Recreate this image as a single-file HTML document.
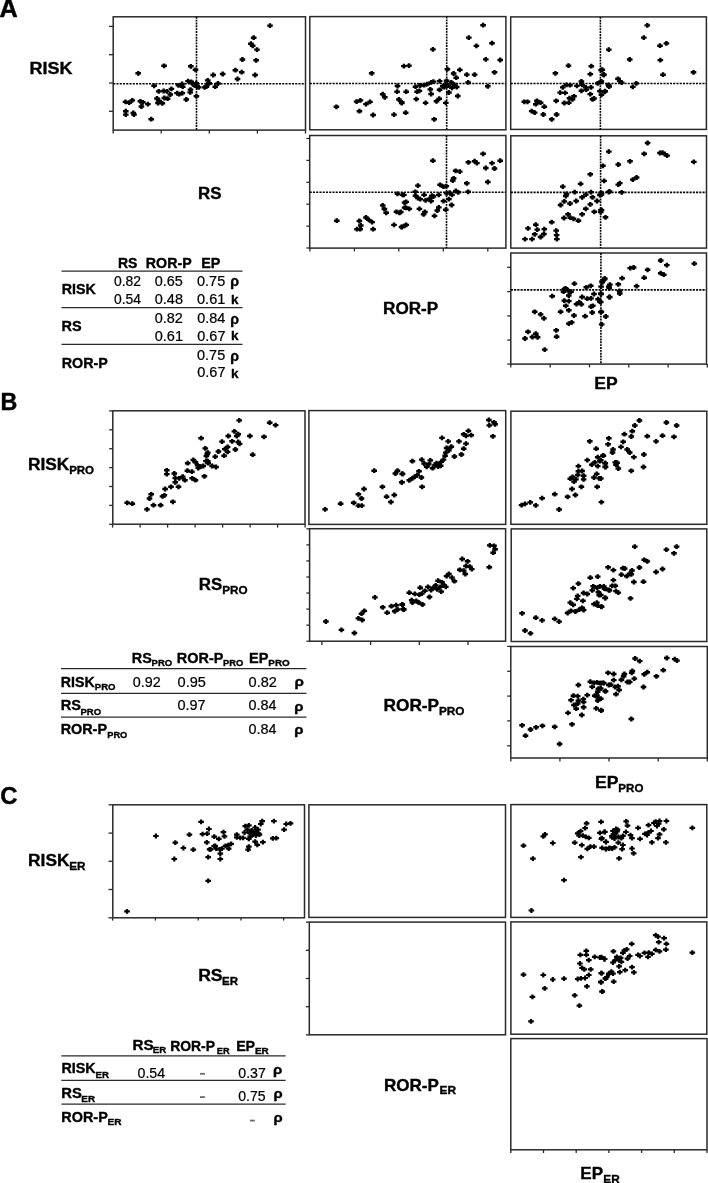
<!DOCTYPE html>
<html><head><meta charset="utf-8"><title>Figure</title>
<style>
html,body{margin:0;padding:0;background:#fff;}
body{width:708px;height:1183px;overflow:hidden;}
svg{display:block;will-change:transform;}
svg text{font-family:"Liberation Sans",sans-serif;fill:#000;}
</style></head>
<body>
<svg width="708" height="1183" viewBox="0 0 708 1183">
<rect width="708" height="1183" fill="#fff"/>
<rect x="113.20" y="16.80" width="192.30" height="113.30" fill="none" stroke="#2a2a2a" stroke-width="1.5"/>
<rect x="309.80" y="16.60" width="196.10" height="113.20" fill="none" stroke="#2a2a2a" stroke-width="1.5"/>
<rect x="510.70" y="16.90" width="195.70" height="112.50" fill="none" stroke="#2a2a2a" stroke-width="1.5"/>
<rect x="309.70" y="135.50" width="196.20" height="112.60" fill="none" stroke="#2a2a2a" stroke-width="1.5"/>
<rect x="510.80" y="135.80" width="195.70" height="112.30" fill="none" stroke="#2a2a2a" stroke-width="1.5"/>
<rect x="510.80" y="253.00" width="195.70" height="111.10" fill="none" stroke="#2a2a2a" stroke-width="1.5"/>
<line x1="109.00" y1="26.40" x2="113.20" y2="26.40" stroke="#2a2a2a" stroke-width="1.3"/>
<line x1="109.00" y1="54.70" x2="113.20" y2="54.70" stroke="#2a2a2a" stroke-width="1.3"/>
<line x1="109.00" y1="83.00" x2="113.20" y2="83.00" stroke="#2a2a2a" stroke-width="1.3"/>
<line x1="109.00" y1="111.30" x2="113.20" y2="111.30" stroke="#2a2a2a" stroke-width="1.3"/>
<line x1="113.20" y1="130.10" x2="113.20" y2="133.60" stroke="#2a2a2a" stroke-width="1.3"/>
<line x1="161.20" y1="130.10" x2="161.20" y2="133.60" stroke="#2a2a2a" stroke-width="1.3"/>
<line x1="209.30" y1="130.10" x2="209.30" y2="133.60" stroke="#2a2a2a" stroke-width="1.3"/>
<line x1="257.40" y1="130.10" x2="257.40" y2="133.60" stroke="#2a2a2a" stroke-width="1.3"/>
<line x1="305.50" y1="130.10" x2="305.50" y2="133.60" stroke="#2a2a2a" stroke-width="1.3"/>
<line x1="306.40" y1="138.50" x2="309.70" y2="138.50" stroke="#2a2a2a" stroke-width="1.3"/>
<line x1="306.40" y1="160.40" x2="309.70" y2="160.40" stroke="#2a2a2a" stroke-width="1.3"/>
<line x1="306.40" y1="182.30" x2="309.70" y2="182.30" stroke="#2a2a2a" stroke-width="1.3"/>
<line x1="306.40" y1="204.20" x2="309.70" y2="204.20" stroke="#2a2a2a" stroke-width="1.3"/>
<line x1="306.40" y1="226.10" x2="309.70" y2="226.10" stroke="#2a2a2a" stroke-width="1.3"/>
<line x1="306.40" y1="248.00" x2="309.70" y2="248.00" stroke="#2a2a2a" stroke-width="1.3"/>
<line x1="309.90" y1="248.10" x2="309.90" y2="251.50" stroke="#2a2a2a" stroke-width="1.3"/>
<line x1="354.40" y1="248.10" x2="354.40" y2="251.50" stroke="#2a2a2a" stroke-width="1.3"/>
<line x1="398.80" y1="248.10" x2="398.80" y2="251.50" stroke="#2a2a2a" stroke-width="1.3"/>
<line x1="443.30" y1="248.10" x2="443.30" y2="251.50" stroke="#2a2a2a" stroke-width="1.3"/>
<line x1="487.80" y1="248.10" x2="487.80" y2="251.50" stroke="#2a2a2a" stroke-width="1.3"/>
<line x1="507.20" y1="267.30" x2="510.80" y2="267.30" stroke="#2a2a2a" stroke-width="1.3"/>
<line x1="507.20" y1="291.60" x2="510.80" y2="291.60" stroke="#2a2a2a" stroke-width="1.3"/>
<line x1="507.20" y1="315.90" x2="510.80" y2="315.90" stroke="#2a2a2a" stroke-width="1.3"/>
<line x1="507.20" y1="340.10" x2="510.80" y2="340.10" stroke="#2a2a2a" stroke-width="1.3"/>
<line x1="507.20" y1="364.10" x2="510.80" y2="364.10" stroke="#2a2a2a" stroke-width="1.3"/>
<line x1="510.80" y1="364.10" x2="510.80" y2="367.40" stroke="#2a2a2a" stroke-width="1.3"/>
<line x1="550.20" y1="364.10" x2="550.20" y2="367.40" stroke="#2a2a2a" stroke-width="1.3"/>
<line x1="589.50" y1="364.10" x2="589.50" y2="367.40" stroke="#2a2a2a" stroke-width="1.3"/>
<line x1="628.80" y1="364.10" x2="628.80" y2="367.40" stroke="#2a2a2a" stroke-width="1.3"/>
<line x1="668.10" y1="364.10" x2="668.10" y2="367.40" stroke="#2a2a2a" stroke-width="1.3"/>
<line x1="707.30" y1="364.10" x2="707.30" y2="367.40" stroke="#2a2a2a" stroke-width="1.3"/>
<line x1="196.50" y1="16.80" x2="196.50" y2="130.10" stroke="#000" stroke-width="1.6" stroke-dasharray="1.9 0.95"/>
<line x1="113.20" y1="83.70" x2="305.50" y2="83.70" stroke="#000" stroke-width="1.6" stroke-dasharray="2.1 1.15"/>
<line x1="446.70" y1="16.60" x2="446.70" y2="129.80" stroke="#000" stroke-width="1.6" stroke-dasharray="1.9 0.95"/>
<line x1="309.80" y1="83.50" x2="505.90" y2="83.50" stroke="#000" stroke-width="1.6" stroke-dasharray="2.1 1.15"/>
<line x1="600.40" y1="16.90" x2="600.40" y2="129.40" stroke="#000" stroke-width="1.6" stroke-dasharray="1.9 0.95"/>
<line x1="510.70" y1="83.50" x2="706.40" y2="83.50" stroke="#000" stroke-width="1.6" stroke-dasharray="2.1 1.15"/>
<line x1="446.50" y1="135.50" x2="446.50" y2="248.10" stroke="#000" stroke-width="1.6" stroke-dasharray="1.9 0.95"/>
<line x1="309.70" y1="192.20" x2="505.90" y2="192.20" stroke="#000" stroke-width="1.6" stroke-dasharray="2.1 1.15"/>
<line x1="600.60" y1="135.80" x2="600.60" y2="248.10" stroke="#000" stroke-width="1.6" stroke-dasharray="1.9 0.95"/>
<line x1="510.80" y1="192.40" x2="706.50" y2="192.40" stroke="#000" stroke-width="1.6" stroke-dasharray="2.1 1.15"/>
<line x1="600.90" y1="253.00" x2="600.90" y2="364.10" stroke="#000" stroke-width="1.6" stroke-dasharray="1.9 0.95"/>
<line x1="510.80" y1="289.90" x2="706.50" y2="289.90" stroke="#000" stroke-width="1.6" stroke-dasharray="2.1 1.15"/>
<g fill="#000">
<path transform="translate(138.2,73.3)" d="M-2.8,-1.2h1.6v-1.2h2.4v1.2h1.6v2.4h-1.6v1.2h-2.4v-1.2h-1.6z"/>
<path transform="translate(164.1,65.8)" d="M-2.8,-1.2h1.6v-1.2h2.4v1.2h1.6v2.4h-1.6v1.2h-2.4v-1.2h-1.6z"/>
<path transform="translate(190.8,66.3)" d="M-2.8,-1.2h1.6v-1.2h2.4v1.2h1.6v2.4h-1.6v1.2h-2.4v-1.2h-1.6z"/>
<path transform="translate(195.5,69.8)" d="M-2.8,-1.2h1.6v-1.2h2.4v1.2h1.6v2.4h-1.6v1.2h-2.4v-1.2h-1.6z"/>
<path transform="translate(154.1,85.8)" d="M-2.8,-1.2h1.6v-1.2h2.4v1.2h1.6v2.4h-1.6v1.2h-2.4v-1.2h-1.6z"/>
<path transform="translate(158.7,91.4)" d="M-2.8,-1.2h1.6v-1.2h2.4v1.2h1.6v2.4h-1.6v1.2h-2.4v-1.2h-1.6z"/>
<path transform="translate(163.7,91.0)" d="M-2.8,-1.2h1.6v-1.2h2.4v1.2h1.6v2.4h-1.6v1.2h-2.4v-1.2h-1.6z"/>
<path transform="translate(166.9,91.4)" d="M-2.8,-1.2h1.6v-1.2h2.4v1.2h1.6v2.4h-1.6v1.2h-2.4v-1.2h-1.6z"/>
<path transform="translate(171.4,88.9)" d="M-2.8,-1.2h1.6v-1.2h2.4v1.2h1.6v2.4h-1.6v1.2h-2.4v-1.2h-1.6z"/>
<path transform="translate(170.3,94.5)" d="M-2.8,-1.2h1.6v-1.2h2.4v1.2h1.6v2.4h-1.6v1.2h-2.4v-1.2h-1.6z"/>
<path transform="translate(164.4,98.0)" d="M-2.8,-1.2h1.6v-1.2h2.4v1.2h1.6v2.4h-1.6v1.2h-2.4v-1.2h-1.6z"/>
<path transform="translate(167.6,98.7)" d="M-2.8,-1.2h1.6v-1.2h2.4v1.2h1.6v2.4h-1.6v1.2h-2.4v-1.2h-1.6z"/>
<path transform="translate(157.0,98.5)" d="M-2.8,-1.2h1.6v-1.2h2.4v1.2h1.6v2.4h-1.6v1.2h-2.4v-1.2h-1.6z"/>
<path transform="translate(158.0,103.0)" d="M-2.8,-1.2h1.6v-1.2h2.4v1.2h1.6v2.4h-1.6v1.2h-2.4v-1.2h-1.6z"/>
<path transform="translate(162.3,103.3)" d="M-2.8,-1.2h1.6v-1.2h2.4v1.2h1.6v2.4h-1.6v1.2h-2.4v-1.2h-1.6z"/>
<path transform="translate(159.2,100.9)" d="M-2.8,-1.2h1.6v-1.2h2.4v1.2h1.6v2.4h-1.6v1.2h-2.4v-1.2h-1.6z"/>
<path transform="translate(125.5,101.9)" d="M-2.8,-1.2h1.6v-1.2h2.4v1.2h1.6v2.4h-1.6v1.2h-2.4v-1.2h-1.6z"/>
<path transform="translate(129.1,102.7)" d="M-2.8,-1.2h1.6v-1.2h2.4v1.2h1.6v2.4h-1.6v1.2h-2.4v-1.2h-1.6z"/>
<path transform="translate(132.3,100.4)" d="M-2.8,-1.2h1.6v-1.2h2.4v1.2h1.6v2.4h-1.6v1.2h-2.4v-1.2h-1.6z"/>
<path transform="translate(140.4,101.3)" d="M-2.8,-1.2h1.6v-1.2h2.4v1.2h1.6v2.4h-1.6v1.2h-2.4v-1.2h-1.6z"/>
<path transform="translate(142.8,102.3)" d="M-2.8,-1.2h1.6v-1.2h2.4v1.2h1.6v2.4h-1.6v1.2h-2.4v-1.2h-1.6z"/>
<path transform="translate(141.4,106.5)" d="M-2.8,-1.2h1.6v-1.2h2.4v1.2h1.6v2.4h-1.6v1.2h-2.4v-1.2h-1.6z"/>
<path transform="translate(147.9,104.1)" d="M-2.8,-1.2h1.6v-1.2h2.4v1.2h1.6v2.4h-1.6v1.2h-2.4v-1.2h-1.6z"/>
<path transform="translate(125.8,111.2)" d="M-2.8,-1.2h1.6v-1.2h2.4v1.2h1.6v2.4h-1.6v1.2h-2.4v-1.2h-1.6z"/>
<path transform="translate(125.8,114.6)" d="M-2.8,-1.2h1.6v-1.2h2.4v1.2h1.6v2.4h-1.6v1.2h-2.4v-1.2h-1.6z"/>
<path transform="translate(133.3,112.9)" d="M-2.8,-1.2h1.6v-1.2h2.4v1.2h1.6v2.4h-1.6v1.2h-2.4v-1.2h-1.6z"/>
<path transform="translate(134.0,114.6)" d="M-2.8,-1.2h1.6v-1.2h2.4v1.2h1.6v2.4h-1.6v1.2h-2.4v-1.2h-1.6z"/>
<path transform="translate(151.2,119.2)" d="M-2.8,-1.2h1.6v-1.2h2.4v1.2h1.6v2.4h-1.6v1.2h-2.4v-1.2h-1.6z"/>
<path transform="translate(177.1,93.1)" d="M-2.8,-1.2h1.6v-1.2h2.4v1.2h1.6v2.4h-1.6v1.2h-2.4v-1.2h-1.6z"/>
<path transform="translate(179.2,94.2)" d="M-2.8,-1.2h1.6v-1.2h2.4v1.2h1.6v2.4h-1.6v1.2h-2.4v-1.2h-1.6z"/>
<path transform="translate(182.3,93.1)" d="M-2.8,-1.2h1.6v-1.2h2.4v1.2h1.6v2.4h-1.6v1.2h-2.4v-1.2h-1.6z"/>
<path transform="translate(178.5,85.3)" d="M-2.8,-1.2h1.6v-1.2h2.4v1.2h1.6v2.4h-1.6v1.2h-2.4v-1.2h-1.6z"/>
<path transform="translate(182.0,83.9)" d="M-2.8,-1.2h1.6v-1.2h2.4v1.2h1.6v2.4h-1.6v1.2h-2.4v-1.2h-1.6z"/>
<path transform="translate(182.7,86.7)" d="M-2.8,-1.2h1.6v-1.2h2.4v1.2h1.6v2.4h-1.6v1.2h-2.4v-1.2h-1.6z"/>
<path transform="translate(186.3,99.5)" d="M-2.8,-1.2h1.6v-1.2h2.4v1.2h1.6v2.4h-1.6v1.2h-2.4v-1.2h-1.6z"/>
<path transform="translate(188.1,81.1)" d="M-2.8,-1.2h1.6v-1.2h2.4v1.2h1.6v2.4h-1.6v1.2h-2.4v-1.2h-1.6z"/>
<path transform="translate(191.2,81.8)" d="M-2.8,-1.2h1.6v-1.2h2.4v1.2h1.6v2.4h-1.6v1.2h-2.4v-1.2h-1.6z"/>
<path transform="translate(190.5,89.6)" d="M-2.8,-1.2h1.6v-1.2h2.4v1.2h1.6v2.4h-1.6v1.2h-2.4v-1.2h-1.6z"/>
<path transform="translate(190.2,92.4)" d="M-2.8,-1.2h1.6v-1.2h2.4v1.2h1.6v2.4h-1.6v1.2h-2.4v-1.2h-1.6z"/>
<path transform="translate(193.3,84.3)" d="M-2.8,-1.2h1.6v-1.2h2.4v1.2h1.6v2.4h-1.6v1.2h-2.4v-1.2h-1.6z"/>
<path transform="translate(196.2,83.2)" d="M-2.8,-1.2h1.6v-1.2h2.4v1.2h1.6v2.4h-1.6v1.2h-2.4v-1.2h-1.6z"/>
<path transform="translate(197.3,86.7)" d="M-2.8,-1.2h1.6v-1.2h2.4v1.2h1.6v2.4h-1.6v1.2h-2.4v-1.2h-1.6z"/>
<path transform="translate(198.7,87.4)" d="M-2.8,-1.2h1.6v-1.2h2.4v1.2h1.6v2.4h-1.6v1.2h-2.4v-1.2h-1.6z"/>
<path transform="translate(196.4,96.2)" d="M-2.8,-1.2h1.6v-1.2h2.4v1.2h1.6v2.4h-1.6v1.2h-2.4v-1.2h-1.6z"/>
<path transform="translate(194.5,85.3)" d="M-2.8,-1.2h1.6v-1.2h2.4v1.2h1.6v2.4h-1.6v1.2h-2.4v-1.2h-1.6z"/>
<path transform="translate(204.6,87.4)" d="M-2.8,-1.2h1.6v-1.2h2.4v1.2h1.6v2.4h-1.6v1.2h-2.4v-1.2h-1.6z"/>
<path transform="translate(207.7,80.4)" d="M-2.8,-1.2h1.6v-1.2h2.4v1.2h1.6v2.4h-1.6v1.2h-2.4v-1.2h-1.6z"/>
<path transform="translate(208.2,83.9)" d="M-2.8,-1.2h1.6v-1.2h2.4v1.2h1.6v2.4h-1.6v1.2h-2.4v-1.2h-1.6z"/>
<path transform="translate(270.0,25.6)" d="M-2.8,-1.2h1.6v-1.2h2.4v1.2h1.6v2.4h-1.6v1.2h-2.4v-1.2h-1.6z"/>
<path transform="translate(253.7,37.7)" d="M-2.8,-1.2h1.6v-1.2h2.4v1.2h1.6v2.4h-1.6v1.2h-2.4v-1.2h-1.6z"/>
<path transform="translate(250.9,43.7)" d="M-2.8,-1.2h1.6v-1.2h2.4v1.2h1.6v2.4h-1.6v1.2h-2.4v-1.2h-1.6z"/>
<path transform="translate(252.7,45.8)" d="M-2.8,-1.2h1.6v-1.2h2.4v1.2h1.6v2.4h-1.6v1.2h-2.4v-1.2h-1.6z"/>
<path transform="translate(257.0,49.6)" d="M-2.8,-1.2h1.6v-1.2h2.4v1.2h1.6v2.4h-1.6v1.2h-2.4v-1.2h-1.6z"/>
<path transform="translate(242.4,59.5)" d="M-2.8,-1.2h1.6v-1.2h2.4v1.2h1.6v2.4h-1.6v1.2h-2.4v-1.2h-1.6z"/>
<path transform="translate(256.1,60.3)" d="M-2.8,-1.2h1.6v-1.2h2.4v1.2h1.6v2.4h-1.6v1.2h-2.4v-1.2h-1.6z"/>
<path transform="translate(235.4,70.2)" d="M-2.8,-1.2h1.6v-1.2h2.4v1.2h1.6v2.4h-1.6v1.2h-2.4v-1.2h-1.6z"/>
<path transform="translate(241.7,72.2)" d="M-2.8,-1.2h1.6v-1.2h2.4v1.2h1.6v2.4h-1.6v1.2h-2.4v-1.2h-1.6z"/>
<path transform="translate(237.5,79.0)" d="M-2.8,-1.2h1.6v-1.2h2.4v1.2h1.6v2.4h-1.6v1.2h-2.4v-1.2h-1.6z"/>
<path transform="translate(255.1,75.0)" d="M-2.8,-1.2h1.6v-1.2h2.4v1.2h1.6v2.4h-1.6v1.2h-2.4v-1.2h-1.6z"/>
<path transform="translate(213.2,75.0)" d="M-2.8,-1.2h1.6v-1.2h2.4v1.2h1.6v2.4h-1.6v1.2h-2.4v-1.2h-1.6z"/>
<path transform="translate(222.7,74.0)" d="M-2.8,-1.2h1.6v-1.2h2.4v1.2h1.6v2.4h-1.6v1.2h-2.4v-1.2h-1.6z"/>
<path transform="translate(209.2,83.2)" d="M-2.8,-1.2h1.6v-1.2h2.4v1.2h1.6v2.4h-1.6v1.2h-2.4v-1.2h-1.6z"/>
<path transform="translate(206.4,86.7)" d="M-2.8,-1.2h1.6v-1.2h2.4v1.2h1.6v2.4h-1.6v1.2h-2.4v-1.2h-1.6z"/>
<path transform="translate(215.2,86.7)" d="M-2.8,-1.2h1.6v-1.2h2.4v1.2h1.6v2.4h-1.6v1.2h-2.4v-1.2h-1.6z"/>
<path transform="translate(218.0,83.5)" d="M-2.8,-1.2h1.6v-1.2h2.4v1.2h1.6v2.4h-1.6v1.2h-2.4v-1.2h-1.6z"/>
</g>
<g fill="#000">
<path transform="translate(336.4,106.8)" d="M-2.8,-1.2h1.6v-1.2h2.4v1.2h1.6v2.4h-1.6v1.2h-2.4v-1.2h-1.6z"/>
<path transform="translate(356.6,101.6)" d="M-2.8,-1.2h1.6v-1.2h2.4v1.2h1.6v2.4h-1.6v1.2h-2.4v-1.2h-1.6z"/>
<path transform="translate(360.4,100.4)" d="M-2.8,-1.2h1.6v-1.2h2.4v1.2h1.6v2.4h-1.6v1.2h-2.4v-1.2h-1.6z"/>
<path transform="translate(359.4,111.2)" d="M-2.8,-1.2h1.6v-1.2h2.4v1.2h1.6v2.4h-1.6v1.2h-2.4v-1.2h-1.6z"/>
<path transform="translate(366.0,104.1)" d="M-2.8,-1.2h1.6v-1.2h2.4v1.2h1.6v2.4h-1.6v1.2h-2.4v-1.2h-1.6z"/>
<path transform="translate(370.0,101.9)" d="M-2.8,-1.2h1.6v-1.2h2.4v1.2h1.6v2.4h-1.6v1.2h-2.4v-1.2h-1.6z"/>
<path transform="translate(373.1,115.0)" d="M-2.8,-1.2h1.6v-1.2h2.4v1.2h1.6v2.4h-1.6v1.2h-2.4v-1.2h-1.6z"/>
<path transform="translate(371.7,73.3)" d="M-2.8,-1.2h1.6v-1.2h2.4v1.2h1.6v2.4h-1.6v1.2h-2.4v-1.2h-1.6z"/>
<path transform="translate(382.7,94.2)" d="M-2.8,-1.2h1.6v-1.2h2.4v1.2h1.6v2.4h-1.6v1.2h-2.4v-1.2h-1.6z"/>
<path transform="translate(384.8,97.3)" d="M-2.8,-1.2h1.6v-1.2h2.4v1.2h1.6v2.4h-1.6v1.2h-2.4v-1.2h-1.6z"/>
<path transform="translate(394.0,114.6)" d="M-2.8,-1.2h1.6v-1.2h2.4v1.2h1.6v2.4h-1.6v1.2h-2.4v-1.2h-1.6z"/>
<path transform="translate(397.5,86.0)" d="M-2.8,-1.2h1.6v-1.2h2.4v1.2h1.6v2.4h-1.6v1.2h-2.4v-1.2h-1.6z"/>
<path transform="translate(397.1,91.7)" d="M-2.8,-1.2h1.6v-1.2h2.4v1.2h1.6v2.4h-1.6v1.2h-2.4v-1.2h-1.6z"/>
<path transform="translate(398.9,99.5)" d="M-2.8,-1.2h1.6v-1.2h2.4v1.2h1.6v2.4h-1.6v1.2h-2.4v-1.2h-1.6z"/>
<path transform="translate(401.8,103.0)" d="M-2.8,-1.2h1.6v-1.2h2.4v1.2h1.6v2.4h-1.6v1.2h-2.4v-1.2h-1.6z"/>
<path transform="translate(483.1,25.2)" d="M-2.8,-1.2h1.6v-1.2h2.4v1.2h1.6v2.4h-1.6v1.2h-2.4v-1.2h-1.6z"/>
<path transform="translate(468.8,37.6)" d="M-2.8,-1.2h1.6v-1.2h2.4v1.2h1.6v2.4h-1.6v1.2h-2.4v-1.2h-1.6z"/>
<path transform="translate(476.4,45.9)" d="M-2.8,-1.2h1.6v-1.2h2.4v1.2h1.6v2.4h-1.6v1.2h-2.4v-1.2h-1.6z"/>
<path transform="translate(492.0,43.2)" d="M-2.8,-1.2h1.6v-1.2h2.4v1.2h1.6v2.4h-1.6v1.2h-2.4v-1.2h-1.6z"/>
<path transform="translate(485.8,59.4)" d="M-2.8,-1.2h1.6v-1.2h2.4v1.2h1.6v2.4h-1.6v1.2h-2.4v-1.2h-1.6z"/>
<path transform="translate(500.2,60.0)" d="M-2.8,-1.2h1.6v-1.2h2.4v1.2h1.6v2.4h-1.6v1.2h-2.4v-1.2h-1.6z"/>
<path transform="translate(494.5,72.3)" d="M-2.8,-1.2h1.6v-1.2h2.4v1.2h1.6v2.4h-1.6v1.2h-2.4v-1.2h-1.6z"/>
<path transform="translate(487.8,86.3)" d="M-2.8,-1.2h1.6v-1.2h2.4v1.2h1.6v2.4h-1.6v1.2h-2.4v-1.2h-1.6z"/>
<path transform="translate(474.6,74.6)" d="M-2.8,-1.2h1.6v-1.2h2.4v1.2h1.6v2.4h-1.6v1.2h-2.4v-1.2h-1.6z"/>
<path transform="translate(466.8,74.6)" d="M-2.8,-1.2h1.6v-1.2h2.4v1.2h1.6v2.4h-1.6v1.2h-2.4v-1.2h-1.6z"/>
<path transform="translate(468.1,82.4)" d="M-2.8,-1.2h1.6v-1.2h2.4v1.2h1.6v2.4h-1.6v1.2h-2.4v-1.2h-1.6z"/>
<path transform="translate(459.8,69.9)" d="M-2.8,-1.2h1.6v-1.2h2.4v1.2h1.6v2.4h-1.6v1.2h-2.4v-1.2h-1.6z"/>
<path transform="translate(453.6,73.5)" d="M-2.8,-1.2h1.6v-1.2h2.4v1.2h1.6v2.4h-1.6v1.2h-2.4v-1.2h-1.6z"/>
<path transform="translate(456.2,77.7)" d="M-2.8,-1.2h1.6v-1.2h2.4v1.2h1.6v2.4h-1.6v1.2h-2.4v-1.2h-1.6z"/>
<path transform="translate(447.4,69.2)" d="M-2.8,-1.2h1.6v-1.2h2.4v1.2h1.6v2.4h-1.6v1.2h-2.4v-1.2h-1.6z"/>
<path transform="translate(432.9,49.4)" d="M-2.8,-1.2h1.6v-1.2h2.4v1.2h1.6v2.4h-1.6v1.2h-2.4v-1.2h-1.6z"/>
<path transform="translate(403.9,66.1)" d="M-2.8,-1.2h1.6v-1.2h2.4v1.2h1.6v2.4h-1.6v1.2h-2.4v-1.2h-1.6z"/>
<path transform="translate(409.0,65.6)" d="M-2.8,-1.2h1.6v-1.2h2.4v1.2h1.6v2.4h-1.6v1.2h-2.4v-1.2h-1.6z"/>
<path transform="translate(457.8,96.0)" d="M-2.8,-1.2h1.6v-1.2h2.4v1.2h1.6v2.4h-1.6v1.2h-2.4v-1.2h-1.6z"/>
<path transform="translate(448.9,92.5)" d="M-2.8,-1.2h1.6v-1.2h2.4v1.2h1.6v2.4h-1.6v1.2h-2.4v-1.2h-1.6z"/>
<path transform="translate(445.8,102.9)" d="M-2.8,-1.2h1.6v-1.2h2.4v1.2h1.6v2.4h-1.6v1.2h-2.4v-1.2h-1.6z"/>
<path transform="translate(434.2,119.3)" d="M-2.8,-1.2h1.6v-1.2h2.4v1.2h1.6v2.4h-1.6v1.2h-2.4v-1.2h-1.6z"/>
<path transform="translate(405.7,112.7)" d="M-2.8,-1.2h1.6v-1.2h2.4v1.2h1.6v2.4h-1.6v1.2h-2.4v-1.2h-1.6z"/>
<path transform="translate(401.6,102.3)" d="M-2.8,-1.2h1.6v-1.2h2.4v1.2h1.6v2.4h-1.6v1.2h-2.4v-1.2h-1.6z"/>
<path transform="translate(406.2,91.7)" d="M-2.8,-1.2h1.6v-1.2h2.4v1.2h1.6v2.4h-1.6v1.2h-2.4v-1.2h-1.6z"/>
<path transform="translate(416.3,99.1)" d="M-2.8,-1.2h1.6v-1.2h2.4v1.2h1.6v2.4h-1.6v1.2h-2.4v-1.2h-1.6z"/>
<path transform="translate(425.6,102.9)" d="M-2.8,-1.2h1.6v-1.2h2.4v1.2h1.6v2.4h-1.6v1.2h-2.4v-1.2h-1.6z"/>
<path transform="translate(436.5,101.3)" d="M-2.8,-1.2h1.6v-1.2h2.4v1.2h1.6v2.4h-1.6v1.2h-2.4v-1.2h-1.6z"/>
<path transform="translate(439.2,98.7)" d="M-2.8,-1.2h1.6v-1.2h2.4v1.2h1.6v2.4h-1.6v1.2h-2.4v-1.2h-1.6z"/>
<path transform="translate(431.1,94.0)" d="M-2.8,-1.2h1.6v-1.2h2.4v1.2h1.6v2.4h-1.6v1.2h-2.4v-1.2h-1.6z"/>
<path transform="translate(430.3,89.4)" d="M-2.8,-1.2h1.6v-1.2h2.4v1.2h1.6v2.4h-1.6v1.2h-2.4v-1.2h-1.6z"/>
<path transform="translate(417.1,91.7)" d="M-2.8,-1.2h1.6v-1.2h2.4v1.2h1.6v2.4h-1.6v1.2h-2.4v-1.2h-1.6z"/>
<path transform="translate(419.4,90.9)" d="M-2.8,-1.2h1.6v-1.2h2.4v1.2h1.6v2.4h-1.6v1.2h-2.4v-1.2h-1.6z"/>
<path transform="translate(415.5,86.7)" d="M-2.8,-1.2h1.6v-1.2h2.4v1.2h1.6v2.4h-1.6v1.2h-2.4v-1.2h-1.6z"/>
<path transform="translate(420.2,85.5)" d="M-2.8,-1.2h1.6v-1.2h2.4v1.2h1.6v2.4h-1.6v1.2h-2.4v-1.2h-1.6z"/>
<path transform="translate(424.1,85.2)" d="M-2.8,-1.2h1.6v-1.2h2.4v1.2h1.6v2.4h-1.6v1.2h-2.4v-1.2h-1.6z"/>
<path transform="translate(427.2,84.2)" d="M-2.8,-1.2h1.6v-1.2h2.4v1.2h1.6v2.4h-1.6v1.2h-2.4v-1.2h-1.6z"/>
<path transform="translate(431.1,82.4)" d="M-2.8,-1.2h1.6v-1.2h2.4v1.2h1.6v2.4h-1.6v1.2h-2.4v-1.2h-1.6z"/>
<path transform="translate(433.4,81.6)" d="M-2.8,-1.2h1.6v-1.2h2.4v1.2h1.6v2.4h-1.6v1.2h-2.4v-1.2h-1.6z"/>
<path transform="translate(439.6,81.1)" d="M-2.8,-1.2h1.6v-1.2h2.4v1.2h1.6v2.4h-1.6v1.2h-2.4v-1.2h-1.6z"/>
<path transform="translate(439.6,89.8)" d="M-2.8,-1.2h1.6v-1.2h2.4v1.2h1.6v2.4h-1.6v1.2h-2.4v-1.2h-1.6z"/>
<path transform="translate(442.7,86.3)" d="M-2.8,-1.2h1.6v-1.2h2.4v1.2h1.6v2.4h-1.6v1.2h-2.4v-1.2h-1.6z"/>
<path transform="translate(445.1,84.7)" d="M-2.8,-1.2h1.6v-1.2h2.4v1.2h1.6v2.4h-1.6v1.2h-2.4v-1.2h-1.6z"/>
<path transform="translate(446.6,80.8)" d="M-2.8,-1.2h1.6v-1.2h2.4v1.2h1.6v2.4h-1.6v1.2h-2.4v-1.2h-1.6z"/>
<path transform="translate(448.2,85.5)" d="M-2.8,-1.2h1.6v-1.2h2.4v1.2h1.6v2.4h-1.6v1.2h-2.4v-1.2h-1.6z"/>
<path transform="translate(451.3,82.4)" d="M-2.8,-1.2h1.6v-1.2h2.4v1.2h1.6v2.4h-1.6v1.2h-2.4v-1.2h-1.6z"/>
<path transform="translate(452.0,87.8)" d="M-2.8,-1.2h1.6v-1.2h2.4v1.2h1.6v2.4h-1.6v1.2h-2.4v-1.2h-1.6z"/>
<path transform="translate(454.4,84.7)" d="M-2.8,-1.2h1.6v-1.2h2.4v1.2h1.6v2.4h-1.6v1.2h-2.4v-1.2h-1.6z"/>
<path transform="translate(456.7,87.0)" d="M-2.8,-1.2h1.6v-1.2h2.4v1.2h1.6v2.4h-1.6v1.2h-2.4v-1.2h-1.6z"/>
<path transform="translate(444.3,87.0)" d="M-2.8,-1.2h1.6v-1.2h2.4v1.2h1.6v2.4h-1.6v1.2h-2.4v-1.2h-1.6z"/>
</g>
<g fill="#000">
<path transform="translate(524.3,101.8)" d="M-2.8,-1.2h1.6v-1.2h2.4v1.2h1.6v2.4h-1.6v1.2h-2.4v-1.2h-1.6z"/>
<path transform="translate(527.5,101.8)" d="M-2.8,-1.2h1.6v-1.2h2.4v1.2h1.6v2.4h-1.6v1.2h-2.4v-1.2h-1.6z"/>
<path transform="translate(536.9,100.8)" d="M-2.8,-1.2h1.6v-1.2h2.4v1.2h1.6v2.4h-1.6v1.2h-2.4v-1.2h-1.6z"/>
<path transform="translate(540.6,102.7)" d="M-2.8,-1.2h1.6v-1.2h2.4v1.2h1.6v2.4h-1.6v1.2h-2.4v-1.2h-1.6z"/>
<path transform="translate(535.8,104.2)" d="M-2.8,-1.2h1.6v-1.2h2.4v1.2h1.6v2.4h-1.6v1.2h-2.4v-1.2h-1.6z"/>
<path transform="translate(544.3,106.7)" d="M-2.8,-1.2h1.6v-1.2h2.4v1.2h1.6v2.4h-1.6v1.2h-2.4v-1.2h-1.6z"/>
<path transform="translate(531.7,111.1)" d="M-2.8,-1.2h1.6v-1.2h2.4v1.2h1.6v2.4h-1.6v1.2h-2.4v-1.2h-1.6z"/>
<path transform="translate(534.7,112.6)" d="M-2.8,-1.2h1.6v-1.2h2.4v1.2h1.6v2.4h-1.6v1.2h-2.4v-1.2h-1.6z"/>
<path transform="translate(543.3,114.5)" d="M-2.8,-1.2h1.6v-1.2h2.4v1.2h1.6v2.4h-1.6v1.2h-2.4v-1.2h-1.6z"/>
<path transform="translate(551.7,119.3)" d="M-2.8,-1.2h1.6v-1.2h2.4v1.2h1.6v2.4h-1.6v1.2h-2.4v-1.2h-1.6z"/>
<path transform="translate(556.6,114.5)" d="M-2.8,-1.2h1.6v-1.2h2.4v1.2h1.6v2.4h-1.6v1.2h-2.4v-1.2h-1.6z"/>
<path transform="translate(556.2,100.8)" d="M-2.8,-1.2h1.6v-1.2h2.4v1.2h1.6v2.4h-1.6v1.2h-2.4v-1.2h-1.6z"/>
<path transform="translate(555.4,73.3)" d="M-2.8,-1.2h1.6v-1.2h2.4v1.2h1.6v2.4h-1.6v1.2h-2.4v-1.2h-1.6z"/>
<path transform="translate(568.5,65.6)" d="M-2.8,-1.2h1.6v-1.2h2.4v1.2h1.6v2.4h-1.6v1.2h-2.4v-1.2h-1.6z"/>
<path transform="translate(560.2,92.6)" d="M-2.8,-1.2h1.6v-1.2h2.4v1.2h1.6v2.4h-1.6v1.2h-2.4v-1.2h-1.6z"/>
<path transform="translate(565.1,92.9)" d="M-2.8,-1.2h1.6v-1.2h2.4v1.2h1.6v2.4h-1.6v1.2h-2.4v-1.2h-1.6z"/>
<path transform="translate(562.8,87.4)" d="M-2.8,-1.2h1.6v-1.2h2.4v1.2h1.6v2.4h-1.6v1.2h-2.4v-1.2h-1.6z"/>
<path transform="translate(566.5,84.9)" d="M-2.8,-1.2h1.6v-1.2h2.4v1.2h1.6v2.4h-1.6v1.2h-2.4v-1.2h-1.6z"/>
<path transform="translate(570.0,85.2)" d="M-2.8,-1.2h1.6v-1.2h2.4v1.2h1.6v2.4h-1.6v1.2h-2.4v-1.2h-1.6z"/>
<path transform="translate(564.3,103.0)" d="M-2.8,-1.2h1.6v-1.2h2.4v1.2h1.6v2.4h-1.6v1.2h-2.4v-1.2h-1.6z"/>
<path transform="translate(568.8,102.7)" d="M-2.8,-1.2h1.6v-1.2h2.4v1.2h1.6v2.4h-1.6v1.2h-2.4v-1.2h-1.6z"/>
<path transform="translate(569.5,98.2)" d="M-2.8,-1.2h1.6v-1.2h2.4v1.2h1.6v2.4h-1.6v1.2h-2.4v-1.2h-1.6z"/>
<path transform="translate(572.5,99.3)" d="M-2.8,-1.2h1.6v-1.2h2.4v1.2h1.6v2.4h-1.6v1.2h-2.4v-1.2h-1.6z"/>
<path transform="translate(574.0,96.3)" d="M-2.8,-1.2h1.6v-1.2h2.4v1.2h1.6v2.4h-1.6v1.2h-2.4v-1.2h-1.6z"/>
<path transform="translate(576.9,85.9)" d="M-2.8,-1.2h1.6v-1.2h2.4v1.2h1.6v2.4h-1.6v1.2h-2.4v-1.2h-1.6z"/>
<path transform="translate(581.4,81.5)" d="M-2.8,-1.2h1.6v-1.2h2.4v1.2h1.6v2.4h-1.6v1.2h-2.4v-1.2h-1.6z"/>
<path transform="translate(582.1,84.9)" d="M-2.8,-1.2h1.6v-1.2h2.4v1.2h1.6v2.4h-1.6v1.2h-2.4v-1.2h-1.6z"/>
<path transform="translate(581.4,90.8)" d="M-2.8,-1.2h1.6v-1.2h2.4v1.2h1.6v2.4h-1.6v1.2h-2.4v-1.2h-1.6z"/>
<path transform="translate(585.8,87.4)" d="M-2.8,-1.2h1.6v-1.2h2.4v1.2h1.6v2.4h-1.6v1.2h-2.4v-1.2h-1.6z"/>
<path transform="translate(586.3,89.6)" d="M-2.8,-1.2h1.6v-1.2h2.4v1.2h1.6v2.4h-1.6v1.2h-2.4v-1.2h-1.6z"/>
<path transform="translate(591.0,87.4)" d="M-2.8,-1.2h1.6v-1.2h2.4v1.2h1.6v2.4h-1.6v1.2h-2.4v-1.2h-1.6z"/>
<path transform="translate(590.3,94.1)" d="M-2.8,-1.2h1.6v-1.2h2.4v1.2h1.6v2.4h-1.6v1.2h-2.4v-1.2h-1.6z"/>
<path transform="translate(592.5,99.3)" d="M-2.8,-1.2h1.6v-1.2h2.4v1.2h1.6v2.4h-1.6v1.2h-2.4v-1.2h-1.6z"/>
<path transform="translate(594.0,98.5)" d="M-2.8,-1.2h1.6v-1.2h2.4v1.2h1.6v2.4h-1.6v1.2h-2.4v-1.2h-1.6z"/>
<path transform="translate(590.3,74.1)" d="M-2.8,-1.2h1.6v-1.2h2.4v1.2h1.6v2.4h-1.6v1.2h-2.4v-1.2h-1.6z"/>
<path transform="translate(591.3,66.2)" d="M-2.8,-1.2h1.6v-1.2h2.4v1.2h1.6v2.4h-1.6v1.2h-2.4v-1.2h-1.6z"/>
<path transform="translate(601.1,70.1)" d="M-2.8,-1.2h1.6v-1.2h2.4v1.2h1.6v2.4h-1.6v1.2h-2.4v-1.2h-1.6z"/>
<path transform="translate(603.6,74.5)" d="M-2.8,-1.2h1.6v-1.2h2.4v1.2h1.6v2.4h-1.6v1.2h-2.4v-1.2h-1.6z"/>
<path transform="translate(597.7,83.4)" d="M-2.8,-1.2h1.6v-1.2h2.4v1.2h1.6v2.4h-1.6v1.2h-2.4v-1.2h-1.6z"/>
<path transform="translate(601.4,81.5)" d="M-2.8,-1.2h1.6v-1.2h2.4v1.2h1.6v2.4h-1.6v1.2h-2.4v-1.2h-1.6z"/>
<path transform="translate(599.9,91.1)" d="M-2.8,-1.2h1.6v-1.2h2.4v1.2h1.6v2.4h-1.6v1.2h-2.4v-1.2h-1.6z"/>
<path transform="translate(601.4,94.8)" d="M-2.8,-1.2h1.6v-1.2h2.4v1.2h1.6v2.4h-1.6v1.2h-2.4v-1.2h-1.6z"/>
<path transform="translate(605.1,91.1)" d="M-2.8,-1.2h1.6v-1.2h2.4v1.2h1.6v2.4h-1.6v1.2h-2.4v-1.2h-1.6z"/>
<path transform="translate(608.8,49.6)" d="M-2.8,-1.2h1.6v-1.2h2.4v1.2h1.6v2.4h-1.6v1.2h-2.4v-1.2h-1.6z"/>
<path transform="translate(608.8,85.9)" d="M-2.8,-1.2h1.6v-1.2h2.4v1.2h1.6v2.4h-1.6v1.2h-2.4v-1.2h-1.6z"/>
<path transform="translate(647.3,25.4)" d="M-2.8,-1.2h1.6v-1.2h2.4v1.2h1.6v2.4h-1.6v1.2h-2.4v-1.2h-1.6z"/>
<path transform="translate(643.8,37.6)" d="M-2.8,-1.2h1.6v-1.2h2.4v1.2h1.6v2.4h-1.6v1.2h-2.4v-1.2h-1.6z"/>
<path transform="translate(660.0,45.7)" d="M-2.8,-1.2h1.6v-1.2h2.4v1.2h1.6v2.4h-1.6v1.2h-2.4v-1.2h-1.6z"/>
<path transform="translate(666.4,43.4)" d="M-2.8,-1.2h1.6v-1.2h2.4v1.2h1.6v2.4h-1.6v1.2h-2.4v-1.2h-1.6z"/>
<path transform="translate(629.7,59.5)" d="M-2.8,-1.2h1.6v-1.2h2.4v1.2h1.6v2.4h-1.6v1.2h-2.4v-1.2h-1.6z"/>
<path transform="translate(660.3,60.1)" d="M-2.8,-1.2h1.6v-1.2h2.4v1.2h1.6v2.4h-1.6v1.2h-2.4v-1.2h-1.6z"/>
<path transform="translate(693.5,72.3)" d="M-2.8,-1.2h1.6v-1.2h2.4v1.2h1.6v2.4h-1.6v1.2h-2.4v-1.2h-1.6z"/>
<path transform="translate(663.0,74.7)" d="M-2.8,-1.2h1.6v-1.2h2.4v1.2h1.6v2.4h-1.6v1.2h-2.4v-1.2h-1.6z"/>
<path transform="translate(618.0,78.8)" d="M-2.8,-1.2h1.6v-1.2h2.4v1.2h1.6v2.4h-1.6v1.2h-2.4v-1.2h-1.6z"/>
<path transform="translate(619.8,81.1)" d="M-2.8,-1.2h1.6v-1.2h2.4v1.2h1.6v2.4h-1.6v1.2h-2.4v-1.2h-1.6z"/>
<path transform="translate(621.7,82.6)" d="M-2.8,-1.2h1.6v-1.2h2.4v1.2h1.6v2.4h-1.6v1.2h-2.4v-1.2h-1.6z"/>
<path transform="translate(636.3,83.4)" d="M-2.8,-1.2h1.6v-1.2h2.4v1.2h1.6v2.4h-1.6v1.2h-2.4v-1.2h-1.6z"/>
<path transform="translate(632.8,86.9)" d="M-2.8,-1.2h1.6v-1.2h2.4v1.2h1.6v2.4h-1.6v1.2h-2.4v-1.2h-1.6z"/>
<path transform="translate(609.2,86.5)" d="M-2.8,-1.2h1.6v-1.2h2.4v1.2h1.6v2.4h-1.6v1.2h-2.4v-1.2h-1.6z"/>
<path transform="translate(608.4,84.9)" d="M-2.8,-1.2h1.6v-1.2h2.4v1.2h1.6v2.4h-1.6v1.2h-2.4v-1.2h-1.6z"/>
<path transform="translate(604.6,91.8)" d="M-2.8,-1.2h1.6v-1.2h2.4v1.2h1.6v2.4h-1.6v1.2h-2.4v-1.2h-1.6z"/>
<path transform="translate(603.8,75.0)" d="M-2.8,-1.2h1.6v-1.2h2.4v1.2h1.6v2.4h-1.6v1.2h-2.4v-1.2h-1.6z"/>
<path transform="translate(602.3,69.7)" d="M-2.8,-1.2h1.6v-1.2h2.4v1.2h1.6v2.4h-1.6v1.2h-2.4v-1.2h-1.6z"/>
<path transform="translate(600.8,81.9)" d="M-2.8,-1.2h1.6v-1.2h2.4v1.2h1.6v2.4h-1.6v1.2h-2.4v-1.2h-1.6z"/>
</g>
<g fill="#000">
<path transform="translate(336.8,220.7)" d="M-2.8,-1.2h1.6v-1.2h2.4v1.2h1.6v2.4h-1.6v1.2h-2.4v-1.2h-1.6z"/>
<path transform="translate(359.4,221.0)" d="M-2.8,-1.2h1.6v-1.2h2.4v1.2h1.6v2.4h-1.6v1.2h-2.4v-1.2h-1.6z"/>
<path transform="translate(360.8,225.5)" d="M-2.8,-1.2h1.6v-1.2h2.4v1.2h1.6v2.4h-1.6v1.2h-2.4v-1.2h-1.6z"/>
<path transform="translate(357.0,229.2)" d="M-2.8,-1.2h1.6v-1.2h2.4v1.2h1.6v2.4h-1.6v1.2h-2.4v-1.2h-1.6z"/>
<path transform="translate(360.1,229.2)" d="M-2.8,-1.2h1.6v-1.2h2.4v1.2h1.6v2.4h-1.6v1.2h-2.4v-1.2h-1.6z"/>
<path transform="translate(366.0,217.5)" d="M-2.8,-1.2h1.6v-1.2h2.4v1.2h1.6v2.4h-1.6v1.2h-2.4v-1.2h-1.6z"/>
<path transform="translate(368.8,219.9)" d="M-2.8,-1.2h1.6v-1.2h2.4v1.2h1.6v2.4h-1.6v1.2h-2.4v-1.2h-1.6z"/>
<path transform="translate(372.1,222.1)" d="M-2.8,-1.2h1.6v-1.2h2.4v1.2h1.6v2.4h-1.6v1.2h-2.4v-1.2h-1.6z"/>
<path transform="translate(373.1,229.2)" d="M-2.8,-1.2h1.6v-1.2h2.4v1.2h1.6v2.4h-1.6v1.2h-2.4v-1.2h-1.6z"/>
<path transform="translate(382.7,205.4)" d="M-2.8,-1.2h1.6v-1.2h2.4v1.2h1.6v2.4h-1.6v1.2h-2.4v-1.2h-1.6z"/>
<path transform="translate(384.4,209.0)" d="M-2.8,-1.2h1.6v-1.2h2.4v1.2h1.6v2.4h-1.6v1.2h-2.4v-1.2h-1.6z"/>
<path transform="translate(386.2,212.8)" d="M-2.8,-1.2h1.6v-1.2h2.4v1.2h1.6v2.4h-1.6v1.2h-2.4v-1.2h-1.6z"/>
<path transform="translate(394.0,224.9)" d="M-2.8,-1.2h1.6v-1.2h2.4v1.2h1.6v2.4h-1.6v1.2h-2.4v-1.2h-1.6z"/>
<path transform="translate(396.5,211.8)" d="M-2.8,-1.2h1.6v-1.2h2.4v1.2h1.6v2.4h-1.6v1.2h-2.4v-1.2h-1.6z"/>
<path transform="translate(399.4,212.8)" d="M-2.8,-1.2h1.6v-1.2h2.4v1.2h1.6v2.4h-1.6v1.2h-2.4v-1.2h-1.6z"/>
<path transform="translate(397.5,193.9)" d="M-2.8,-1.2h1.6v-1.2h2.4v1.2h1.6v2.4h-1.6v1.2h-2.4v-1.2h-1.6z"/>
<path transform="translate(402.5,194.9)" d="M-2.8,-1.2h1.6v-1.2h2.4v1.2h1.6v2.4h-1.6v1.2h-2.4v-1.2h-1.6z"/>
<path transform="translate(404.6,202.6)" d="M-2.8,-1.2h1.6v-1.2h2.4v1.2h1.6v2.4h-1.6v1.2h-2.4v-1.2h-1.6z"/>
<path transform="translate(404.6,207.6)" d="M-2.8,-1.2h1.6v-1.2h2.4v1.2h1.6v2.4h-1.6v1.2h-2.4v-1.2h-1.6z"/>
<path transform="translate(401.8,226.9)" d="M-2.8,-1.2h1.6v-1.2h2.4v1.2h1.6v2.4h-1.6v1.2h-2.4v-1.2h-1.6z"/>
<path transform="translate(404.6,225.9)" d="M-2.8,-1.2h1.6v-1.2h2.4v1.2h1.6v2.4h-1.6v1.2h-2.4v-1.2h-1.6z"/>
<path transform="translate(483.1,153.8)" d="M-2.8,-1.2h1.6v-1.2h2.4v1.2h1.6v2.4h-1.6v1.2h-2.4v-1.2h-1.6z"/>
<path transform="translate(468.4,162.3)" d="M-2.8,-1.2h1.6v-1.2h2.4v1.2h1.6v2.4h-1.6v1.2h-2.4v-1.2h-1.6z"/>
<path transform="translate(474.6,161.2)" d="M-2.8,-1.2h1.6v-1.2h2.4v1.2h1.6v2.4h-1.6v1.2h-2.4v-1.2h-1.6z"/>
<path transform="translate(476.9,163.1)" d="M-2.8,-1.2h1.6v-1.2h2.4v1.2h1.6v2.4h-1.6v1.2h-2.4v-1.2h-1.6z"/>
<path transform="translate(492.0,163.1)" d="M-2.8,-1.2h1.6v-1.2h2.4v1.2h1.6v2.4h-1.6v1.2h-2.4v-1.2h-1.6z"/>
<path transform="translate(500.2,160.7)" d="M-2.8,-1.2h1.6v-1.2h2.4v1.2h1.6v2.4h-1.6v1.2h-2.4v-1.2h-1.6z"/>
<path transform="translate(485.8,168.0)" d="M-2.8,-1.2h1.6v-1.2h2.4v1.2h1.6v2.4h-1.6v1.2h-2.4v-1.2h-1.6z"/>
<path transform="translate(494.5,168.5)" d="M-2.8,-1.2h1.6v-1.2h2.4v1.2h1.6v2.4h-1.6v1.2h-2.4v-1.2h-1.6z"/>
<path transform="translate(487.8,182.0)" d="M-2.8,-1.2h1.6v-1.2h2.4v1.2h1.6v2.4h-1.6v1.2h-2.4v-1.2h-1.6z"/>
<path transform="translate(466.8,183.3)" d="M-2.8,-1.2h1.6v-1.2h2.4v1.2h1.6v2.4h-1.6v1.2h-2.4v-1.2h-1.6z"/>
<path transform="translate(468.1,191.8)" d="M-2.8,-1.2h1.6v-1.2h2.4v1.2h1.6v2.4h-1.6v1.2h-2.4v-1.2h-1.6z"/>
<path transform="translate(432.9,160.7)" d="M-2.8,-1.2h1.6v-1.2h2.4v1.2h1.6v2.4h-1.6v1.2h-2.4v-1.2h-1.6z"/>
<path transform="translate(455.6,170.8)" d="M-2.8,-1.2h1.6v-1.2h2.4v1.2h1.6v2.4h-1.6v1.2h-2.4v-1.2h-1.6z"/>
<path transform="translate(459.8,171.6)" d="M-2.8,-1.2h1.6v-1.2h2.4v1.2h1.6v2.4h-1.6v1.2h-2.4v-1.2h-1.6z"/>
<path transform="translate(453.6,178.3)" d="M-2.8,-1.2h1.6v-1.2h2.4v1.2h1.6v2.4h-1.6v1.2h-2.4v-1.2h-1.6z"/>
<path transform="translate(452.8,180.5)" d="M-2.8,-1.2h1.6v-1.2h2.4v1.2h1.6v2.4h-1.6v1.2h-2.4v-1.2h-1.6z"/>
<path transform="translate(440.1,184.8)" d="M-2.8,-1.2h1.6v-1.2h2.4v1.2h1.6v2.4h-1.6v1.2h-2.4v-1.2h-1.6z"/>
<path transform="translate(443.5,186.7)" d="M-2.8,-1.2h1.6v-1.2h2.4v1.2h1.6v2.4h-1.6v1.2h-2.4v-1.2h-1.6z"/>
<path transform="translate(446.3,186.1)" d="M-2.8,-1.2h1.6v-1.2h2.4v1.2h1.6v2.4h-1.6v1.2h-2.4v-1.2h-1.6z"/>
<path transform="translate(417.9,185.6)" d="M-2.8,-1.2h1.6v-1.2h2.4v1.2h1.6v2.4h-1.6v1.2h-2.4v-1.2h-1.6z"/>
<path transform="translate(415.2,191.8)" d="M-2.8,-1.2h1.6v-1.2h2.4v1.2h1.6v2.4h-1.6v1.2h-2.4v-1.2h-1.6z"/>
<path transform="translate(415.5,195.7)" d="M-2.8,-1.2h1.6v-1.2h2.4v1.2h1.6v2.4h-1.6v1.2h-2.4v-1.2h-1.6z"/>
<path transform="translate(417.9,198.0)" d="M-2.8,-1.2h1.6v-1.2h2.4v1.2h1.6v2.4h-1.6v1.2h-2.4v-1.2h-1.6z"/>
<path transform="translate(420.2,199.1)" d="M-2.8,-1.2h1.6v-1.2h2.4v1.2h1.6v2.4h-1.6v1.2h-2.4v-1.2h-1.6z"/>
<path transform="translate(424.1,194.9)" d="M-2.8,-1.2h1.6v-1.2h2.4v1.2h1.6v2.4h-1.6v1.2h-2.4v-1.2h-1.6z"/>
<path transform="translate(425.6,200.4)" d="M-2.8,-1.2h1.6v-1.2h2.4v1.2h1.6v2.4h-1.6v1.2h-2.4v-1.2h-1.6z"/>
<path transform="translate(429.5,198.8)" d="M-2.8,-1.2h1.6v-1.2h2.4v1.2h1.6v2.4h-1.6v1.2h-2.4v-1.2h-1.6z"/>
<path transform="translate(431.1,201.1)" d="M-2.8,-1.2h1.6v-1.2h2.4v1.2h1.6v2.4h-1.6v1.2h-2.4v-1.2h-1.6z"/>
<path transform="translate(431.9,195.7)" d="M-2.8,-1.2h1.6v-1.2h2.4v1.2h1.6v2.4h-1.6v1.2h-2.4v-1.2h-1.6z"/>
<path transform="translate(433.4,196.5)" d="M-2.8,-1.2h1.6v-1.2h2.4v1.2h1.6v2.4h-1.6v1.2h-2.4v-1.2h-1.6z"/>
<path transform="translate(438.8,194.9)" d="M-2.8,-1.2h1.6v-1.2h2.4v1.2h1.6v2.4h-1.6v1.2h-2.4v-1.2h-1.6z"/>
<path transform="translate(446.6,193.4)" d="M-2.8,-1.2h1.6v-1.2h2.4v1.2h1.6v2.4h-1.6v1.2h-2.4v-1.2h-1.6z"/>
<path transform="translate(449.7,192.6)" d="M-2.8,-1.2h1.6v-1.2h2.4v1.2h1.6v2.4h-1.6v1.2h-2.4v-1.2h-1.6z"/>
<path transform="translate(452.0,194.9)" d="M-2.8,-1.2h1.6v-1.2h2.4v1.2h1.6v2.4h-1.6v1.2h-2.4v-1.2h-1.6z"/>
<path transform="translate(455.9,191.0)" d="M-2.8,-1.2h1.6v-1.2h2.4v1.2h1.6v2.4h-1.6v1.2h-2.4v-1.2h-1.6z"/>
<path transform="translate(458.3,192.3)" d="M-2.8,-1.2h1.6v-1.2h2.4v1.2h1.6v2.4h-1.6v1.2h-2.4v-1.2h-1.6z"/>
<path transform="translate(448.9,199.1)" d="M-2.8,-1.2h1.6v-1.2h2.4v1.2h1.6v2.4h-1.6v1.2h-2.4v-1.2h-1.6z"/>
<path transform="translate(443.5,201.1)" d="M-2.8,-1.2h1.6v-1.2h2.4v1.2h1.6v2.4h-1.6v1.2h-2.4v-1.2h-1.6z"/>
<path transform="translate(451.6,205.0)" d="M-2.8,-1.2h1.6v-1.2h2.4v1.2h1.6v2.4h-1.6v1.2h-2.4v-1.2h-1.6z"/>
<path transform="translate(445.8,209.7)" d="M-2.8,-1.2h1.6v-1.2h2.4v1.2h1.6v2.4h-1.6v1.2h-2.4v-1.2h-1.6z"/>
<path transform="translate(438.8,207.4)" d="M-2.8,-1.2h1.6v-1.2h2.4v1.2h1.6v2.4h-1.6v1.2h-2.4v-1.2h-1.6z"/>
<path transform="translate(437.3,210.5)" d="M-2.8,-1.2h1.6v-1.2h2.4v1.2h1.6v2.4h-1.6v1.2h-2.4v-1.2h-1.6z"/>
<path transform="translate(434.5,215.9)" d="M-2.8,-1.2h1.6v-1.2h2.4v1.2h1.6v2.4h-1.6v1.2h-2.4v-1.2h-1.6z"/>
<path transform="translate(424.9,212.0)" d="M-2.8,-1.2h1.6v-1.2h2.4v1.2h1.6v2.4h-1.6v1.2h-2.4v-1.2h-1.6z"/>
<path transform="translate(423.6,214.3)" d="M-2.8,-1.2h1.6v-1.2h2.4v1.2h1.6v2.4h-1.6v1.2h-2.4v-1.2h-1.6z"/>
<path transform="translate(419.4,208.9)" d="M-2.8,-1.2h1.6v-1.2h2.4v1.2h1.6v2.4h-1.6v1.2h-2.4v-1.2h-1.6z"/>
<path transform="translate(406.2,201.9)" d="M-2.8,-1.2h1.6v-1.2h2.4v1.2h1.6v2.4h-1.6v1.2h-2.4v-1.2h-1.6z"/>
<path transform="translate(406.2,207.8)" d="M-2.8,-1.2h1.6v-1.2h2.4v1.2h1.6v2.4h-1.6v1.2h-2.4v-1.2h-1.6z"/>
<path transform="translate(409.3,208.9)" d="M-2.8,-1.2h1.6v-1.2h2.4v1.2h1.6v2.4h-1.6v1.2h-2.4v-1.2h-1.6z"/>
<path transform="translate(403.9,194.9)" d="M-2.8,-1.2h1.6v-1.2h2.4v1.2h1.6v2.4h-1.6v1.2h-2.4v-1.2h-1.6z"/>
<path transform="translate(400.8,212.0)" d="M-2.8,-1.2h1.6v-1.2h2.4v1.2h1.6v2.4h-1.6v1.2h-2.4v-1.2h-1.6z"/>
<path transform="translate(406.2,224.9)" d="M-2.8,-1.2h1.6v-1.2h2.4v1.2h1.6v2.4h-1.6v1.2h-2.4v-1.2h-1.6z"/>
<path transform="translate(401.6,227.1)" d="M-2.8,-1.2h1.6v-1.2h2.4v1.2h1.6v2.4h-1.6v1.2h-2.4v-1.2h-1.6z"/>
</g>
<g fill="#000">
<path transform="translate(525.0,239.1)" d="M-2.8,-1.2h1.6v-1.2h2.4v1.2h1.6v2.4h-1.6v1.2h-2.4v-1.2h-1.6z"/>
<path transform="translate(532.0,239.1)" d="M-2.8,-1.2h1.6v-1.2h2.4v1.2h1.6v2.4h-1.6v1.2h-2.4v-1.2h-1.6z"/>
<path transform="translate(528.0,228.4)" d="M-2.8,-1.2h1.6v-1.2h2.4v1.2h1.6v2.4h-1.6v1.2h-2.4v-1.2h-1.6z"/>
<path transform="translate(535.8,224.7)" d="M-2.8,-1.2h1.6v-1.2h2.4v1.2h1.6v2.4h-1.6v1.2h-2.4v-1.2h-1.6z"/>
<path transform="translate(537.3,229.6)" d="M-2.8,-1.2h1.6v-1.2h2.4v1.2h1.6v2.4h-1.6v1.2h-2.4v-1.2h-1.6z"/>
<path transform="translate(534.7,234.3)" d="M-2.8,-1.2h1.6v-1.2h2.4v1.2h1.6v2.4h-1.6v1.2h-2.4v-1.2h-1.6z"/>
<path transform="translate(540.6,237.0)" d="M-2.8,-1.2h1.6v-1.2h2.4v1.2h1.6v2.4h-1.6v1.2h-2.4v-1.2h-1.6z"/>
<path transform="translate(543.9,234.0)" d="M-2.8,-1.2h1.6v-1.2h2.4v1.2h1.6v2.4h-1.6v1.2h-2.4v-1.2h-1.6z"/>
<path transform="translate(544.3,229.1)" d="M-2.8,-1.2h1.6v-1.2h2.4v1.2h1.6v2.4h-1.6v1.2h-2.4v-1.2h-1.6z"/>
<path transform="translate(551.7,222.2)" d="M-2.8,-1.2h1.6v-1.2h2.4v1.2h1.6v2.4h-1.6v1.2h-2.4v-1.2h-1.6z"/>
<path transform="translate(556.2,230.6)" d="M-2.8,-1.2h1.6v-1.2h2.4v1.2h1.6v2.4h-1.6v1.2h-2.4v-1.2h-1.6z"/>
<path transform="translate(556.6,235.1)" d="M-2.8,-1.2h1.6v-1.2h2.4v1.2h1.6v2.4h-1.6v1.2h-2.4v-1.2h-1.6z"/>
<path transform="translate(556.9,239.1)" d="M-2.8,-1.2h1.6v-1.2h2.4v1.2h1.6v2.4h-1.6v1.2h-2.4v-1.2h-1.6z"/>
<path transform="translate(564.0,218.0)" d="M-2.8,-1.2h1.6v-1.2h2.4v1.2h1.6v2.4h-1.6v1.2h-2.4v-1.2h-1.6z"/>
<path transform="translate(568.0,214.3)" d="M-2.8,-1.2h1.6v-1.2h2.4v1.2h1.6v2.4h-1.6v1.2h-2.4v-1.2h-1.6z"/>
<path transform="translate(570.3,217.7)" d="M-2.8,-1.2h1.6v-1.2h2.4v1.2h1.6v2.4h-1.6v1.2h-2.4v-1.2h-1.6z"/>
<path transform="translate(573.5,218.8)" d="M-2.8,-1.2h1.6v-1.2h2.4v1.2h1.6v2.4h-1.6v1.2h-2.4v-1.2h-1.6z"/>
<path transform="translate(578.4,220.7)" d="M-2.8,-1.2h1.6v-1.2h2.4v1.2h1.6v2.4h-1.6v1.2h-2.4v-1.2h-1.6z"/>
<path transform="translate(582.1,214.3)" d="M-2.8,-1.2h1.6v-1.2h2.4v1.2h1.6v2.4h-1.6v1.2h-2.4v-1.2h-1.6z"/>
<path transform="translate(585.8,208.8)" d="M-2.8,-1.2h1.6v-1.2h2.4v1.2h1.6v2.4h-1.6v1.2h-2.4v-1.2h-1.6z"/>
<path transform="translate(590.3,204.4)" d="M-2.8,-1.2h1.6v-1.2h2.4v1.2h1.6v2.4h-1.6v1.2h-2.4v-1.2h-1.6z"/>
<path transform="translate(594.3,211.8)" d="M-2.8,-1.2h1.6v-1.2h2.4v1.2h1.6v2.4h-1.6v1.2h-2.4v-1.2h-1.6z"/>
<path transform="translate(560.6,205.0)" d="M-2.8,-1.2h1.6v-1.2h2.4v1.2h1.6v2.4h-1.6v1.2h-2.4v-1.2h-1.6z"/>
<path transform="translate(564.3,201.4)" d="M-2.8,-1.2h1.6v-1.2h2.4v1.2h1.6v2.4h-1.6v1.2h-2.4v-1.2h-1.6z"/>
<path transform="translate(570.0,203.5)" d="M-2.8,-1.2h1.6v-1.2h2.4v1.2h1.6v2.4h-1.6v1.2h-2.4v-1.2h-1.6z"/>
<path transform="translate(576.2,201.0)" d="M-2.8,-1.2h1.6v-1.2h2.4v1.2h1.6v2.4h-1.6v1.2h-2.4v-1.2h-1.6z"/>
<path transform="translate(565.8,196.1)" d="M-2.8,-1.2h1.6v-1.2h2.4v1.2h1.6v2.4h-1.6v1.2h-2.4v-1.2h-1.6z"/>
<path transform="translate(566.5,194.0)" d="M-2.8,-1.2h1.6v-1.2h2.4v1.2h1.6v2.4h-1.6v1.2h-2.4v-1.2h-1.6z"/>
<path transform="translate(574.7,192.1)" d="M-2.8,-1.2h1.6v-1.2h2.4v1.2h1.6v2.4h-1.6v1.2h-2.4v-1.2h-1.6z"/>
<path transform="translate(582.1,197.3)" d="M-2.8,-1.2h1.6v-1.2h2.4v1.2h1.6v2.4h-1.6v1.2h-2.4v-1.2h-1.6z"/>
<path transform="translate(585.8,194.6)" d="M-2.8,-1.2h1.6v-1.2h2.4v1.2h1.6v2.4h-1.6v1.2h-2.4v-1.2h-1.6z"/>
<path transform="translate(591.0,192.1)" d="M-2.8,-1.2h1.6v-1.2h2.4v1.2h1.6v2.4h-1.6v1.2h-2.4v-1.2h-1.6z"/>
<path transform="translate(592.5,197.3)" d="M-2.8,-1.2h1.6v-1.2h2.4v1.2h1.6v2.4h-1.6v1.2h-2.4v-1.2h-1.6z"/>
<path transform="translate(597.0,201.0)" d="M-2.8,-1.2h1.6v-1.2h2.4v1.2h1.6v2.4h-1.6v1.2h-2.4v-1.2h-1.6z"/>
<path transform="translate(562.8,186.6)" d="M-2.8,-1.2h1.6v-1.2h2.4v1.2h1.6v2.4h-1.6v1.2h-2.4v-1.2h-1.6z"/>
<path transform="translate(580.6,183.9)" d="M-2.8,-1.2h1.6v-1.2h2.4v1.2h1.6v2.4h-1.6v1.2h-2.4v-1.2h-1.6z"/>
<path transform="translate(590.3,174.3)" d="M-2.8,-1.2h1.6v-1.2h2.4v1.2h1.6v2.4h-1.6v1.2h-2.4v-1.2h-1.6z"/>
<path transform="translate(599.9,195.0)" d="M-2.8,-1.2h1.6v-1.2h2.4v1.2h1.6v2.4h-1.6v1.2h-2.4v-1.2h-1.6z"/>
<path transform="translate(601.4,192.8)" d="M-2.8,-1.2h1.6v-1.2h2.4v1.2h1.6v2.4h-1.6v1.2h-2.4v-1.2h-1.6z"/>
<path transform="translate(601.1,209.9)" d="M-2.8,-1.2h1.6v-1.2h2.4v1.2h1.6v2.4h-1.6v1.2h-2.4v-1.2h-1.6z"/>
<path transform="translate(600.7,212.1)" d="M-2.8,-1.2h1.6v-1.2h2.4v1.2h1.6v2.4h-1.6v1.2h-2.4v-1.2h-1.6z"/>
<path transform="translate(605.5,217.3)" d="M-2.8,-1.2h1.6v-1.2h2.4v1.2h1.6v2.4h-1.6v1.2h-2.4v-1.2h-1.6z"/>
<path transform="translate(602.9,165.8)" d="M-2.8,-1.2h1.6v-1.2h2.4v1.2h1.6v2.4h-1.6v1.2h-2.4v-1.2h-1.6z"/>
<path transform="translate(604.1,180.9)" d="M-2.8,-1.2h1.6v-1.2h2.4v1.2h1.6v2.4h-1.6v1.2h-2.4v-1.2h-1.6z"/>
<path transform="translate(608.8,151.6)" d="M-2.8,-1.2h1.6v-1.2h2.4v1.2h1.6v2.4h-1.6v1.2h-2.4v-1.2h-1.6z"/>
<path transform="translate(608.8,192.1)" d="M-2.8,-1.2h1.6v-1.2h2.4v1.2h1.6v2.4h-1.6v1.2h-2.4v-1.2h-1.6z"/>
<path transform="translate(647.6,143.0)" d="M-2.8,-1.2h1.6v-1.2h2.4v1.2h1.6v2.4h-1.6v1.2h-2.4v-1.2h-1.6z"/>
<path transform="translate(644.2,153.8)" d="M-2.8,-1.2h1.6v-1.2h2.4v1.2h1.6v2.4h-1.6v1.2h-2.4v-1.2h-1.6z"/>
<path transform="translate(660.0,153.0)" d="M-2.8,-1.2h1.6v-1.2h2.4v1.2h1.6v2.4h-1.6v1.2h-2.4v-1.2h-1.6z"/>
<path transform="translate(662.5,152.6)" d="M-2.8,-1.2h1.6v-1.2h2.4v1.2h1.6v2.4h-1.6v1.2h-2.4v-1.2h-1.6z"/>
<path transform="translate(664.8,154.1)" d="M-2.8,-1.2h1.6v-1.2h2.4v1.2h1.6v2.4h-1.6v1.2h-2.4v-1.2h-1.6z"/>
<path transform="translate(667.1,155.6)" d="M-2.8,-1.2h1.6v-1.2h2.4v1.2h1.6v2.4h-1.6v1.2h-2.4v-1.2h-1.6z"/>
<path transform="translate(693.8,161.9)" d="M-2.8,-1.2h1.6v-1.2h2.4v1.2h1.6v2.4h-1.6v1.2h-2.4v-1.2h-1.6z"/>
<path transform="translate(630.0,161.3)" d="M-2.8,-1.2h1.6v-1.2h2.4v1.2h1.6v2.4h-1.6v1.2h-2.4v-1.2h-1.6z"/>
<path transform="translate(618.3,164.5)" d="M-2.8,-1.2h1.6v-1.2h2.4v1.2h1.6v2.4h-1.6v1.2h-2.4v-1.2h-1.6z"/>
<path transform="translate(618.3,184.6)" d="M-2.8,-1.2h1.6v-1.2h2.4v1.2h1.6v2.4h-1.6v1.2h-2.4v-1.2h-1.6z"/>
<path transform="translate(619.8,183.1)" d="M-2.8,-1.2h1.6v-1.2h2.4v1.2h1.6v2.4h-1.6v1.2h-2.4v-1.2h-1.6z"/>
<path transform="translate(632.8,179.6)" d="M-2.8,-1.2h1.6v-1.2h2.4v1.2h1.6v2.4h-1.6v1.2h-2.4v-1.2h-1.6z"/>
<path transform="translate(636.6,177.5)" d="M-2.8,-1.2h1.6v-1.2h2.4v1.2h1.6v2.4h-1.6v1.2h-2.4v-1.2h-1.6z"/>
<path transform="translate(609.5,191.5)" d="M-2.8,-1.2h1.6v-1.2h2.4v1.2h1.6v2.4h-1.6v1.2h-2.4v-1.2h-1.6z"/>
<path transform="translate(621.7,192.3)" d="M-2.8,-1.2h1.6v-1.2h2.4v1.2h1.6v2.4h-1.6v1.2h-2.4v-1.2h-1.6z"/>
<path transform="translate(601.5,194.5)" d="M-2.8,-1.2h1.6v-1.2h2.4v1.2h1.6v2.4h-1.6v1.2h-2.4v-1.2h-1.6z"/>
<path transform="translate(601.5,210.1)" d="M-2.8,-1.2h1.6v-1.2h2.4v1.2h1.6v2.4h-1.6v1.2h-2.4v-1.2h-1.6z"/>
</g>
<g fill="#000">
<path transform="translate(525.0,338.5)" d="M-2.8,-1.2h1.6v-1.2h2.4v1.2h1.6v2.4h-1.6v1.2h-2.4v-1.2h-1.6z"/>
<path transform="translate(528.0,331.8)" d="M-2.8,-1.2h1.6v-1.2h2.4v1.2h1.6v2.4h-1.6v1.2h-2.4v-1.2h-1.6z"/>
<path transform="translate(532.4,337.0)" d="M-2.8,-1.2h1.6v-1.2h2.4v1.2h1.6v2.4h-1.6v1.2h-2.4v-1.2h-1.6z"/>
<path transform="translate(535.8,333.7)" d="M-2.8,-1.2h1.6v-1.2h2.4v1.2h1.6v2.4h-1.6v1.2h-2.4v-1.2h-1.6z"/>
<path transform="translate(537.6,337.3)" d="M-2.8,-1.2h1.6v-1.2h2.4v1.2h1.6v2.4h-1.6v1.2h-2.4v-1.2h-1.6z"/>
<path transform="translate(534.7,311.8)" d="M-2.8,-1.2h1.6v-1.2h2.4v1.2h1.6v2.4h-1.6v1.2h-2.4v-1.2h-1.6z"/>
<path transform="translate(540.6,314.4)" d="M-2.8,-1.2h1.6v-1.2h2.4v1.2h1.6v2.4h-1.6v1.2h-2.4v-1.2h-1.6z"/>
<path transform="translate(543.9,318.4)" d="M-2.8,-1.2h1.6v-1.2h2.4v1.2h1.6v2.4h-1.6v1.2h-2.4v-1.2h-1.6z"/>
<path transform="translate(544.7,349.6)" d="M-2.8,-1.2h1.6v-1.2h2.4v1.2h1.6v2.4h-1.6v1.2h-2.4v-1.2h-1.6z"/>
<path transform="translate(552.2,296.2)" d="M-2.8,-1.2h1.6v-1.2h2.4v1.2h1.6v2.4h-1.6v1.2h-2.4v-1.2h-1.6z"/>
<path transform="translate(556.2,330.3)" d="M-2.8,-1.2h1.6v-1.2h2.4v1.2h1.6v2.4h-1.6v1.2h-2.4v-1.2h-1.6z"/>
<path transform="translate(556.6,336.7)" d="M-2.8,-1.2h1.6v-1.2h2.4v1.2h1.6v2.4h-1.6v1.2h-2.4v-1.2h-1.6z"/>
<path transform="translate(560.6,311.8)" d="M-2.8,-1.2h1.6v-1.2h2.4v1.2h1.6v2.4h-1.6v1.2h-2.4v-1.2h-1.6z"/>
<path transform="translate(564.3,289.2)" d="M-2.8,-1.2h1.6v-1.2h2.4v1.2h1.6v2.4h-1.6v1.2h-2.4v-1.2h-1.6z"/>
<path transform="translate(565.5,288.3)" d="M-2.8,-1.2h1.6v-1.2h2.4v1.2h1.6v2.4h-1.6v1.2h-2.4v-1.2h-1.6z"/>
<path transform="translate(563.6,291.7)" d="M-2.8,-1.2h1.6v-1.2h2.4v1.2h1.6v2.4h-1.6v1.2h-2.4v-1.2h-1.6z"/>
<path transform="translate(568.0,290.3)" d="M-2.8,-1.2h1.6v-1.2h2.4v1.2h1.6v2.4h-1.6v1.2h-2.4v-1.2h-1.6z"/>
<path transform="translate(571.0,291.7)" d="M-2.8,-1.2h1.6v-1.2h2.4v1.2h1.6v2.4h-1.6v1.2h-2.4v-1.2h-1.6z"/>
<path transform="translate(568.8,295.5)" d="M-2.8,-1.2h1.6v-1.2h2.4v1.2h1.6v2.4h-1.6v1.2h-2.4v-1.2h-1.6z"/>
<path transform="translate(564.3,300.6)" d="M-2.8,-1.2h1.6v-1.2h2.4v1.2h1.6v2.4h-1.6v1.2h-2.4v-1.2h-1.6z"/>
<path transform="translate(568.8,301.1)" d="M-2.8,-1.2h1.6v-1.2h2.4v1.2h1.6v2.4h-1.6v1.2h-2.4v-1.2h-1.6z"/>
<path transform="translate(565.8,305.8)" d="M-2.8,-1.2h1.6v-1.2h2.4v1.2h1.6v2.4h-1.6v1.2h-2.4v-1.2h-1.6z"/>
<path transform="translate(568.8,310.3)" d="M-2.8,-1.2h1.6v-1.2h2.4v1.2h1.6v2.4h-1.6v1.2h-2.4v-1.2h-1.6z"/>
<path transform="translate(574.0,315.5)" d="M-2.8,-1.2h1.6v-1.2h2.4v1.2h1.6v2.4h-1.6v1.2h-2.4v-1.2h-1.6z"/>
<path transform="translate(568.8,323.6)" d="M-2.8,-1.2h1.6v-1.2h2.4v1.2h1.6v2.4h-1.6v1.2h-2.4v-1.2h-1.6z"/>
<path transform="translate(571.7,322.4)" d="M-2.8,-1.2h1.6v-1.2h2.4v1.2h1.6v2.4h-1.6v1.2h-2.4v-1.2h-1.6z"/>
<path transform="translate(574.4,283.6)" d="M-2.8,-1.2h1.6v-1.2h2.4v1.2h1.6v2.4h-1.6v1.2h-2.4v-1.2h-1.6z"/>
<path transform="translate(576.5,304.1)" d="M-2.8,-1.2h1.6v-1.2h2.4v1.2h1.6v2.4h-1.6v1.2h-2.4v-1.2h-1.6z"/>
<path transform="translate(579.2,302.1)" d="M-2.8,-1.2h1.6v-1.2h2.4v1.2h1.6v2.4h-1.6v1.2h-2.4v-1.2h-1.6z"/>
<path transform="translate(581.4,304.4)" d="M-2.8,-1.2h1.6v-1.2h2.4v1.2h1.6v2.4h-1.6v1.2h-2.4v-1.2h-1.6z"/>
<path transform="translate(582.1,297.0)" d="M-2.8,-1.2h1.6v-1.2h2.4v1.2h1.6v2.4h-1.6v1.2h-2.4v-1.2h-1.6z"/>
<path transform="translate(585.1,316.2)" d="M-2.8,-1.2h1.6v-1.2h2.4v1.2h1.6v2.4h-1.6v1.2h-2.4v-1.2h-1.6z"/>
<path transform="translate(586.3,287.3)" d="M-2.8,-1.2h1.6v-1.2h2.4v1.2h1.6v2.4h-1.6v1.2h-2.4v-1.2h-1.6z"/>
<path transform="translate(590.7,285.8)" d="M-2.8,-1.2h1.6v-1.2h2.4v1.2h1.6v2.4h-1.6v1.2h-2.4v-1.2h-1.6z"/>
<path transform="translate(587.3,298.7)" d="M-2.8,-1.2h1.6v-1.2h2.4v1.2h1.6v2.4h-1.6v1.2h-2.4v-1.2h-1.6z"/>
<path transform="translate(591.0,298.4)" d="M-2.8,-1.2h1.6v-1.2h2.4v1.2h1.6v2.4h-1.6v1.2h-2.4v-1.2h-1.6z"/>
<path transform="translate(594.0,294.0)" d="M-2.8,-1.2h1.6v-1.2h2.4v1.2h1.6v2.4h-1.6v1.2h-2.4v-1.2h-1.6z"/>
<path transform="translate(591.0,306.6)" d="M-2.8,-1.2h1.6v-1.2h2.4v1.2h1.6v2.4h-1.6v1.2h-2.4v-1.2h-1.6z"/>
<path transform="translate(592.8,305.8)" d="M-2.8,-1.2h1.6v-1.2h2.4v1.2h1.6v2.4h-1.6v1.2h-2.4v-1.2h-1.6z"/>
<path transform="translate(592.2,312.5)" d="M-2.8,-1.2h1.6v-1.2h2.4v1.2h1.6v2.4h-1.6v1.2h-2.4v-1.2h-1.6z"/>
<path transform="translate(598.1,299.2)" d="M-2.8,-1.2h1.6v-1.2h2.4v1.2h1.6v2.4h-1.6v1.2h-2.4v-1.2h-1.6z"/>
<path transform="translate(599.9,301.7)" d="M-2.8,-1.2h1.6v-1.2h2.4v1.2h1.6v2.4h-1.6v1.2h-2.4v-1.2h-1.6z"/>
<path transform="translate(601.1,294.0)" d="M-2.8,-1.2h1.6v-1.2h2.4v1.2h1.6v2.4h-1.6v1.2h-2.4v-1.2h-1.6z"/>
<path transform="translate(601.1,286.6)" d="M-2.8,-1.2h1.6v-1.2h2.4v1.2h1.6v2.4h-1.6v1.2h-2.4v-1.2h-1.6z"/>
<path transform="translate(602.1,281.4)" d="M-2.8,-1.2h1.6v-1.2h2.4v1.2h1.6v2.4h-1.6v1.2h-2.4v-1.2h-1.6z"/>
<path transform="translate(604.7,278.4)" d="M-2.8,-1.2h1.6v-1.2h2.4v1.2h1.6v2.4h-1.6v1.2h-2.4v-1.2h-1.6z"/>
<path transform="translate(601.4,311.8)" d="M-2.8,-1.2h1.6v-1.2h2.4v1.2h1.6v2.4h-1.6v1.2h-2.4v-1.2h-1.6z"/>
<path transform="translate(601.7,324.4)" d="M-2.8,-1.2h1.6v-1.2h2.4v1.2h1.6v2.4h-1.6v1.2h-2.4v-1.2h-1.6z"/>
<path transform="translate(605.8,316.5)" d="M-2.8,-1.2h1.6v-1.2h2.4v1.2h1.6v2.4h-1.6v1.2h-2.4v-1.2h-1.6z"/>
<path transform="translate(609.6,297.0)" d="M-2.8,-1.2h1.6v-1.2h2.4v1.2h1.6v2.4h-1.6v1.2h-2.4v-1.2h-1.6z"/>
<path transform="translate(608.8,286.6)" d="M-2.8,-1.2h1.6v-1.2h2.4v1.2h1.6v2.4h-1.6v1.2h-2.4v-1.2h-1.6z"/>
<path transform="translate(660.7,260.5)" d="M-2.8,-1.2h1.6v-1.2h2.4v1.2h1.6v2.4h-1.6v1.2h-2.4v-1.2h-1.6z"/>
<path transform="translate(666.8,265.1)" d="M-2.8,-1.2h1.6v-1.2h2.4v1.2h1.6v2.4h-1.6v1.2h-2.4v-1.2h-1.6z"/>
<path transform="translate(694.3,263.6)" d="M-2.8,-1.2h1.6v-1.2h2.4v1.2h1.6v2.4h-1.6v1.2h-2.4v-1.2h-1.6z"/>
<path transform="translate(630.2,268.1)" d="M-2.8,-1.2h1.6v-1.2h2.4v1.2h1.6v2.4h-1.6v1.2h-2.4v-1.2h-1.6z"/>
<path transform="translate(633.6,267.5)" d="M-2.8,-1.2h1.6v-1.2h2.4v1.2h1.6v2.4h-1.6v1.2h-2.4v-1.2h-1.6z"/>
<path transform="translate(647.6,269.8)" d="M-2.8,-1.2h1.6v-1.2h2.4v1.2h1.6v2.4h-1.6v1.2h-2.4v-1.2h-1.6z"/>
<path transform="translate(660.7,273.2)" d="M-2.8,-1.2h1.6v-1.2h2.4v1.2h1.6v2.4h-1.6v1.2h-2.4v-1.2h-1.6z"/>
<path transform="translate(663.8,274.7)" d="M-2.8,-1.2h1.6v-1.2h2.4v1.2h1.6v2.4h-1.6v1.2h-2.4v-1.2h-1.6z"/>
<path transform="translate(644.2,277.7)" d="M-2.8,-1.2h1.6v-1.2h2.4v1.2h1.6v2.4h-1.6v1.2h-2.4v-1.2h-1.6z"/>
<path transform="translate(622.1,278.2)" d="M-2.8,-1.2h1.6v-1.2h2.4v1.2h1.6v2.4h-1.6v1.2h-2.4v-1.2h-1.6z"/>
<path transform="translate(636.6,286.1)" d="M-2.8,-1.2h1.6v-1.2h2.4v1.2h1.6v2.4h-1.6v1.2h-2.4v-1.2h-1.6z"/>
<path transform="translate(618.3,284.3)" d="M-2.8,-1.2h1.6v-1.2h2.4v1.2h1.6v2.4h-1.6v1.2h-2.4v-1.2h-1.6z"/>
<path transform="translate(619.5,291.0)" d="M-2.8,-1.2h1.6v-1.2h2.4v1.2h1.6v2.4h-1.6v1.2h-2.4v-1.2h-1.6z"/>
<path transform="translate(619.8,293.5)" d="M-2.8,-1.2h1.6v-1.2h2.4v1.2h1.6v2.4h-1.6v1.2h-2.4v-1.2h-1.6z"/>
<path transform="translate(609.9,284.6)" d="M-2.8,-1.2h1.6v-1.2h2.4v1.2h1.6v2.4h-1.6v1.2h-2.4v-1.2h-1.6z"/>
<path transform="translate(609.2,288.0)" d="M-2.8,-1.2h1.6v-1.2h2.4v1.2h1.6v2.4h-1.6v1.2h-2.4v-1.2h-1.6z"/>
<path transform="translate(609.5,297.1)" d="M-2.8,-1.2h1.6v-1.2h2.4v1.2h1.6v2.4h-1.6v1.2h-2.4v-1.2h-1.6z"/>
<path transform="translate(604.6,279.3)" d="M-2.8,-1.2h1.6v-1.2h2.4v1.2h1.6v2.4h-1.6v1.2h-2.4v-1.2h-1.6z"/>
<path transform="translate(602.3,282.3)" d="M-2.8,-1.2h1.6v-1.2h2.4v1.2h1.6v2.4h-1.6v1.2h-2.4v-1.2h-1.6z"/>
<path transform="translate(600.8,293.8)" d="M-2.8,-1.2h1.6v-1.2h2.4v1.2h1.6v2.4h-1.6v1.2h-2.4v-1.2h-1.6z"/>
<path transform="translate(600.8,302.1)" d="M-2.8,-1.2h1.6v-1.2h2.4v1.2h1.6v2.4h-1.6v1.2h-2.4v-1.2h-1.6z"/>
<path transform="translate(600.8,312.1)" d="M-2.8,-1.2h1.6v-1.2h2.4v1.2h1.6v2.4h-1.6v1.2h-2.4v-1.2h-1.6z"/>
</g>
<line x1="61.50" y1="271.10" x2="242.50" y2="271.10" stroke="#2a2a2a" stroke-width="1.2"/>
<line x1="61.50" y1="307.60" x2="242.50" y2="307.60" stroke="#2a2a2a" stroke-width="1.2"/>
<line x1="61.50" y1="344.40" x2="242.50" y2="344.40" stroke="#2a2a2a" stroke-width="1.2"/>
<rect x="112.80" y="410.80" width="192.20" height="113.40" fill="none" stroke="#2a2a2a" stroke-width="1.5"/>
<rect x="308.90" y="410.60" width="196.80" height="113.80" fill="none" stroke="#2a2a2a" stroke-width="1.5"/>
<rect x="510.90" y="411.20" width="195.90" height="113.10" fill="none" stroke="#2a2a2a" stroke-width="1.5"/>
<rect x="309.60" y="528.70" width="196.00" height="112.50" fill="none" stroke="#2a2a2a" stroke-width="1.5"/>
<rect x="511.20" y="528.90" width="195.60" height="112.60" fill="none" stroke="#2a2a2a" stroke-width="1.5"/>
<rect x="510.80" y="646.50" width="196.50" height="111.50" fill="none" stroke="#2a2a2a" stroke-width="1.5"/>
<line x1="109.20" y1="410.90" x2="112.80" y2="410.90" stroke="#2a2a2a" stroke-width="1.3"/>
<line x1="109.20" y1="429.80" x2="112.80" y2="429.80" stroke="#2a2a2a" stroke-width="1.3"/>
<line x1="109.20" y1="448.70" x2="112.80" y2="448.70" stroke="#2a2a2a" stroke-width="1.3"/>
<line x1="109.20" y1="467.60" x2="112.80" y2="467.60" stroke="#2a2a2a" stroke-width="1.3"/>
<line x1="109.20" y1="486.50" x2="112.80" y2="486.50" stroke="#2a2a2a" stroke-width="1.3"/>
<line x1="109.20" y1="505.40" x2="112.80" y2="505.40" stroke="#2a2a2a" stroke-width="1.3"/>
<line x1="109.20" y1="524.30" x2="112.80" y2="524.30" stroke="#2a2a2a" stroke-width="1.3"/>
<line x1="112.60" y1="524.20" x2="112.60" y2="527.60" stroke="#2a2a2a" stroke-width="1.3"/>
<line x1="140.10" y1="524.20" x2="140.10" y2="527.60" stroke="#2a2a2a" stroke-width="1.3"/>
<line x1="167.60" y1="524.20" x2="167.60" y2="527.60" stroke="#2a2a2a" stroke-width="1.3"/>
<line x1="195.10" y1="524.20" x2="195.10" y2="527.60" stroke="#2a2a2a" stroke-width="1.3"/>
<line x1="222.60" y1="524.20" x2="222.60" y2="527.60" stroke="#2a2a2a" stroke-width="1.3"/>
<line x1="250.10" y1="524.20" x2="250.10" y2="527.60" stroke="#2a2a2a" stroke-width="1.3"/>
<line x1="277.60" y1="524.20" x2="277.60" y2="527.60" stroke="#2a2a2a" stroke-width="1.3"/>
<line x1="305.10" y1="524.20" x2="305.10" y2="527.60" stroke="#2a2a2a" stroke-width="1.3"/>
<line x1="306.40" y1="528.80" x2="309.60" y2="528.80" stroke="#2a2a2a" stroke-width="1.3"/>
<line x1="306.40" y1="544.86" x2="309.60" y2="544.86" stroke="#2a2a2a" stroke-width="1.3"/>
<line x1="306.40" y1="560.92" x2="309.60" y2="560.92" stroke="#2a2a2a" stroke-width="1.3"/>
<line x1="306.40" y1="576.98" x2="309.60" y2="576.98" stroke="#2a2a2a" stroke-width="1.3"/>
<line x1="306.40" y1="593.04" x2="309.60" y2="593.04" stroke="#2a2a2a" stroke-width="1.3"/>
<line x1="306.40" y1="609.10" x2="309.60" y2="609.10" stroke="#2a2a2a" stroke-width="1.3"/>
<line x1="306.40" y1="625.16" x2="309.60" y2="625.16" stroke="#2a2a2a" stroke-width="1.3"/>
<line x1="306.40" y1="641.22" x2="309.60" y2="641.22" stroke="#2a2a2a" stroke-width="1.3"/>
<line x1="321.90" y1="641.20" x2="321.90" y2="645.00" stroke="#2a2a2a" stroke-width="1.3"/>
<line x1="370.60" y1="641.20" x2="370.60" y2="645.00" stroke="#2a2a2a" stroke-width="1.3"/>
<line x1="419.30" y1="641.20" x2="419.30" y2="645.00" stroke="#2a2a2a" stroke-width="1.3"/>
<line x1="468.00" y1="641.20" x2="468.00" y2="645.00" stroke="#2a2a2a" stroke-width="1.3"/>
<line x1="507.20" y1="646.40" x2="510.80" y2="646.40" stroke="#2a2a2a" stroke-width="1.3"/>
<line x1="507.20" y1="671.30" x2="510.80" y2="671.30" stroke="#2a2a2a" stroke-width="1.3"/>
<line x1="507.20" y1="696.10" x2="510.80" y2="696.10" stroke="#2a2a2a" stroke-width="1.3"/>
<line x1="507.20" y1="720.90" x2="510.80" y2="720.90" stroke="#2a2a2a" stroke-width="1.3"/>
<line x1="507.20" y1="745.80" x2="510.80" y2="745.80" stroke="#2a2a2a" stroke-width="1.3"/>
<line x1="510.80" y1="758.00" x2="510.80" y2="761.40" stroke="#2a2a2a" stroke-width="1.3"/>
<line x1="559.90" y1="758.00" x2="559.90" y2="761.40" stroke="#2a2a2a" stroke-width="1.3"/>
<line x1="609.00" y1="758.00" x2="609.00" y2="761.40" stroke="#2a2a2a" stroke-width="1.3"/>
<line x1="658.20" y1="758.00" x2="658.20" y2="761.40" stroke="#2a2a2a" stroke-width="1.3"/>
<line x1="707.30" y1="758.00" x2="707.30" y2="761.40" stroke="#2a2a2a" stroke-width="1.3"/>
<g fill="#000">
<path transform="translate(127.2,502.8)" d="M-2.8,-1.2h1.6v-1.2h2.4v1.2h1.6v2.4h-1.6v1.2h-2.4v-1.2h-1.6z"/>
<path transform="translate(132.3,503.7)" d="M-2.8,-1.2h1.6v-1.2h2.4v1.2h1.6v2.4h-1.6v1.2h-2.4v-1.2h-1.6z"/>
<path transform="translate(147.0,509.4)" d="M-2.8,-1.2h1.6v-1.2h2.4v1.2h1.6v2.4h-1.6v1.2h-2.4v-1.2h-1.6z"/>
<path transform="translate(153.5,505.2)" d="M-2.8,-1.2h1.6v-1.2h2.4v1.2h1.6v2.4h-1.6v1.2h-2.4v-1.2h-1.6z"/>
<path transform="translate(149.5,498.5)" d="M-2.8,-1.2h1.6v-1.2h2.4v1.2h1.6v2.4h-1.6v1.2h-2.4v-1.2h-1.6z"/>
<path transform="translate(151.2,494.3)" d="M-2.8,-1.2h1.6v-1.2h2.4v1.2h1.6v2.4h-1.6v1.2h-2.4v-1.2h-1.6z"/>
<path transform="translate(160.6,505.2)" d="M-2.8,-1.2h1.6v-1.2h2.4v1.2h1.6v2.4h-1.6v1.2h-2.4v-1.2h-1.6z"/>
<path transform="translate(162.5,496.4)" d="M-2.8,-1.2h1.6v-1.2h2.4v1.2h1.6v2.4h-1.6v1.2h-2.4v-1.2h-1.6z"/>
<path transform="translate(164.4,495.3)" d="M-2.8,-1.2h1.6v-1.2h2.4v1.2h1.6v2.4h-1.6v1.2h-2.4v-1.2h-1.6z"/>
<path transform="translate(165.1,489.0)" d="M-2.8,-1.2h1.6v-1.2h2.4v1.2h1.6v2.4h-1.6v1.2h-2.4v-1.2h-1.6z"/>
<path transform="translate(171.0,486.8)" d="M-2.8,-1.2h1.6v-1.2h2.4v1.2h1.6v2.4h-1.6v1.2h-2.4v-1.2h-1.6z"/>
<path transform="translate(172.9,501.8)" d="M-2.8,-1.2h1.6v-1.2h2.4v1.2h1.6v2.4h-1.6v1.2h-2.4v-1.2h-1.6z"/>
<path transform="translate(166.8,470.3)" d="M-2.8,-1.2h1.6v-1.2h2.4v1.2h1.6v2.4h-1.6v1.2h-2.4v-1.2h-1.6z"/>
<path transform="translate(166.8,474.1)" d="M-2.8,-1.2h1.6v-1.2h2.4v1.2h1.6v2.4h-1.6v1.2h-2.4v-1.2h-1.6z"/>
<path transform="translate(174.3,473.5)" d="M-2.8,-1.2h1.6v-1.2h2.4v1.2h1.6v2.4h-1.6v1.2h-2.4v-1.2h-1.6z"/>
<path transform="translate(175.3,478.0)" d="M-2.8,-1.2h1.6v-1.2h2.4v1.2h1.6v2.4h-1.6v1.2h-2.4v-1.2h-1.6z"/>
<path transform="translate(175.3,482.3)" d="M-2.8,-1.2h1.6v-1.2h2.4v1.2h1.6v2.4h-1.6v1.2h-2.4v-1.2h-1.6z"/>
<path transform="translate(178.5,486.8)" d="M-2.8,-1.2h1.6v-1.2h2.4v1.2h1.6v2.4h-1.6v1.2h-2.4v-1.2h-1.6z"/>
<path transform="translate(179.2,478.3)" d="M-2.8,-1.2h1.6v-1.2h2.4v1.2h1.6v2.4h-1.6v1.2h-2.4v-1.2h-1.6z"/>
<path transform="translate(182.7,476.6)" d="M-2.8,-1.2h1.6v-1.2h2.4v1.2h1.6v2.4h-1.6v1.2h-2.4v-1.2h-1.6z"/>
<path transform="translate(184.9,480.2)" d="M-2.8,-1.2h1.6v-1.2h2.4v1.2h1.6v2.4h-1.6v1.2h-2.4v-1.2h-1.6z"/>
<path transform="translate(187.4,470.7)" d="M-2.8,-1.2h1.6v-1.2h2.4v1.2h1.6v2.4h-1.6v1.2h-2.4v-1.2h-1.6z"/>
<path transform="translate(187.7,463.2)" d="M-2.8,-1.2h1.6v-1.2h2.4v1.2h1.6v2.4h-1.6v1.2h-2.4v-1.2h-1.6z"/>
<path transform="translate(191.9,471.7)" d="M-2.8,-1.2h1.6v-1.2h2.4v1.2h1.6v2.4h-1.6v1.2h-2.4v-1.2h-1.6z"/>
<path transform="translate(192.2,478.3)" d="M-2.8,-1.2h1.6v-1.2h2.4v1.2h1.6v2.4h-1.6v1.2h-2.4v-1.2h-1.6z"/>
<path transform="translate(195.5,480.2)" d="M-2.8,-1.2h1.6v-1.2h2.4v1.2h1.6v2.4h-1.6v1.2h-2.4v-1.2h-1.6z"/>
<path transform="translate(193.3,460.0)" d="M-2.8,-1.2h1.6v-1.2h2.4v1.2h1.6v2.4h-1.6v1.2h-2.4v-1.2h-1.6z"/>
<path transform="translate(195.5,462.2)" d="M-2.8,-1.2h1.6v-1.2h2.4v1.2h1.6v2.4h-1.6v1.2h-2.4v-1.2h-1.6z"/>
<path transform="translate(197.6,465.3)" d="M-2.8,-1.2h1.6v-1.2h2.4v1.2h1.6v2.4h-1.6v1.2h-2.4v-1.2h-1.6z"/>
<path transform="translate(198.3,468.1)" d="M-2.8,-1.2h1.6v-1.2h2.4v1.2h1.6v2.4h-1.6v1.2h-2.4v-1.2h-1.6z"/>
<path transform="translate(200.7,466.7)" d="M-2.8,-1.2h1.6v-1.2h2.4v1.2h1.6v2.4h-1.6v1.2h-2.4v-1.2h-1.6z"/>
<path transform="translate(203.2,466.0)" d="M-2.8,-1.2h1.6v-1.2h2.4v1.2h1.6v2.4h-1.6v1.2h-2.4v-1.2h-1.6z"/>
<path transform="translate(201.1,438.2)" d="M-2.8,-1.2h1.6v-1.2h2.4v1.2h1.6v2.4h-1.6v1.2h-2.4v-1.2h-1.6z"/>
<path transform="translate(205.3,448.4)" d="M-2.8,-1.2h1.6v-1.2h2.4v1.2h1.6v2.4h-1.6v1.2h-2.4v-1.2h-1.6z"/>
<path transform="translate(207.2,454.0)" d="M-2.8,-1.2h1.6v-1.2h2.4v1.2h1.6v2.4h-1.6v1.2h-2.4v-1.2h-1.6z"/>
<path transform="translate(206.0,461.1)" d="M-2.8,-1.2h1.6v-1.2h2.4v1.2h1.6v2.4h-1.6v1.2h-2.4v-1.2h-1.6z"/>
<path transform="translate(208.2,463.2)" d="M-2.8,-1.2h1.6v-1.2h2.4v1.2h1.6v2.4h-1.6v1.2h-2.4v-1.2h-1.6z"/>
<path transform="translate(204.4,476.3)" d="M-2.8,-1.2h1.6v-1.2h2.4v1.2h1.6v2.4h-1.6v1.2h-2.4v-1.2h-1.6z"/>
<path transform="translate(239.2,420.4)" d="M-2.8,-1.2h1.6v-1.2h2.4v1.2h1.6v2.4h-1.6v1.2h-2.4v-1.2h-1.6z"/>
<path transform="translate(269.7,422.7)" d="M-2.8,-1.2h1.6v-1.2h2.4v1.2h1.6v2.4h-1.6v1.2h-2.4v-1.2h-1.6z"/>
<path transform="translate(275.6,425.1)" d="M-2.8,-1.2h1.6v-1.2h2.4v1.2h1.6v2.4h-1.6v1.2h-2.4v-1.2h-1.6z"/>
<path transform="translate(249.9,436.0)" d="M-2.8,-1.2h1.6v-1.2h2.4v1.2h1.6v2.4h-1.6v1.2h-2.4v-1.2h-1.6z"/>
<path transform="translate(264.0,436.8)" d="M-2.8,-1.2h1.6v-1.2h2.4v1.2h1.6v2.4h-1.6v1.2h-2.4v-1.2h-1.6z"/>
<path transform="translate(234.4,431.4)" d="M-2.8,-1.2h1.6v-1.2h2.4v1.2h1.6v2.4h-1.6v1.2h-2.4v-1.2h-1.6z"/>
<path transform="translate(238.2,434.2)" d="M-2.8,-1.2h1.6v-1.2h2.4v1.2h1.6v2.4h-1.6v1.2h-2.4v-1.2h-1.6z"/>
<path transform="translate(236.8,436.0)" d="M-2.8,-1.2h1.6v-1.2h2.4v1.2h1.6v2.4h-1.6v1.2h-2.4v-1.2h-1.6z"/>
<path transform="translate(228.3,436.0)" d="M-2.8,-1.2h1.6v-1.2h2.4v1.2h1.6v2.4h-1.6v1.2h-2.4v-1.2h-1.6z"/>
<path transform="translate(222.0,441.6)" d="M-2.8,-1.2h1.6v-1.2h2.4v1.2h1.6v2.4h-1.6v1.2h-2.4v-1.2h-1.6z"/>
<path transform="translate(232.1,441.3)" d="M-2.8,-1.2h1.6v-1.2h2.4v1.2h1.6v2.4h-1.6v1.2h-2.4v-1.2h-1.6z"/>
<path transform="translate(238.2,442.0)" d="M-2.8,-1.2h1.6v-1.2h2.4v1.2h1.6v2.4h-1.6v1.2h-2.4v-1.2h-1.6z"/>
<path transform="translate(239.6,443.9)" d="M-2.8,-1.2h1.6v-1.2h2.4v1.2h1.6v2.4h-1.6v1.2h-2.4v-1.2h-1.6z"/>
<path transform="translate(227.6,447.0)" d="M-2.8,-1.2h1.6v-1.2h2.4v1.2h1.6v2.4h-1.6v1.2h-2.4v-1.2h-1.6z"/>
<path transform="translate(224.8,449.1)" d="M-2.8,-1.2h1.6v-1.2h2.4v1.2h1.6v2.4h-1.6v1.2h-2.4v-1.2h-1.6z"/>
<path transform="translate(227.6,451.9)" d="M-2.8,-1.2h1.6v-1.2h2.4v1.2h1.6v2.4h-1.6v1.2h-2.4v-1.2h-1.6z"/>
<path transform="translate(235.4,449.5)" d="M-2.8,-1.2h1.6v-1.2h2.4v1.2h1.6v2.4h-1.6v1.2h-2.4v-1.2h-1.6z"/>
<path transform="translate(218.4,451.5)" d="M-2.8,-1.2h1.6v-1.2h2.4v1.2h1.6v2.4h-1.6v1.2h-2.4v-1.2h-1.6z"/>
<path transform="translate(215.2,456.6)" d="M-2.8,-1.2h1.6v-1.2h2.4v1.2h1.6v2.4h-1.6v1.2h-2.4v-1.2h-1.6z"/>
<path transform="translate(224.1,455.7)" d="M-2.8,-1.2h1.6v-1.2h2.4v1.2h1.6v2.4h-1.6v1.2h-2.4v-1.2h-1.6z"/>
<path transform="translate(252.7,454.7)" d="M-2.8,-1.2h1.6v-1.2h2.4v1.2h1.6v2.4h-1.6v1.2h-2.4v-1.2h-1.6z"/>
<path transform="translate(207.8,452.6)" d="M-2.8,-1.2h1.6v-1.2h2.4v1.2h1.6v2.4h-1.6v1.2h-2.4v-1.2h-1.6z"/>
<path transform="translate(206.4,456.1)" d="M-2.8,-1.2h1.6v-1.2h2.4v1.2h1.6v2.4h-1.6v1.2h-2.4v-1.2h-1.6z"/>
<path transform="translate(207.8,461.1)" d="M-2.8,-1.2h1.6v-1.2h2.4v1.2h1.6v2.4h-1.6v1.2h-2.4v-1.2h-1.6z"/>
<path transform="translate(212.1,466.0)" d="M-2.8,-1.2h1.6v-1.2h2.4v1.2h1.6v2.4h-1.6v1.2h-2.4v-1.2h-1.6z"/>
<path transform="translate(216.0,467.0)" d="M-2.8,-1.2h1.6v-1.2h2.4v1.2h1.6v2.4h-1.6v1.2h-2.4v-1.2h-1.6z"/>
</g>
<g fill="#000">
<path transform="translate(325.1,509.4)" d="M-2.8,-1.2h1.6v-1.2h2.4v1.2h1.6v2.4h-1.6v1.2h-2.4v-1.2h-1.6z"/>
<path transform="translate(340.6,503.7)" d="M-2.8,-1.2h1.6v-1.2h2.4v1.2h1.6v2.4h-1.6v1.2h-2.4v-1.2h-1.6z"/>
<path transform="translate(353.7,502.8)" d="M-2.8,-1.2h1.6v-1.2h2.4v1.2h1.6v2.4h-1.6v1.2h-2.4v-1.2h-1.6z"/>
<path transform="translate(358.4,505.6)" d="M-2.8,-1.2h1.6v-1.2h2.4v1.2h1.6v2.4h-1.6v1.2h-2.4v-1.2h-1.6z"/>
<path transform="translate(361.8,505.6)" d="M-2.8,-1.2h1.6v-1.2h2.4v1.2h1.6v2.4h-1.6v1.2h-2.4v-1.2h-1.6z"/>
<path transform="translate(361.5,498.5)" d="M-2.8,-1.2h1.6v-1.2h2.4v1.2h1.6v2.4h-1.6v1.2h-2.4v-1.2h-1.6z"/>
<path transform="translate(358.4,494.3)" d="M-2.8,-1.2h1.6v-1.2h2.4v1.2h1.6v2.4h-1.6v1.2h-2.4v-1.2h-1.6z"/>
<path transform="translate(364.0,489.0)" d="M-2.8,-1.2h1.6v-1.2h2.4v1.2h1.6v2.4h-1.6v1.2h-2.4v-1.2h-1.6z"/>
<path transform="translate(374.2,470.7)" d="M-2.8,-1.2h1.6v-1.2h2.4v1.2h1.6v2.4h-1.6v1.2h-2.4v-1.2h-1.6z"/>
<path transform="translate(382.4,486.8)" d="M-2.8,-1.2h1.6v-1.2h2.4v1.2h1.6v2.4h-1.6v1.2h-2.4v-1.2h-1.6z"/>
<path transform="translate(386.6,496.7)" d="M-2.8,-1.2h1.6v-1.2h2.4v1.2h1.6v2.4h-1.6v1.2h-2.4v-1.2h-1.6z"/>
<path transform="translate(394.3,495.0)" d="M-2.8,-1.2h1.6v-1.2h2.4v1.2h1.6v2.4h-1.6v1.2h-2.4v-1.2h-1.6z"/>
<path transform="translate(390.9,502.0)" d="M-2.8,-1.2h1.6v-1.2h2.4v1.2h1.6v2.4h-1.6v1.2h-2.4v-1.2h-1.6z"/>
<path transform="translate(397.5,470.7)" d="M-2.8,-1.2h1.6v-1.2h2.4v1.2h1.6v2.4h-1.6v1.2h-2.4v-1.2h-1.6z"/>
<path transform="translate(395.4,473.5)" d="M-2.8,-1.2h1.6v-1.2h2.4v1.2h1.6v2.4h-1.6v1.2h-2.4v-1.2h-1.6z"/>
<path transform="translate(402.5,474.1)" d="M-2.8,-1.2h1.6v-1.2h2.4v1.2h1.6v2.4h-1.6v1.2h-2.4v-1.2h-1.6z"/>
<path transform="translate(401.8,482.3)" d="M-2.8,-1.2h1.6v-1.2h2.4v1.2h1.6v2.4h-1.6v1.2h-2.4v-1.2h-1.6z"/>
<path transform="translate(488.9,420.0)" d="M-2.8,-1.2h1.6v-1.2h2.4v1.2h1.6v2.4h-1.6v1.2h-2.4v-1.2h-1.6z"/>
<path transform="translate(489.3,425.4)" d="M-2.8,-1.2h1.6v-1.2h2.4v1.2h1.6v2.4h-1.6v1.2h-2.4v-1.2h-1.6z"/>
<path transform="translate(494.0,422.3)" d="M-2.8,-1.2h1.6v-1.2h2.4v1.2h1.6v2.4h-1.6v1.2h-2.4v-1.2h-1.6z"/>
<path transform="translate(495.1,424.3)" d="M-2.8,-1.2h1.6v-1.2h2.4v1.2h1.6v2.4h-1.6v1.2h-2.4v-1.2h-1.6z"/>
<path transform="translate(492.9,436.3)" d="M-2.8,-1.2h1.6v-1.2h2.4v1.2h1.6v2.4h-1.6v1.2h-2.4v-1.2h-1.6z"/>
<path transform="translate(468.4,430.9)" d="M-2.8,-1.2h1.6v-1.2h2.4v1.2h1.6v2.4h-1.6v1.2h-2.4v-1.2h-1.6z"/>
<path transform="translate(463.7,434.3)" d="M-2.8,-1.2h1.6v-1.2h2.4v1.2h1.6v2.4h-1.6v1.2h-2.4v-1.2h-1.6z"/>
<path transform="translate(466.0,435.8)" d="M-2.8,-1.2h1.6v-1.2h2.4v1.2h1.6v2.4h-1.6v1.2h-2.4v-1.2h-1.6z"/>
<path transform="translate(471.2,435.2)" d="M-2.8,-1.2h1.6v-1.2h2.4v1.2h1.6v2.4h-1.6v1.2h-2.4v-1.2h-1.6z"/>
<path transform="translate(442.0,437.9)" d="M-2.8,-1.2h1.6v-1.2h2.4v1.2h1.6v2.4h-1.6v1.2h-2.4v-1.2h-1.6z"/>
<path transform="translate(448.2,441.4)" d="M-2.8,-1.2h1.6v-1.2h2.4v1.2h1.6v2.4h-1.6v1.2h-2.4v-1.2h-1.6z"/>
<path transform="translate(459.0,441.4)" d="M-2.8,-1.2h1.6v-1.2h2.4v1.2h1.6v2.4h-1.6v1.2h-2.4v-1.2h-1.6z"/>
<path transform="translate(466.0,443.6)" d="M-2.8,-1.2h1.6v-1.2h2.4v1.2h1.6v2.4h-1.6v1.2h-2.4v-1.2h-1.6z"/>
<path transform="translate(463.7,448.7)" d="M-2.8,-1.2h1.6v-1.2h2.4v1.2h1.6v2.4h-1.6v1.2h-2.4v-1.2h-1.6z"/>
<path transform="translate(461.4,454.5)" d="M-2.8,-1.2h1.6v-1.2h2.4v1.2h1.6v2.4h-1.6v1.2h-2.4v-1.2h-1.6z"/>
<path transform="translate(454.4,456.5)" d="M-2.8,-1.2h1.6v-1.2h2.4v1.2h1.6v2.4h-1.6v1.2h-2.4v-1.2h-1.6z"/>
<path transform="translate(451.3,446.7)" d="M-2.8,-1.2h1.6v-1.2h2.4v1.2h1.6v2.4h-1.6v1.2h-2.4v-1.2h-1.6z"/>
<path transform="translate(446.6,448.0)" d="M-2.8,-1.2h1.6v-1.2h2.4v1.2h1.6v2.4h-1.6v1.2h-2.4v-1.2h-1.6z"/>
<path transform="translate(448.9,450.3)" d="M-2.8,-1.2h1.6v-1.2h2.4v1.2h1.6v2.4h-1.6v1.2h-2.4v-1.2h-1.6z"/>
<path transform="translate(445.8,452.6)" d="M-2.8,-1.2h1.6v-1.2h2.4v1.2h1.6v2.4h-1.6v1.2h-2.4v-1.2h-1.6z"/>
<path transform="translate(445.1,455.7)" d="M-2.8,-1.2h1.6v-1.2h2.4v1.2h1.6v2.4h-1.6v1.2h-2.4v-1.2h-1.6z"/>
<path transform="translate(443.5,459.6)" d="M-2.8,-1.2h1.6v-1.2h2.4v1.2h1.6v2.4h-1.6v1.2h-2.4v-1.2h-1.6z"/>
<path transform="translate(441.2,461.9)" d="M-2.8,-1.2h1.6v-1.2h2.4v1.2h1.6v2.4h-1.6v1.2h-2.4v-1.2h-1.6z"/>
<path transform="translate(438.8,464.3)" d="M-2.8,-1.2h1.6v-1.2h2.4v1.2h1.6v2.4h-1.6v1.2h-2.4v-1.2h-1.6z"/>
<path transform="translate(436.5,463.2)" d="M-2.8,-1.2h1.6v-1.2h2.4v1.2h1.6v2.4h-1.6v1.2h-2.4v-1.2h-1.6z"/>
<path transform="translate(440.7,465.8)" d="M-2.8,-1.2h1.6v-1.2h2.4v1.2h1.6v2.4h-1.6v1.2h-2.4v-1.2h-1.6z"/>
<path transform="translate(438.1,466.6)" d="M-2.8,-1.2h1.6v-1.2h2.4v1.2h1.6v2.4h-1.6v1.2h-2.4v-1.2h-1.6z"/>
<path transform="translate(435.0,465.0)" d="M-2.8,-1.2h1.6v-1.2h2.4v1.2h1.6v2.4h-1.6v1.2h-2.4v-1.2h-1.6z"/>
<path transform="translate(432.6,468.2)" d="M-2.8,-1.2h1.6v-1.2h2.4v1.2h1.6v2.4h-1.6v1.2h-2.4v-1.2h-1.6z"/>
<path transform="translate(430.3,460.4)" d="M-2.8,-1.2h1.6v-1.2h2.4v1.2h1.6v2.4h-1.6v1.2h-2.4v-1.2h-1.6z"/>
<path transform="translate(428.7,464.3)" d="M-2.8,-1.2h1.6v-1.2h2.4v1.2h1.6v2.4h-1.6v1.2h-2.4v-1.2h-1.6z"/>
<path transform="translate(426.7,466.9)" d="M-2.8,-1.2h1.6v-1.2h2.4v1.2h1.6v2.4h-1.6v1.2h-2.4v-1.2h-1.6z"/>
<path transform="translate(421.8,459.6)" d="M-2.8,-1.2h1.6v-1.2h2.4v1.2h1.6v2.4h-1.6v1.2h-2.4v-1.2h-1.6z"/>
<path transform="translate(424.1,463.5)" d="M-2.8,-1.2h1.6v-1.2h2.4v1.2h1.6v2.4h-1.6v1.2h-2.4v-1.2h-1.6z"/>
<path transform="translate(412.4,461.2)" d="M-2.8,-1.2h1.6v-1.2h2.4v1.2h1.6v2.4h-1.6v1.2h-2.4v-1.2h-1.6z"/>
<path transform="translate(419.0,471.3)" d="M-2.8,-1.2h1.6v-1.2h2.4v1.2h1.6v2.4h-1.6v1.2h-2.4v-1.2h-1.6z"/>
<path transform="translate(417.1,475.1)" d="M-2.8,-1.2h1.6v-1.2h2.4v1.2h1.6v2.4h-1.6v1.2h-2.4v-1.2h-1.6z"/>
<path transform="translate(421.4,477.5)" d="M-2.8,-1.2h1.6v-1.2h2.4v1.2h1.6v2.4h-1.6v1.2h-2.4v-1.2h-1.6z"/>
<path transform="translate(414.8,476.7)" d="M-2.8,-1.2h1.6v-1.2h2.4v1.2h1.6v2.4h-1.6v1.2h-2.4v-1.2h-1.6z"/>
<path transform="translate(412.4,478.3)" d="M-2.8,-1.2h1.6v-1.2h2.4v1.2h1.6v2.4h-1.6v1.2h-2.4v-1.2h-1.6z"/>
<path transform="translate(409.3,480.3)" d="M-2.8,-1.2h1.6v-1.2h2.4v1.2h1.6v2.4h-1.6v1.2h-2.4v-1.2h-1.6z"/>
<path transform="translate(402.3,473.6)" d="M-2.8,-1.2h1.6v-1.2h2.4v1.2h1.6v2.4h-1.6v1.2h-2.4v-1.2h-1.6z"/>
<path transform="translate(401.9,482.1)" d="M-2.8,-1.2h1.6v-1.2h2.4v1.2h1.6v2.4h-1.6v1.2h-2.4v-1.2h-1.6z"/>
<path transform="translate(422.1,486.8)" d="M-2.8,-1.2h1.6v-1.2h2.4v1.2h1.6v2.4h-1.6v1.2h-2.4v-1.2h-1.6z"/>
</g>
<g fill="#000">
<path transform="translate(521.6,505.1)" d="M-2.8,-1.2h1.6v-1.2h2.4v1.2h1.6v2.4h-1.6v1.2h-2.4v-1.2h-1.6z"/>
<path transform="translate(525.0,503.9)" d="M-2.8,-1.2h1.6v-1.2h2.4v1.2h1.6v2.4h-1.6v1.2h-2.4v-1.2h-1.6z"/>
<path transform="translate(530.2,502.4)" d="M-2.8,-1.2h1.6v-1.2h2.4v1.2h1.6v2.4h-1.6v1.2h-2.4v-1.2h-1.6z"/>
<path transform="translate(535.8,505.4)" d="M-2.8,-1.2h1.6v-1.2h2.4v1.2h1.6v2.4h-1.6v1.2h-2.4v-1.2h-1.6z"/>
<path transform="translate(542.1,498.2)" d="M-2.8,-1.2h1.6v-1.2h2.4v1.2h1.6v2.4h-1.6v1.2h-2.4v-1.2h-1.6z"/>
<path transform="translate(554.7,494.2)" d="M-2.8,-1.2h1.6v-1.2h2.4v1.2h1.6v2.4h-1.6v1.2h-2.4v-1.2h-1.6z"/>
<path transform="translate(559.1,509.5)" d="M-2.8,-1.2h1.6v-1.2h2.4v1.2h1.6v2.4h-1.6v1.2h-2.4v-1.2h-1.6z"/>
<path transform="translate(567.6,496.8)" d="M-2.8,-1.2h1.6v-1.2h2.4v1.2h1.6v2.4h-1.6v1.2h-2.4v-1.2h-1.6z"/>
<path transform="translate(575.4,495.0)" d="M-2.8,-1.2h1.6v-1.2h2.4v1.2h1.6v2.4h-1.6v1.2h-2.4v-1.2h-1.6z"/>
<path transform="translate(572.0,489.0)" d="M-2.8,-1.2h1.6v-1.2h2.4v1.2h1.6v2.4h-1.6v1.2h-2.4v-1.2h-1.6z"/>
<path transform="translate(581.4,486.8)" d="M-2.8,-1.2h1.6v-1.2h2.4v1.2h1.6v2.4h-1.6v1.2h-2.4v-1.2h-1.6z"/>
<path transform="translate(570.3,478.7)" d="M-2.8,-1.2h1.6v-1.2h2.4v1.2h1.6v2.4h-1.6v1.2h-2.4v-1.2h-1.6z"/>
<path transform="translate(572.5,476.9)" d="M-2.8,-1.2h1.6v-1.2h2.4v1.2h1.6v2.4h-1.6v1.2h-2.4v-1.2h-1.6z"/>
<path transform="translate(574.0,481.6)" d="M-2.8,-1.2h1.6v-1.2h2.4v1.2h1.6v2.4h-1.6v1.2h-2.4v-1.2h-1.6z"/>
<path transform="translate(575.9,479.4)" d="M-2.8,-1.2h1.6v-1.2h2.4v1.2h1.6v2.4h-1.6v1.2h-2.4v-1.2h-1.6z"/>
<path transform="translate(577.7,475.0)" d="M-2.8,-1.2h1.6v-1.2h2.4v1.2h1.6v2.4h-1.6v1.2h-2.4v-1.2h-1.6z"/>
<path transform="translate(578.4,471.3)" d="M-2.8,-1.2h1.6v-1.2h2.4v1.2h1.6v2.4h-1.6v1.2h-2.4v-1.2h-1.6z"/>
<path transform="translate(578.4,466.1)" d="M-2.8,-1.2h1.6v-1.2h2.4v1.2h1.6v2.4h-1.6v1.2h-2.4v-1.2h-1.6z"/>
<path transform="translate(582.1,471.0)" d="M-2.8,-1.2h1.6v-1.2h2.4v1.2h1.6v2.4h-1.6v1.2h-2.4v-1.2h-1.6z"/>
<path transform="translate(583.6,475.7)" d="M-2.8,-1.2h1.6v-1.2h2.4v1.2h1.6v2.4h-1.6v1.2h-2.4v-1.2h-1.6z"/>
<path transform="translate(583.6,479.4)" d="M-2.8,-1.2h1.6v-1.2h2.4v1.2h1.6v2.4h-1.6v1.2h-2.4v-1.2h-1.6z"/>
<path transform="translate(587.3,460.1)" d="M-2.8,-1.2h1.6v-1.2h2.4v1.2h1.6v2.4h-1.6v1.2h-2.4v-1.2h-1.6z"/>
<path transform="translate(589.8,441.3)" d="M-2.8,-1.2h1.6v-1.2h2.4v1.2h1.6v2.4h-1.6v1.2h-2.4v-1.2h-1.6z"/>
<path transform="translate(596.2,448.7)" d="M-2.8,-1.2h1.6v-1.2h2.4v1.2h1.6v2.4h-1.6v1.2h-2.4v-1.2h-1.6z"/>
<path transform="translate(591.8,464.6)" d="M-2.8,-1.2h1.6v-1.2h2.4v1.2h1.6v2.4h-1.6v1.2h-2.4v-1.2h-1.6z"/>
<path transform="translate(594.7,462.4)" d="M-2.8,-1.2h1.6v-1.2h2.4v1.2h1.6v2.4h-1.6v1.2h-2.4v-1.2h-1.6z"/>
<path transform="translate(597.7,457.2)" d="M-2.8,-1.2h1.6v-1.2h2.4v1.2h1.6v2.4h-1.6v1.2h-2.4v-1.2h-1.6z"/>
<path transform="translate(599.9,461.2)" d="M-2.8,-1.2h1.6v-1.2h2.4v1.2h1.6v2.4h-1.6v1.2h-2.4v-1.2h-1.6z"/>
<path transform="translate(597.7,466.1)" d="M-2.8,-1.2h1.6v-1.2h2.4v1.2h1.6v2.4h-1.6v1.2h-2.4v-1.2h-1.6z"/>
<path transform="translate(602.9,455.7)" d="M-2.8,-1.2h1.6v-1.2h2.4v1.2h1.6v2.4h-1.6v1.2h-2.4v-1.2h-1.6z"/>
<path transform="translate(605.1,463.1)" d="M-2.8,-1.2h1.6v-1.2h2.4v1.2h1.6v2.4h-1.6v1.2h-2.4v-1.2h-1.6z"/>
<path transform="translate(605.5,466.8)" d="M-2.8,-1.2h1.6v-1.2h2.4v1.2h1.6v2.4h-1.6v1.2h-2.4v-1.2h-1.6z"/>
<path transform="translate(596.7,473.9)" d="M-2.8,-1.2h1.6v-1.2h2.4v1.2h1.6v2.4h-1.6v1.2h-2.4v-1.2h-1.6z"/>
<path transform="translate(594.0,477.5)" d="M-2.8,-1.2h1.6v-1.2h2.4v1.2h1.6v2.4h-1.6v1.2h-2.4v-1.2h-1.6z"/>
<path transform="translate(599.2,478.4)" d="M-2.8,-1.2h1.6v-1.2h2.4v1.2h1.6v2.4h-1.6v1.2h-2.4v-1.2h-1.6z"/>
<path transform="translate(597.2,486.8)" d="M-2.8,-1.2h1.6v-1.2h2.4v1.2h1.6v2.4h-1.6v1.2h-2.4v-1.2h-1.6z"/>
<path transform="translate(601.4,502.1)" d="M-2.8,-1.2h1.6v-1.2h2.4v1.2h1.6v2.4h-1.6v1.2h-2.4v-1.2h-1.6z"/>
<path transform="translate(608.8,438.3)" d="M-2.8,-1.2h1.6v-1.2h2.4v1.2h1.6v2.4h-1.6v1.2h-2.4v-1.2h-1.6z"/>
<path transform="translate(608.1,444.3)" d="M-2.8,-1.2h1.6v-1.2h2.4v1.2h1.6v2.4h-1.6v1.2h-2.4v-1.2h-1.6z"/>
<path transform="translate(639.4,420.5)" d="M-2.8,-1.2h1.6v-1.2h2.4v1.2h1.6v2.4h-1.6v1.2h-2.4v-1.2h-1.6z"/>
<path transform="translate(634.8,425.5)" d="M-2.8,-1.2h1.6v-1.2h2.4v1.2h1.6v2.4h-1.6v1.2h-2.4v-1.2h-1.6z"/>
<path transform="translate(632.3,431.2)" d="M-2.8,-1.2h1.6v-1.2h2.4v1.2h1.6v2.4h-1.6v1.2h-2.4v-1.2h-1.6z"/>
<path transform="translate(631.3,436.5)" d="M-2.8,-1.2h1.6v-1.2h2.4v1.2h1.6v2.4h-1.6v1.2h-2.4v-1.2h-1.6z"/>
<path transform="translate(624.4,434.2)" d="M-2.8,-1.2h1.6v-1.2h2.4v1.2h1.6v2.4h-1.6v1.2h-2.4v-1.2h-1.6z"/>
<path transform="translate(623.2,441.8)" d="M-2.8,-1.2h1.6v-1.2h2.4v1.2h1.6v2.4h-1.6v1.2h-2.4v-1.2h-1.6z"/>
<path transform="translate(621.0,446.9)" d="M-2.8,-1.2h1.6v-1.2h2.4v1.2h1.6v2.4h-1.6v1.2h-2.4v-1.2h-1.6z"/>
<path transform="translate(613.0,449.5)" d="M-2.8,-1.2h1.6v-1.2h2.4v1.2h1.6v2.4h-1.6v1.2h-2.4v-1.2h-1.6z"/>
<path transform="translate(612.5,452.5)" d="M-2.8,-1.2h1.6v-1.2h2.4v1.2h1.6v2.4h-1.6v1.2h-2.4v-1.2h-1.6z"/>
<path transform="translate(627.2,449.5)" d="M-2.8,-1.2h1.6v-1.2h2.4v1.2h1.6v2.4h-1.6v1.2h-2.4v-1.2h-1.6z"/>
<path transform="translate(629.7,452.5)" d="M-2.8,-1.2h1.6v-1.2h2.4v1.2h1.6v2.4h-1.6v1.2h-2.4v-1.2h-1.6z"/>
<path transform="translate(633.9,457.1)" d="M-2.8,-1.2h1.6v-1.2h2.4v1.2h1.6v2.4h-1.6v1.2h-2.4v-1.2h-1.6z"/>
<path transform="translate(643.9,454.5)" d="M-2.8,-1.2h1.6v-1.2h2.4v1.2h1.6v2.4h-1.6v1.2h-2.4v-1.2h-1.6z"/>
<path transform="translate(647.3,436.2)" d="M-2.8,-1.2h1.6v-1.2h2.4v1.2h1.6v2.4h-1.6v1.2h-2.4v-1.2h-1.6z"/>
<path transform="translate(656.1,441.4)" d="M-2.8,-1.2h1.6v-1.2h2.4v1.2h1.6v2.4h-1.6v1.2h-2.4v-1.2h-1.6z"/>
<path transform="translate(662.5,435.7)" d="M-2.8,-1.2h1.6v-1.2h2.4v1.2h1.6v2.4h-1.6v1.2h-2.4v-1.2h-1.6z"/>
<path transform="translate(666.4,422.5)" d="M-2.8,-1.2h1.6v-1.2h2.4v1.2h1.6v2.4h-1.6v1.2h-2.4v-1.2h-1.6z"/>
<path transform="translate(676.6,425.5)" d="M-2.8,-1.2h1.6v-1.2h2.4v1.2h1.6v2.4h-1.6v1.2h-2.4v-1.2h-1.6z"/>
<path transform="translate(674.0,436.8)" d="M-2.8,-1.2h1.6v-1.2h2.4v1.2h1.6v2.4h-1.6v1.2h-2.4v-1.2h-1.6z"/>
<path transform="translate(603.4,455.6)" d="M-2.8,-1.2h1.6v-1.2h2.4v1.2h1.6v2.4h-1.6v1.2h-2.4v-1.2h-1.6z"/>
<path transform="translate(600.8,460.1)" d="M-2.8,-1.2h1.6v-1.2h2.4v1.2h1.6v2.4h-1.6v1.2h-2.4v-1.2h-1.6z"/>
<path transform="translate(605.3,463.2)" d="M-2.8,-1.2h1.6v-1.2h2.4v1.2h1.6v2.4h-1.6v1.2h-2.4v-1.2h-1.6z"/>
<path transform="translate(605.3,467.0)" d="M-2.8,-1.2h1.6v-1.2h2.4v1.2h1.6v2.4h-1.6v1.2h-2.4v-1.2h-1.6z"/>
<path transform="translate(615.3,462.4)" d="M-2.8,-1.2h1.6v-1.2h2.4v1.2h1.6v2.4h-1.6v1.2h-2.4v-1.2h-1.6z"/>
<path transform="translate(617.1,462.7)" d="M-2.8,-1.2h1.6v-1.2h2.4v1.2h1.6v2.4h-1.6v1.2h-2.4v-1.2h-1.6z"/>
<path transform="translate(616.0,464.7)" d="M-2.8,-1.2h1.6v-1.2h2.4v1.2h1.6v2.4h-1.6v1.2h-2.4v-1.2h-1.6z"/>
<path transform="translate(618.3,468.5)" d="M-2.8,-1.2h1.6v-1.2h2.4v1.2h1.6v2.4h-1.6v1.2h-2.4v-1.2h-1.6z"/>
<path transform="translate(631.3,470.8)" d="M-2.8,-1.2h1.6v-1.2h2.4v1.2h1.6v2.4h-1.6v1.2h-2.4v-1.2h-1.6z"/>
<path transform="translate(643.5,467.0)" d="M-2.8,-1.2h1.6v-1.2h2.4v1.2h1.6v2.4h-1.6v1.2h-2.4v-1.2h-1.6z"/>
<path transform="translate(600.8,478.5)" d="M-2.8,-1.2h1.6v-1.2h2.4v1.2h1.6v2.4h-1.6v1.2h-2.4v-1.2h-1.6z"/>
</g>
<g fill="#000">
<path transform="translate(325.9,621.5)" d="M-2.8,-1.2h1.6v-1.2h2.4v1.2h1.6v2.4h-1.6v1.2h-2.4v-1.2h-1.6z"/>
<path transform="translate(341.4,629.9)" d="M-2.8,-1.2h1.6v-1.2h2.4v1.2h1.6v2.4h-1.6v1.2h-2.4v-1.2h-1.6z"/>
<path transform="translate(354.4,633.0)" d="M-2.8,-1.2h1.6v-1.2h2.4v1.2h1.6v2.4h-1.6v1.2h-2.4v-1.2h-1.6z"/>
<path transform="translate(358.4,618.4)" d="M-2.8,-1.2h1.6v-1.2h2.4v1.2h1.6v2.4h-1.6v1.2h-2.4v-1.2h-1.6z"/>
<path transform="translate(362.2,620.0)" d="M-2.8,-1.2h1.6v-1.2h2.4v1.2h1.6v2.4h-1.6v1.2h-2.4v-1.2h-1.6z"/>
<path transform="translate(361.5,613.7)" d="M-2.8,-1.2h1.6v-1.2h2.4v1.2h1.6v2.4h-1.6v1.2h-2.4v-1.2h-1.6z"/>
<path transform="translate(364.3,610.9)" d="M-2.8,-1.2h1.6v-1.2h2.4v1.2h1.6v2.4h-1.6v1.2h-2.4v-1.2h-1.6z"/>
<path transform="translate(374.9,597.4)" d="M-2.8,-1.2h1.6v-1.2h2.4v1.2h1.6v2.4h-1.6v1.2h-2.4v-1.2h-1.6z"/>
<path transform="translate(382.7,607.3)" d="M-2.8,-1.2h1.6v-1.2h2.4v1.2h1.6v2.4h-1.6v1.2h-2.4v-1.2h-1.6z"/>
<path transform="translate(387.2,612.7)" d="M-2.8,-1.2h1.6v-1.2h2.4v1.2h1.6v2.4h-1.6v1.2h-2.4v-1.2h-1.6z"/>
<path transform="translate(391.4,606.2)" d="M-2.8,-1.2h1.6v-1.2h2.4v1.2h1.6v2.4h-1.6v1.2h-2.4v-1.2h-1.6z"/>
<path transform="translate(396.1,605.2)" d="M-2.8,-1.2h1.6v-1.2h2.4v1.2h1.6v2.4h-1.6v1.2h-2.4v-1.2h-1.6z"/>
<path transform="translate(394.7,611.3)" d="M-2.8,-1.2h1.6v-1.2h2.4v1.2h1.6v2.4h-1.6v1.2h-2.4v-1.2h-1.6z"/>
<path transform="translate(397.5,609.5)" d="M-2.8,-1.2h1.6v-1.2h2.4v1.2h1.6v2.4h-1.6v1.2h-2.4v-1.2h-1.6z"/>
<path transform="translate(402.2,604.8)" d="M-2.8,-1.2h1.6v-1.2h2.4v1.2h1.6v2.4h-1.6v1.2h-2.4v-1.2h-1.6z"/>
<path transform="translate(403.9,609.5)" d="M-2.8,-1.2h1.6v-1.2h2.4v1.2h1.6v2.4h-1.6v1.2h-2.4v-1.2h-1.6z"/>
<path transform="translate(489.8,545.4)" d="M-2.8,-1.2h1.6v-1.2h2.4v1.2h1.6v2.4h-1.6v1.2h-2.4v-1.2h-1.6z"/>
<path transform="translate(494.0,545.8)" d="M-2.8,-1.2h1.6v-1.2h2.4v1.2h1.6v2.4h-1.6v1.2h-2.4v-1.2h-1.6z"/>
<path transform="translate(495.1,549.2)" d="M-2.8,-1.2h1.6v-1.2h2.4v1.2h1.6v2.4h-1.6v1.2h-2.4v-1.2h-1.6z"/>
<path transform="translate(493.2,552.7)" d="M-2.8,-1.2h1.6v-1.2h2.4v1.2h1.6v2.4h-1.6v1.2h-2.4v-1.2h-1.6z"/>
<path transform="translate(489.3,567.2)" d="M-2.8,-1.2h1.6v-1.2h2.4v1.2h1.6v2.4h-1.6v1.2h-2.4v-1.2h-1.6z"/>
<path transform="translate(462.2,559.0)" d="M-2.8,-1.2h1.6v-1.2h2.4v1.2h1.6v2.4h-1.6v1.2h-2.4v-1.2h-1.6z"/>
<path transform="translate(467.6,561.3)" d="M-2.8,-1.2h1.6v-1.2h2.4v1.2h1.6v2.4h-1.6v1.2h-2.4v-1.2h-1.6z"/>
<path transform="translate(469.9,566.7)" d="M-2.8,-1.2h1.6v-1.2h2.4v1.2h1.6v2.4h-1.6v1.2h-2.4v-1.2h-1.6z"/>
<path transform="translate(471.8,569.1)" d="M-2.8,-1.2h1.6v-1.2h2.4v1.2h1.6v2.4h-1.6v1.2h-2.4v-1.2h-1.6z"/>
<path transform="translate(466.0,566.0)" d="M-2.8,-1.2h1.6v-1.2h2.4v1.2h1.6v2.4h-1.6v1.2h-2.4v-1.2h-1.6z"/>
<path transform="translate(459.8,569.8)" d="M-2.8,-1.2h1.6v-1.2h2.4v1.2h1.6v2.4h-1.6v1.2h-2.4v-1.2h-1.6z"/>
<path transform="translate(463.7,570.6)" d="M-2.8,-1.2h1.6v-1.2h2.4v1.2h1.6v2.4h-1.6v1.2h-2.4v-1.2h-1.6z"/>
<path transform="translate(465.3,574.0)" d="M-2.8,-1.2h1.6v-1.2h2.4v1.2h1.6v2.4h-1.6v1.2h-2.4v-1.2h-1.6z"/>
<path transform="translate(448.9,574.0)" d="M-2.8,-1.2h1.6v-1.2h2.4v1.2h1.6v2.4h-1.6v1.2h-2.4v-1.2h-1.6z"/>
<path transform="translate(446.6,576.1)" d="M-2.8,-1.2h1.6v-1.2h2.4v1.2h1.6v2.4h-1.6v1.2h-2.4v-1.2h-1.6z"/>
<path transform="translate(452.0,577.6)" d="M-2.8,-1.2h1.6v-1.2h2.4v1.2h1.6v2.4h-1.6v1.2h-2.4v-1.2h-1.6z"/>
<path transform="translate(454.4,581.2)" d="M-2.8,-1.2h1.6v-1.2h2.4v1.2h1.6v2.4h-1.6v1.2h-2.4v-1.2h-1.6z"/>
<path transform="translate(438.1,580.7)" d="M-2.8,-1.2h1.6v-1.2h2.4v1.2h1.6v2.4h-1.6v1.2h-2.4v-1.2h-1.6z"/>
<path transform="translate(442.0,582.3)" d="M-2.8,-1.2h1.6v-1.2h2.4v1.2h1.6v2.4h-1.6v1.2h-2.4v-1.2h-1.6z"/>
<path transform="translate(444.3,585.4)" d="M-2.8,-1.2h1.6v-1.2h2.4v1.2h1.6v2.4h-1.6v1.2h-2.4v-1.2h-1.6z"/>
<path transform="translate(445.8,586.9)" d="M-2.8,-1.2h1.6v-1.2h2.4v1.2h1.6v2.4h-1.6v1.2h-2.4v-1.2h-1.6z"/>
<path transform="translate(440.4,586.9)" d="M-2.8,-1.2h1.6v-1.2h2.4v1.2h1.6v2.4h-1.6v1.2h-2.4v-1.2h-1.6z"/>
<path transform="translate(435.7,585.4)" d="M-2.8,-1.2h1.6v-1.2h2.4v1.2h1.6v2.4h-1.6v1.2h-2.4v-1.2h-1.6z"/>
<path transform="translate(433.4,587.7)" d="M-2.8,-1.2h1.6v-1.2h2.4v1.2h1.6v2.4h-1.6v1.2h-2.4v-1.2h-1.6z"/>
<path transform="translate(437.3,589.3)" d="M-2.8,-1.2h1.6v-1.2h2.4v1.2h1.6v2.4h-1.6v1.2h-2.4v-1.2h-1.6z"/>
<path transform="translate(441.2,591.6)" d="M-2.8,-1.2h1.6v-1.2h2.4v1.2h1.6v2.4h-1.6v1.2h-2.4v-1.2h-1.6z"/>
<path transform="translate(431.1,590.0)" d="M-2.8,-1.2h1.6v-1.2h2.4v1.2h1.6v2.4h-1.6v1.2h-2.4v-1.2h-1.6z"/>
<path transform="translate(428.0,586.9)" d="M-2.8,-1.2h1.6v-1.2h2.4v1.2h1.6v2.4h-1.6v1.2h-2.4v-1.2h-1.6z"/>
<path transform="translate(420.2,587.7)" d="M-2.8,-1.2h1.6v-1.2h2.4v1.2h1.6v2.4h-1.6v1.2h-2.4v-1.2h-1.6z"/>
<path transform="translate(424.9,590.8)" d="M-2.8,-1.2h1.6v-1.2h2.4v1.2h1.6v2.4h-1.6v1.2h-2.4v-1.2h-1.6z"/>
<path transform="translate(421.8,593.6)" d="M-2.8,-1.2h1.6v-1.2h2.4v1.2h1.6v2.4h-1.6v1.2h-2.4v-1.2h-1.6z"/>
<path transform="translate(419.4,594.7)" d="M-2.8,-1.2h1.6v-1.2h2.4v1.2h1.6v2.4h-1.6v1.2h-2.4v-1.2h-1.6z"/>
<path transform="translate(429.5,597.0)" d="M-2.8,-1.2h1.6v-1.2h2.4v1.2h1.6v2.4h-1.6v1.2h-2.4v-1.2h-1.6z"/>
<path transform="translate(409.3,592.7)" d="M-2.8,-1.2h1.6v-1.2h2.4v1.2h1.6v2.4h-1.6v1.2h-2.4v-1.2h-1.6z"/>
<path transform="translate(414.8,593.9)" d="M-2.8,-1.2h1.6v-1.2h2.4v1.2h1.6v2.4h-1.6v1.2h-2.4v-1.2h-1.6z"/>
<path transform="translate(411.7,600.1)" d="M-2.8,-1.2h1.6v-1.2h2.4v1.2h1.6v2.4h-1.6v1.2h-2.4v-1.2h-1.6z"/>
<path transform="translate(416.3,600.9)" d="M-2.8,-1.2h1.6v-1.2h2.4v1.2h1.6v2.4h-1.6v1.2h-2.4v-1.2h-1.6z"/>
<path transform="translate(412.4,602.5)" d="M-2.8,-1.2h1.6v-1.2h2.4v1.2h1.6v2.4h-1.6v1.2h-2.4v-1.2h-1.6z"/>
<path transform="translate(418.6,602.5)" d="M-2.8,-1.2h1.6v-1.2h2.4v1.2h1.6v2.4h-1.6v1.2h-2.4v-1.2h-1.6z"/>
<path transform="translate(422.5,604.5)" d="M-2.8,-1.2h1.6v-1.2h2.4v1.2h1.6v2.4h-1.6v1.2h-2.4v-1.2h-1.6z"/>
<path transform="translate(402.3,604.5)" d="M-2.8,-1.2h1.6v-1.2h2.4v1.2h1.6v2.4h-1.6v1.2h-2.4v-1.2h-1.6z"/>
<path transform="translate(403.1,609.1)" d="M-2.8,-1.2h1.6v-1.2h2.4v1.2h1.6v2.4h-1.6v1.2h-2.4v-1.2h-1.6z"/>
</g>
<g fill="#000">
<path transform="translate(522.1,613.3)" d="M-2.8,-1.2h1.6v-1.2h2.4v1.2h1.6v2.4h-1.6v1.2h-2.4v-1.2h-1.6z"/>
<path transform="translate(525.0,630.5)" d="M-2.8,-1.2h1.6v-1.2h2.4v1.2h1.6v2.4h-1.6v1.2h-2.4v-1.2h-1.6z"/>
<path transform="translate(530.5,633.4)" d="M-2.8,-1.2h1.6v-1.2h2.4v1.2h1.6v2.4h-1.6v1.2h-2.4v-1.2h-1.6z"/>
<path transform="translate(535.8,617.7)" d="M-2.8,-1.2h1.6v-1.2h2.4v1.2h1.6v2.4h-1.6v1.2h-2.4v-1.2h-1.6z"/>
<path transform="translate(542.1,620.4)" d="M-2.8,-1.2h1.6v-1.2h2.4v1.2h1.6v2.4h-1.6v1.2h-2.4v-1.2h-1.6z"/>
<path transform="translate(554.7,618.9)" d="M-2.8,-1.2h1.6v-1.2h2.4v1.2h1.6v2.4h-1.6v1.2h-2.4v-1.2h-1.6z"/>
<path transform="translate(559.1,621.6)" d="M-2.8,-1.2h1.6v-1.2h2.4v1.2h1.6v2.4h-1.6v1.2h-2.4v-1.2h-1.6z"/>
<path transform="translate(567.6,613.0)" d="M-2.8,-1.2h1.6v-1.2h2.4v1.2h1.6v2.4h-1.6v1.2h-2.4v-1.2h-1.6z"/>
<path transform="translate(571.0,610.8)" d="M-2.8,-1.2h1.6v-1.2h2.4v1.2h1.6v2.4h-1.6v1.2h-2.4v-1.2h-1.6z"/>
<path transform="translate(575.4,611.5)" d="M-2.8,-1.2h1.6v-1.2h2.4v1.2h1.6v2.4h-1.6v1.2h-2.4v-1.2h-1.6z"/>
<path transform="translate(579.2,609.7)" d="M-2.8,-1.2h1.6v-1.2h2.4v1.2h1.6v2.4h-1.6v1.2h-2.4v-1.2h-1.6z"/>
<path transform="translate(582.1,607.8)" d="M-2.8,-1.2h1.6v-1.2h2.4v1.2h1.6v2.4h-1.6v1.2h-2.4v-1.2h-1.6z"/>
<path transform="translate(583.6,610.0)" d="M-2.8,-1.2h1.6v-1.2h2.4v1.2h1.6v2.4h-1.6v1.2h-2.4v-1.2h-1.6z"/>
<path transform="translate(570.3,602.6)" d="M-2.8,-1.2h1.6v-1.2h2.4v1.2h1.6v2.4h-1.6v1.2h-2.4v-1.2h-1.6z"/>
<path transform="translate(573.2,604.8)" d="M-2.8,-1.2h1.6v-1.2h2.4v1.2h1.6v2.4h-1.6v1.2h-2.4v-1.2h-1.6z"/>
<path transform="translate(576.9,598.9)" d="M-2.8,-1.2h1.6v-1.2h2.4v1.2h1.6v2.4h-1.6v1.2h-2.4v-1.2h-1.6z"/>
<path transform="translate(577.7,595.9)" d="M-2.8,-1.2h1.6v-1.2h2.4v1.2h1.6v2.4h-1.6v1.2h-2.4v-1.2h-1.6z"/>
<path transform="translate(582.9,600.8)" d="M-2.8,-1.2h1.6v-1.2h2.4v1.2h1.6v2.4h-1.6v1.2h-2.4v-1.2h-1.6z"/>
<path transform="translate(573.2,588.1)" d="M-2.8,-1.2h1.6v-1.2h2.4v1.2h1.6v2.4h-1.6v1.2h-2.4v-1.2h-1.6z"/>
<path transform="translate(578.4,583.6)" d="M-2.8,-1.2h1.6v-1.2h2.4v1.2h1.6v2.4h-1.6v1.2h-2.4v-1.2h-1.6z"/>
<path transform="translate(583.6,593.0)" d="M-2.8,-1.2h1.6v-1.2h2.4v1.2h1.6v2.4h-1.6v1.2h-2.4v-1.2h-1.6z"/>
<path transform="translate(587.3,594.0)" d="M-2.8,-1.2h1.6v-1.2h2.4v1.2h1.6v2.4h-1.6v1.2h-2.4v-1.2h-1.6z"/>
<path transform="translate(590.3,577.7)" d="M-2.8,-1.2h1.6v-1.2h2.4v1.2h1.6v2.4h-1.6v1.2h-2.4v-1.2h-1.6z"/>
<path transform="translate(597.7,576.6)" d="M-2.8,-1.2h1.6v-1.2h2.4v1.2h1.6v2.4h-1.6v1.2h-2.4v-1.2h-1.6z"/>
<path transform="translate(592.2,590.4)" d="M-2.8,-1.2h1.6v-1.2h2.4v1.2h1.6v2.4h-1.6v1.2h-2.4v-1.2h-1.6z"/>
<path transform="translate(593.2,586.3)" d="M-2.8,-1.2h1.6v-1.2h2.4v1.2h1.6v2.4h-1.6v1.2h-2.4v-1.2h-1.6z"/>
<path transform="translate(596.9,587.8)" d="M-2.8,-1.2h1.6v-1.2h2.4v1.2h1.6v2.4h-1.6v1.2h-2.4v-1.2h-1.6z"/>
<path transform="translate(599.9,586.3)" d="M-2.8,-1.2h1.6v-1.2h2.4v1.2h1.6v2.4h-1.6v1.2h-2.4v-1.2h-1.6z"/>
<path transform="translate(598.4,592.2)" d="M-2.8,-1.2h1.6v-1.2h2.4v1.2h1.6v2.4h-1.6v1.2h-2.4v-1.2h-1.6z"/>
<path transform="translate(599.2,595.2)" d="M-2.8,-1.2h1.6v-1.2h2.4v1.2h1.6v2.4h-1.6v1.2h-2.4v-1.2h-1.6z"/>
<path transform="translate(604.4,588.5)" d="M-2.8,-1.2h1.6v-1.2h2.4v1.2h1.6v2.4h-1.6v1.2h-2.4v-1.2h-1.6z"/>
<path transform="translate(608.8,590.0)" d="M-2.8,-1.2h1.6v-1.2h2.4v1.2h1.6v2.4h-1.6v1.2h-2.4v-1.2h-1.6z"/>
<path transform="translate(605.1,597.9)" d="M-2.8,-1.2h1.6v-1.2h2.4v1.2h1.6v2.4h-1.6v1.2h-2.4v-1.2h-1.6z"/>
<path transform="translate(594.0,604.1)" d="M-2.8,-1.2h1.6v-1.2h2.4v1.2h1.6v2.4h-1.6v1.2h-2.4v-1.2h-1.6z"/>
<path transform="translate(596.9,602.6)" d="M-2.8,-1.2h1.6v-1.2h2.4v1.2h1.6v2.4h-1.6v1.2h-2.4v-1.2h-1.6z"/>
<path transform="translate(597.7,605.6)" d="M-2.8,-1.2h1.6v-1.2h2.4v1.2h1.6v2.4h-1.6v1.2h-2.4v-1.2h-1.6z"/>
<path transform="translate(601.4,606.8)" d="M-2.8,-1.2h1.6v-1.2h2.4v1.2h1.6v2.4h-1.6v1.2h-2.4v-1.2h-1.6z"/>
<path transform="translate(608.1,567.3)" d="M-2.8,-1.2h1.6v-1.2h2.4v1.2h1.6v2.4h-1.6v1.2h-2.4v-1.2h-1.6z"/>
<path transform="translate(634.8,546.6)" d="M-2.8,-1.2h1.6v-1.2h2.4v1.2h1.6v2.4h-1.6v1.2h-2.4v-1.2h-1.6z"/>
<path transform="translate(666.4,549.6)" d="M-2.8,-1.2h1.6v-1.2h2.4v1.2h1.6v2.4h-1.6v1.2h-2.4v-1.2h-1.6z"/>
<path transform="translate(676.6,546.6)" d="M-2.8,-1.2h1.6v-1.2h2.4v1.2h1.6v2.4h-1.6v1.2h-2.4v-1.2h-1.6z"/>
<path transform="translate(674.0,553.3)" d="M-2.8,-1.2h1.6v-1.2h2.4v1.2h1.6v2.4h-1.6v1.2h-2.4v-1.2h-1.6z"/>
<path transform="translate(644.2,559.8)" d="M-2.8,-1.2h1.6v-1.2h2.4v1.2h1.6v2.4h-1.6v1.2h-2.4v-1.2h-1.6z"/>
<path transform="translate(647.3,561.4)" d="M-2.8,-1.2h1.6v-1.2h2.4v1.2h1.6v2.4h-1.6v1.2h-2.4v-1.2h-1.6z"/>
<path transform="translate(639.4,567.5)" d="M-2.8,-1.2h1.6v-1.2h2.4v1.2h1.6v2.4h-1.6v1.2h-2.4v-1.2h-1.6z"/>
<path transform="translate(656.1,572.0)" d="M-2.8,-1.2h1.6v-1.2h2.4v1.2h1.6v2.4h-1.6v1.2h-2.4v-1.2h-1.6z"/>
<path transform="translate(662.5,569.0)" d="M-2.8,-1.2h1.6v-1.2h2.4v1.2h1.6v2.4h-1.6v1.2h-2.4v-1.2h-1.6z"/>
<path transform="translate(613.4,570.1)" d="M-2.8,-1.2h1.6v-1.2h2.4v1.2h1.6v2.4h-1.6v1.2h-2.4v-1.2h-1.6z"/>
<path transform="translate(622.9,568.2)" d="M-2.8,-1.2h1.6v-1.2h2.4v1.2h1.6v2.4h-1.6v1.2h-2.4v-1.2h-1.6z"/>
<path transform="translate(624.7,568.5)" d="M-2.8,-1.2h1.6v-1.2h2.4v1.2h1.6v2.4h-1.6v1.2h-2.4v-1.2h-1.6z"/>
<path transform="translate(621.4,574.6)" d="M-2.8,-1.2h1.6v-1.2h2.4v1.2h1.6v2.4h-1.6v1.2h-2.4v-1.2h-1.6z"/>
<path transform="translate(626.7,576.2)" d="M-2.8,-1.2h1.6v-1.2h2.4v1.2h1.6v2.4h-1.6v1.2h-2.4v-1.2h-1.6z"/>
<path transform="translate(629.7,573.6)" d="M-2.8,-1.2h1.6v-1.2h2.4v1.2h1.6v2.4h-1.6v1.2h-2.4v-1.2h-1.6z"/>
<path transform="translate(632.0,570.5)" d="M-2.8,-1.2h1.6v-1.2h2.4v1.2h1.6v2.4h-1.6v1.2h-2.4v-1.2h-1.6z"/>
<path transform="translate(631.3,574.3)" d="M-2.8,-1.2h1.6v-1.2h2.4v1.2h1.6v2.4h-1.6v1.2h-2.4v-1.2h-1.6z"/>
<path transform="translate(613.4,580.1)" d="M-2.8,-1.2h1.6v-1.2h2.4v1.2h1.6v2.4h-1.6v1.2h-2.4v-1.2h-1.6z"/>
<path transform="translate(633.9,582.0)" d="M-2.8,-1.2h1.6v-1.2h2.4v1.2h1.6v2.4h-1.6v1.2h-2.4v-1.2h-1.6z"/>
<path transform="translate(643.5,581.7)" d="M-2.8,-1.2h1.6v-1.2h2.4v1.2h1.6v2.4h-1.6v1.2h-2.4v-1.2h-1.6z"/>
<path transform="translate(612.2,585.8)" d="M-2.8,-1.2h1.6v-1.2h2.4v1.2h1.6v2.4h-1.6v1.2h-2.4v-1.2h-1.6z"/>
<path transform="translate(615.3,585.8)" d="M-2.8,-1.2h1.6v-1.2h2.4v1.2h1.6v2.4h-1.6v1.2h-2.4v-1.2h-1.6z"/>
<path transform="translate(603.8,586.5)" d="M-2.8,-1.2h1.6v-1.2h2.4v1.2h1.6v2.4h-1.6v1.2h-2.4v-1.2h-1.6z"/>
<path transform="translate(605.3,588.8)" d="M-2.8,-1.2h1.6v-1.2h2.4v1.2h1.6v2.4h-1.6v1.2h-2.4v-1.2h-1.6z"/>
<path transform="translate(609.5,590.4)" d="M-2.8,-1.2h1.6v-1.2h2.4v1.2h1.6v2.4h-1.6v1.2h-2.4v-1.2h-1.6z"/>
<path transform="translate(616.0,591.1)" d="M-2.8,-1.2h1.6v-1.2h2.4v1.2h1.6v2.4h-1.6v1.2h-2.4v-1.2h-1.6z"/>
<path transform="translate(618.3,592.6)" d="M-2.8,-1.2h1.6v-1.2h2.4v1.2h1.6v2.4h-1.6v1.2h-2.4v-1.2h-1.6z"/>
<path transform="translate(600.8,594.9)" d="M-2.8,-1.2h1.6v-1.2h2.4v1.2h1.6v2.4h-1.6v1.2h-2.4v-1.2h-1.6z"/>
<path transform="translate(605.3,598.0)" d="M-2.8,-1.2h1.6v-1.2h2.4v1.2h1.6v2.4h-1.6v1.2h-2.4v-1.2h-1.6z"/>
<path transform="translate(630.5,598.4)" d="M-2.8,-1.2h1.6v-1.2h2.4v1.2h1.6v2.4h-1.6v1.2h-2.4v-1.2h-1.6z"/>
<path transform="translate(601.5,606.7)" d="M-2.8,-1.2h1.6v-1.2h2.4v1.2h1.6v2.4h-1.6v1.2h-2.4v-1.2h-1.6z"/>
</g>
<g fill="#000">
<path transform="translate(522.1,725.3)" d="M-2.8,-1.2h1.6v-1.2h2.4v1.2h1.6v2.4h-1.6v1.2h-2.4v-1.2h-1.6z"/>
<path transform="translate(525.5,735.7)" d="M-2.8,-1.2h1.6v-1.2h2.4v1.2h1.6v2.4h-1.6v1.2h-2.4v-1.2h-1.6z"/>
<path transform="translate(530.5,729.5)" d="M-2.8,-1.2h1.6v-1.2h2.4v1.2h1.6v2.4h-1.6v1.2h-2.4v-1.2h-1.6z"/>
<path transform="translate(536.1,727.3)" d="M-2.8,-1.2h1.6v-1.2h2.4v1.2h1.6v2.4h-1.6v1.2h-2.4v-1.2h-1.6z"/>
<path transform="translate(542.4,725.8)" d="M-2.8,-1.2h1.6v-1.2h2.4v1.2h1.6v2.4h-1.6v1.2h-2.4v-1.2h-1.6z"/>
<path transform="translate(554.7,726.8)" d="M-2.8,-1.2h1.6v-1.2h2.4v1.2h1.6v2.4h-1.6v1.2h-2.4v-1.2h-1.6z"/>
<path transform="translate(559.6,744.0)" d="M-2.8,-1.2h1.6v-1.2h2.4v1.2h1.6v2.4h-1.6v1.2h-2.4v-1.2h-1.6z"/>
<path transform="translate(568.0,712.9)" d="M-2.8,-1.2h1.6v-1.2h2.4v1.2h1.6v2.4h-1.6v1.2h-2.4v-1.2h-1.6z"/>
<path transform="translate(572.0,724.3)" d="M-2.8,-1.2h1.6v-1.2h2.4v1.2h1.6v2.4h-1.6v1.2h-2.4v-1.2h-1.6z"/>
<path transform="translate(581.8,715.0)" d="M-2.8,-1.2h1.6v-1.2h2.4v1.2h1.6v2.4h-1.6v1.2h-2.4v-1.2h-1.6z"/>
<path transform="translate(578.4,685.0)" d="M-2.8,-1.2h1.6v-1.2h2.4v1.2h1.6v2.4h-1.6v1.2h-2.4v-1.2h-1.6z"/>
<path transform="translate(571.0,700.1)" d="M-2.8,-1.2h1.6v-1.2h2.4v1.2h1.6v2.4h-1.6v1.2h-2.4v-1.2h-1.6z"/>
<path transform="translate(573.5,695.7)" d="M-2.8,-1.2h1.6v-1.2h2.4v1.2h1.6v2.4h-1.6v1.2h-2.4v-1.2h-1.6z"/>
<path transform="translate(577.7,696.1)" d="M-2.8,-1.2h1.6v-1.2h2.4v1.2h1.6v2.4h-1.6v1.2h-2.4v-1.2h-1.6z"/>
<path transform="translate(578.4,700.6)" d="M-2.8,-1.2h1.6v-1.2h2.4v1.2h1.6v2.4h-1.6v1.2h-2.4v-1.2h-1.6z"/>
<path transform="translate(574.0,705.0)" d="M-2.8,-1.2h1.6v-1.2h2.4v1.2h1.6v2.4h-1.6v1.2h-2.4v-1.2h-1.6z"/>
<path transform="translate(576.2,708.7)" d="M-2.8,-1.2h1.6v-1.2h2.4v1.2h1.6v2.4h-1.6v1.2h-2.4v-1.2h-1.6z"/>
<path transform="translate(577.7,703.5)" d="M-2.8,-1.2h1.6v-1.2h2.4v1.2h1.6v2.4h-1.6v1.2h-2.4v-1.2h-1.6z"/>
<path transform="translate(583.3,699.1)" d="M-2.8,-1.2h1.6v-1.2h2.4v1.2h1.6v2.4h-1.6v1.2h-2.4v-1.2h-1.6z"/>
<path transform="translate(583.6,702.1)" d="M-2.8,-1.2h1.6v-1.2h2.4v1.2h1.6v2.4h-1.6v1.2h-2.4v-1.2h-1.6z"/>
<path transform="translate(583.6,707.3)" d="M-2.8,-1.2h1.6v-1.2h2.4v1.2h1.6v2.4h-1.6v1.2h-2.4v-1.2h-1.6z"/>
<path transform="translate(587.3,695.1)" d="M-2.8,-1.2h1.6v-1.2h2.4v1.2h1.6v2.4h-1.6v1.2h-2.4v-1.2h-1.6z"/>
<path transform="translate(590.3,681.7)" d="M-2.8,-1.2h1.6v-1.2h2.4v1.2h1.6v2.4h-1.6v1.2h-2.4v-1.2h-1.6z"/>
<path transform="translate(592.2,686.8)" d="M-2.8,-1.2h1.6v-1.2h2.4v1.2h1.6v2.4h-1.6v1.2h-2.4v-1.2h-1.6z"/>
<path transform="translate(594.0,682.8)" d="M-2.8,-1.2h1.6v-1.2h2.4v1.2h1.6v2.4h-1.6v1.2h-2.4v-1.2h-1.6z"/>
<path transform="translate(597.0,682.3)" d="M-2.8,-1.2h1.6v-1.2h2.4v1.2h1.6v2.4h-1.6v1.2h-2.4v-1.2h-1.6z"/>
<path transform="translate(599.9,683.2)" d="M-2.8,-1.2h1.6v-1.2h2.4v1.2h1.6v2.4h-1.6v1.2h-2.4v-1.2h-1.6z"/>
<path transform="translate(602.9,682.8)" d="M-2.8,-1.2h1.6v-1.2h2.4v1.2h1.6v2.4h-1.6v1.2h-2.4v-1.2h-1.6z"/>
<path transform="translate(598.4,688.7)" d="M-2.8,-1.2h1.6v-1.2h2.4v1.2h1.6v2.4h-1.6v1.2h-2.4v-1.2h-1.6z"/>
<path transform="translate(597.7,691.7)" d="M-2.8,-1.2h1.6v-1.2h2.4v1.2h1.6v2.4h-1.6v1.2h-2.4v-1.2h-1.6z"/>
<path transform="translate(594.7,695.7)" d="M-2.8,-1.2h1.6v-1.2h2.4v1.2h1.6v2.4h-1.6v1.2h-2.4v-1.2h-1.6z"/>
<path transform="translate(597.0,695.4)" d="M-2.8,-1.2h1.6v-1.2h2.4v1.2h1.6v2.4h-1.6v1.2h-2.4v-1.2h-1.6z"/>
<path transform="translate(598.4,698.4)" d="M-2.8,-1.2h1.6v-1.2h2.4v1.2h1.6v2.4h-1.6v1.2h-2.4v-1.2h-1.6z"/>
<path transform="translate(597.7,700.6)" d="M-2.8,-1.2h1.6v-1.2h2.4v1.2h1.6v2.4h-1.6v1.2h-2.4v-1.2h-1.6z"/>
<path transform="translate(596.2,708.4)" d="M-2.8,-1.2h1.6v-1.2h2.4v1.2h1.6v2.4h-1.6v1.2h-2.4v-1.2h-1.6z"/>
<path transform="translate(601.1,710.2)" d="M-2.8,-1.2h1.6v-1.2h2.4v1.2h1.6v2.4h-1.6v1.2h-2.4v-1.2h-1.6z"/>
<path transform="translate(605.5,691.2)" d="M-2.8,-1.2h1.6v-1.2h2.4v1.2h1.6v2.4h-1.6v1.2h-2.4v-1.2h-1.6z"/>
<path transform="translate(608.1,672.8)" d="M-2.8,-1.2h1.6v-1.2h2.4v1.2h1.6v2.4h-1.6v1.2h-2.4v-1.2h-1.6z"/>
<path transform="translate(608.8,685.0)" d="M-2.8,-1.2h1.6v-1.2h2.4v1.2h1.6v2.4h-1.6v1.2h-2.4v-1.2h-1.6z"/>
<path transform="translate(635.1,658.5)" d="M-2.8,-1.2h1.6v-1.2h2.4v1.2h1.6v2.4h-1.6v1.2h-2.4v-1.2h-1.6z"/>
<path transform="translate(639.7,661.1)" d="M-2.8,-1.2h1.6v-1.2h2.4v1.2h1.6v2.4h-1.6v1.2h-2.4v-1.2h-1.6z"/>
<path transform="translate(666.8,658.0)" d="M-2.8,-1.2h1.6v-1.2h2.4v1.2h1.6v2.4h-1.6v1.2h-2.4v-1.2h-1.6z"/>
<path transform="translate(674.7,659.1)" d="M-2.8,-1.2h1.6v-1.2h2.4v1.2h1.6v2.4h-1.6v1.2h-2.4v-1.2h-1.6z"/>
<path transform="translate(677.0,660.6)" d="M-2.8,-1.2h1.6v-1.2h2.4v1.2h1.6v2.4h-1.6v1.2h-2.4v-1.2h-1.6z"/>
<path transform="translate(663.3,670.2)" d="M-2.8,-1.2h1.6v-1.2h2.4v1.2h1.6v2.4h-1.6v1.2h-2.4v-1.2h-1.6z"/>
<path transform="translate(656.4,676.3)" d="M-2.8,-1.2h1.6v-1.2h2.4v1.2h1.6v2.4h-1.6v1.2h-2.4v-1.2h-1.6z"/>
<path transform="translate(647.3,672.2)" d="M-2.8,-1.2h1.6v-1.2h2.4v1.2h1.6v2.4h-1.6v1.2h-2.4v-1.2h-1.6z"/>
<path transform="translate(644.2,674.3)" d="M-2.8,-1.2h1.6v-1.2h2.4v1.2h1.6v2.4h-1.6v1.2h-2.4v-1.2h-1.6z"/>
<path transform="translate(643.5,687.0)" d="M-2.8,-1.2h1.6v-1.2h2.4v1.2h1.6v2.4h-1.6v1.2h-2.4v-1.2h-1.6z"/>
<path transform="translate(632.3,671.0)" d="M-2.8,-1.2h1.6v-1.2h2.4v1.2h1.6v2.4h-1.6v1.2h-2.4v-1.2h-1.6z"/>
<path transform="translate(631.7,672.8)" d="M-2.8,-1.2h1.6v-1.2h2.4v1.2h1.6v2.4h-1.6v1.2h-2.4v-1.2h-1.6z"/>
<path transform="translate(634.3,678.6)" d="M-2.8,-1.2h1.6v-1.2h2.4v1.2h1.6v2.4h-1.6v1.2h-2.4v-1.2h-1.6z"/>
<path transform="translate(624.4,674.0)" d="M-2.8,-1.2h1.6v-1.2h2.4v1.2h1.6v2.4h-1.6v1.2h-2.4v-1.2h-1.6z"/>
<path transform="translate(623.6,676.3)" d="M-2.8,-1.2h1.6v-1.2h2.4v1.2h1.6v2.4h-1.6v1.2h-2.4v-1.2h-1.6z"/>
<path transform="translate(621.4,679.8)" d="M-2.8,-1.2h1.6v-1.2h2.4v1.2h1.6v2.4h-1.6v1.2h-2.4v-1.2h-1.6z"/>
<path transform="translate(627.5,682.0)" d="M-2.8,-1.2h1.6v-1.2h2.4v1.2h1.6v2.4h-1.6v1.2h-2.4v-1.2h-1.6z"/>
<path transform="translate(629.7,682.0)" d="M-2.8,-1.2h1.6v-1.2h2.4v1.2h1.6v2.4h-1.6v1.2h-2.4v-1.2h-1.6z"/>
<path transform="translate(613.7,674.0)" d="M-2.8,-1.2h1.6v-1.2h2.4v1.2h1.6v2.4h-1.6v1.2h-2.4v-1.2h-1.6z"/>
<path transform="translate(613.7,680.1)" d="M-2.8,-1.2h1.6v-1.2h2.4v1.2h1.6v2.4h-1.6v1.2h-2.4v-1.2h-1.6z"/>
<path transform="translate(610.7,684.7)" d="M-2.8,-1.2h1.6v-1.2h2.4v1.2h1.6v2.4h-1.6v1.2h-2.4v-1.2h-1.6z"/>
<path transform="translate(603.8,683.2)" d="M-2.8,-1.2h1.6v-1.2h2.4v1.2h1.6v2.4h-1.6v1.2h-2.4v-1.2h-1.6z"/>
<path transform="translate(600.8,683.2)" d="M-2.8,-1.2h1.6v-1.2h2.4v1.2h1.6v2.4h-1.6v1.2h-2.4v-1.2h-1.6z"/>
<path transform="translate(615.3,687.0)" d="M-2.8,-1.2h1.6v-1.2h2.4v1.2h1.6v2.4h-1.6v1.2h-2.4v-1.2h-1.6z"/>
<path transform="translate(618.0,686.2)" d="M-2.8,-1.2h1.6v-1.2h2.4v1.2h1.6v2.4h-1.6v1.2h-2.4v-1.2h-1.6z"/>
<path transform="translate(619.1,690.0)" d="M-2.8,-1.2h1.6v-1.2h2.4v1.2h1.6v2.4h-1.6v1.2h-2.4v-1.2h-1.6z"/>
<path transform="translate(605.3,691.1)" d="M-2.8,-1.2h1.6v-1.2h2.4v1.2h1.6v2.4h-1.6v1.2h-2.4v-1.2h-1.6z"/>
<path transform="translate(616.0,694.2)" d="M-2.8,-1.2h1.6v-1.2h2.4v1.2h1.6v2.4h-1.6v1.2h-2.4v-1.2h-1.6z"/>
<path transform="translate(600.8,698.7)" d="M-2.8,-1.2h1.6v-1.2h2.4v1.2h1.6v2.4h-1.6v1.2h-2.4v-1.2h-1.6z"/>
<path transform="translate(631.3,719.0)" d="M-2.8,-1.2h1.6v-1.2h2.4v1.2h1.6v2.4h-1.6v1.2h-2.4v-1.2h-1.6z"/>
<path transform="translate(600.8,688.5)" d="M-2.8,-1.2h1.6v-1.2h2.4v1.2h1.6v2.4h-1.6v1.2h-2.4v-1.2h-1.6z"/>
<path transform="translate(601.2,710.6)" d="M-2.8,-1.2h1.6v-1.2h2.4v1.2h1.6v2.4h-1.6v1.2h-2.4v-1.2h-1.6z"/>
</g>
<line x1="61.00" y1="668.70" x2="306.40" y2="668.70" stroke="#2a2a2a" stroke-width="1.2"/>
<line x1="61.00" y1="693.30" x2="306.40" y2="693.30" stroke="#2a2a2a" stroke-width="1.2"/>
<line x1="61.00" y1="717.10" x2="306.40" y2="717.10" stroke="#2a2a2a" stroke-width="1.2"/>
<rect x="112.80" y="804.80" width="191.70" height="113.00" fill="none" stroke="#2a2a2a" stroke-width="1.5"/>
<rect x="308.90" y="804.80" width="196.60" height="112.60" fill="none" stroke="#2a2a2a" stroke-width="1.5"/>
<rect x="510.90" y="804.60" width="195.90" height="112.80" fill="none" stroke="#2a2a2a" stroke-width="1.5"/>
<rect x="309.30" y="922.10" width="196.20" height="112.70" fill="none" stroke="#2a2a2a" stroke-width="1.5"/>
<rect x="510.90" y="921.90" width="195.90" height="112.30" fill="none" stroke="#2a2a2a" stroke-width="1.5"/>
<rect x="510.80" y="1038.60" width="196.20" height="111.20" fill="none" stroke="#2a2a2a" stroke-width="1.5"/>
<line x1="108.50" y1="804.80" x2="112.80" y2="804.80" stroke="#2a2a2a" stroke-width="1.3"/>
<line x1="108.50" y1="833.10" x2="112.80" y2="833.10" stroke="#2a2a2a" stroke-width="1.3"/>
<line x1="108.50" y1="861.30" x2="112.80" y2="861.30" stroke="#2a2a2a" stroke-width="1.3"/>
<line x1="108.50" y1="889.50" x2="112.80" y2="889.50" stroke="#2a2a2a" stroke-width="1.3"/>
<line x1="108.50" y1="917.80" x2="112.80" y2="917.80" stroke="#2a2a2a" stroke-width="1.3"/>
<line x1="112.60" y1="917.80" x2="112.60" y2="920.60" stroke="#2a2a2a" stroke-width="1.3"/>
<line x1="155.40" y1="917.80" x2="155.40" y2="920.60" stroke="#2a2a2a" stroke-width="1.3"/>
<line x1="198.20" y1="917.80" x2="198.20" y2="920.60" stroke="#2a2a2a" stroke-width="1.3"/>
<line x1="241.00" y1="917.80" x2="241.00" y2="920.60" stroke="#2a2a2a" stroke-width="1.3"/>
<line x1="283.60" y1="917.80" x2="283.60" y2="920.60" stroke="#2a2a2a" stroke-width="1.3"/>
<line x1="305.90" y1="922.10" x2="309.30" y2="922.10" stroke="#2a2a2a" stroke-width="1.3"/>
<line x1="305.90" y1="950.30" x2="309.30" y2="950.30" stroke="#2a2a2a" stroke-width="1.3"/>
<line x1="305.90" y1="978.50" x2="309.30" y2="978.50" stroke="#2a2a2a" stroke-width="1.3"/>
<line x1="305.90" y1="1006.70" x2="309.30" y2="1006.70" stroke="#2a2a2a" stroke-width="1.3"/>
<line x1="305.90" y1="1034.90" x2="309.30" y2="1034.90" stroke="#2a2a2a" stroke-width="1.3"/>
<line x1="510.80" y1="1149.80" x2="510.80" y2="1153.00" stroke="#2a2a2a" stroke-width="1.3"/>
<line x1="543.50" y1="1149.80" x2="543.50" y2="1153.00" stroke="#2a2a2a" stroke-width="1.3"/>
<line x1="576.20" y1="1149.80" x2="576.20" y2="1153.00" stroke="#2a2a2a" stroke-width="1.3"/>
<line x1="608.90" y1="1149.80" x2="608.90" y2="1153.00" stroke="#2a2a2a" stroke-width="1.3"/>
<line x1="641.60" y1="1149.80" x2="641.60" y2="1153.00" stroke="#2a2a2a" stroke-width="1.3"/>
<line x1="674.30" y1="1149.80" x2="674.30" y2="1153.00" stroke="#2a2a2a" stroke-width="1.3"/>
<line x1="707.00" y1="1149.80" x2="707.00" y2="1153.00" stroke="#2a2a2a" stroke-width="1.3"/>
<g fill="#000">
<path transform="translate(127.0,911.3)" d="M-2.8,-1.1h1.7v-1.3h2.2v1.3h1.7v2.2h-1.7v1.3h-2.2v-1.3h-1.7z"/>
<path transform="translate(155.9,836.0)" d="M-2.8,-1.1h1.7v-1.3h2.2v1.3h1.7v2.2h-1.7v1.3h-2.2v-1.3h-1.7z"/>
<path transform="translate(175.3,842.7)" d="M-2.8,-1.1h1.7v-1.3h2.2v1.3h1.7v2.2h-1.7v1.3h-2.2v-1.3h-1.7z"/>
<path transform="translate(174.3,859.0)" d="M-2.8,-1.1h1.7v-1.3h2.2v1.3h1.7v2.2h-1.7v1.3h-2.2v-1.3h-1.7z"/>
<path transform="translate(183.4,848.0)" d="M-2.8,-1.1h1.7v-1.3h2.2v1.3h1.7v2.2h-1.7v1.3h-2.2v-1.3h-1.7z"/>
<path transform="translate(189.4,834.6)" d="M-2.8,-1.1h1.7v-1.3h2.2v1.3h1.7v2.2h-1.7v1.3h-2.2v-1.3h-1.7z"/>
<path transform="translate(193.3,849.7)" d="M-2.8,-1.1h1.7v-1.3h2.2v1.3h1.7v2.2h-1.7v1.3h-2.2v-1.3h-1.7z"/>
<path transform="translate(201.1,821.9)" d="M-2.8,-1.1h1.7v-1.3h2.2v1.3h1.7v2.2h-1.7v1.3h-2.2v-1.3h-1.7z"/>
<path transform="translate(202.5,834.2)" d="M-2.8,-1.1h1.7v-1.3h2.2v1.3h1.7v2.2h-1.7v1.3h-2.2v-1.3h-1.7z"/>
<path transform="translate(207.2,833.6)" d="M-2.8,-1.1h1.7v-1.3h2.2v1.3h1.7v2.2h-1.7v1.3h-2.2v-1.3h-1.7z"/>
<path transform="translate(208.9,829.0)" d="M-2.8,-1.1h1.7v-1.3h2.2v1.3h1.7v2.2h-1.7v1.3h-2.2v-1.3h-1.7z"/>
<path transform="translate(206.8,842.4)" d="M-2.8,-1.1h1.7v-1.3h2.2v1.3h1.7v2.2h-1.7v1.3h-2.2v-1.3h-1.7z"/>
<path transform="translate(208.2,857.2)" d="M-2.8,-1.1h1.7v-1.3h2.2v1.3h1.7v2.2h-1.7v1.3h-2.2v-1.3h-1.7z"/>
<path transform="translate(209.6,849.4)" d="M-2.8,-1.1h1.7v-1.3h2.2v1.3h1.7v2.2h-1.7v1.3h-2.2v-1.3h-1.7z"/>
<path transform="translate(208.2,880.8)" d="M-2.8,-1.1h1.7v-1.3h2.2v1.3h1.7v2.2h-1.7v1.3h-2.2v-1.3h-1.7z"/>
<path transform="translate(214.2,836.7)" d="M-2.8,-1.1h1.7v-1.3h2.2v1.3h1.7v2.2h-1.7v1.3h-2.2v-1.3h-1.7z"/>
<path transform="translate(218.8,838.8)" d="M-2.8,-1.1h1.7v-1.3h2.2v1.3h1.7v2.2h-1.7v1.3h-2.2v-1.3h-1.7z"/>
<path transform="translate(223.4,832.2)" d="M-2.8,-1.1h1.7v-1.3h2.2v1.3h1.7v2.2h-1.7v1.3h-2.2v-1.3h-1.7z"/>
<path transform="translate(224.5,836.4)" d="M-2.8,-1.1h1.7v-1.3h2.2v1.3h1.7v2.2h-1.7v1.3h-2.2v-1.3h-1.7z"/>
<path transform="translate(210.6,849.4)" d="M-2.8,-1.1h1.7v-1.3h2.2v1.3h1.7v2.2h-1.7v1.3h-2.2v-1.3h-1.7z"/>
<path transform="translate(215.2,845.9)" d="M-2.8,-1.1h1.7v-1.3h2.2v1.3h1.7v2.2h-1.7v1.3h-2.2v-1.3h-1.7z"/>
<path transform="translate(216.3,848.7)" d="M-2.8,-1.1h1.7v-1.3h2.2v1.3h1.7v2.2h-1.7v1.3h-2.2v-1.3h-1.7z"/>
<path transform="translate(219.8,849.4)" d="M-2.8,-1.1h1.7v-1.3h2.2v1.3h1.7v2.2h-1.7v1.3h-2.2v-1.3h-1.7z"/>
<path transform="translate(221.9,848.7)" d="M-2.8,-1.1h1.7v-1.3h2.2v1.3h1.7v2.2h-1.7v1.3h-2.2v-1.3h-1.7z"/>
<path transform="translate(220.3,853.7)" d="M-2.8,-1.1h1.7v-1.3h2.2v1.3h1.7v2.2h-1.7v1.3h-2.2v-1.3h-1.7z"/>
<path transform="translate(220.3,859.0)" d="M-2.8,-1.1h1.7v-1.3h2.2v1.3h1.7v2.2h-1.7v1.3h-2.2v-1.3h-1.7z"/>
<path transform="translate(225.5,845.9)" d="M-2.8,-1.1h1.7v-1.3h2.2v1.3h1.7v2.2h-1.7v1.3h-2.2v-1.3h-1.7z"/>
<path transform="translate(228.3,845.2)" d="M-2.8,-1.1h1.7v-1.3h2.2v1.3h1.7v2.2h-1.7v1.3h-2.2v-1.3h-1.7z"/>
<path transform="translate(231.1,843.8)" d="M-2.8,-1.1h1.7v-1.3h2.2v1.3h1.7v2.2h-1.7v1.3h-2.2v-1.3h-1.7z"/>
<path transform="translate(228.7,848.7)" d="M-2.8,-1.1h1.7v-1.3h2.2v1.3h1.7v2.2h-1.7v1.3h-2.2v-1.3h-1.7z"/>
<path transform="translate(236.8,834.6)" d="M-2.8,-1.1h1.7v-1.3h2.2v1.3h1.7v2.2h-1.7v1.3h-2.2v-1.3h-1.7z"/>
<path transform="translate(236.8,837.4)" d="M-2.8,-1.1h1.7v-1.3h2.2v1.3h1.7v2.2h-1.7v1.3h-2.2v-1.3h-1.7z"/>
<path transform="translate(240.3,837.9)" d="M-2.8,-1.1h1.7v-1.3h2.2v1.3h1.7v2.2h-1.7v1.3h-2.2v-1.3h-1.7z"/>
<path transform="translate(243.1,837.9)" d="M-2.8,-1.1h1.7v-1.3h2.2v1.3h1.7v2.2h-1.7v1.3h-2.2v-1.3h-1.7z"/>
<path transform="translate(245.3,826.1)" d="M-2.8,-1.1h1.7v-1.3h2.2v1.3h1.7v2.2h-1.7v1.3h-2.2v-1.3h-1.7z"/>
<path transform="translate(244.5,832.5)" d="M-2.8,-1.1h1.7v-1.3h2.2v1.3h1.7v2.2h-1.7v1.3h-2.2v-1.3h-1.7z"/>
<path transform="translate(247.4,829.7)" d="M-2.8,-1.1h1.7v-1.3h2.2v1.3h1.7v2.2h-1.7v1.3h-2.2v-1.3h-1.7z"/>
<path transform="translate(248.8,825.4)" d="M-2.8,-1.1h1.7v-1.3h2.2v1.3h1.7v2.2h-1.7v1.3h-2.2v-1.3h-1.7z"/>
<path transform="translate(249.5,833.2)" d="M-2.8,-1.1h1.7v-1.3h2.2v1.3h1.7v2.2h-1.7v1.3h-2.2v-1.3h-1.7z"/>
<path transform="translate(250.2,836.7)" d="M-2.8,-1.1h1.7v-1.3h2.2v1.3h1.7v2.2h-1.7v1.3h-2.2v-1.3h-1.7z"/>
<path transform="translate(248.8,838.8)" d="M-2.8,-1.1h1.7v-1.3h2.2v1.3h1.7v2.2h-1.7v1.3h-2.2v-1.3h-1.7z"/>
<path transform="translate(251.6,830.4)" d="M-2.8,-1.1h1.7v-1.3h2.2v1.3h1.7v2.2h-1.7v1.3h-2.2v-1.3h-1.7z"/>
<path transform="translate(253.0,834.6)" d="M-2.8,-1.1h1.7v-1.3h2.2v1.3h1.7v2.2h-1.7v1.3h-2.2v-1.3h-1.7z"/>
<path transform="translate(255.1,827.5)" d="M-2.8,-1.1h1.7v-1.3h2.2v1.3h1.7v2.2h-1.7v1.3h-2.2v-1.3h-1.7z"/>
<path transform="translate(256.6,832.5)" d="M-2.8,-1.1h1.7v-1.3h2.2v1.3h1.7v2.2h-1.7v1.3h-2.2v-1.3h-1.7z"/>
<path transform="translate(258.7,833.9)" d="M-2.8,-1.1h1.7v-1.3h2.2v1.3h1.7v2.2h-1.7v1.3h-2.2v-1.3h-1.7z"/>
<path transform="translate(258.0,829.7)" d="M-2.8,-1.1h1.7v-1.3h2.2v1.3h1.7v2.2h-1.7v1.3h-2.2v-1.3h-1.7z"/>
<path transform="translate(260.8,824.0)" d="M-2.8,-1.1h1.7v-1.3h2.2v1.3h1.7v2.2h-1.7v1.3h-2.2v-1.3h-1.7z"/>
<path transform="translate(262.2,821.2)" d="M-2.8,-1.1h1.7v-1.3h2.2v1.3h1.7v2.2h-1.7v1.3h-2.2v-1.3h-1.7z"/>
<path transform="translate(259.4,834.6)" d="M-2.8,-1.1h1.7v-1.3h2.2v1.3h1.7v2.2h-1.7v1.3h-2.2v-1.3h-1.7z"/>
<path transform="translate(255.1,841.7)" d="M-2.8,-1.1h1.7v-1.3h2.2v1.3h1.7v2.2h-1.7v1.3h-2.2v-1.3h-1.7z"/>
<path transform="translate(257.3,844.9)" d="M-2.8,-1.1h1.7v-1.3h2.2v1.3h1.7v2.2h-1.7v1.3h-2.2v-1.3h-1.7z"/>
<path transform="translate(262.9,842.1)" d="M-2.8,-1.1h1.7v-1.3h2.2v1.3h1.7v2.2h-1.7v1.3h-2.2v-1.3h-1.7z"/>
<path transform="translate(248.8,846.6)" d="M-2.8,-1.1h1.7v-1.3h2.2v1.3h1.7v2.2h-1.7v1.3h-2.2v-1.3h-1.7z"/>
<path transform="translate(248.1,849.7)" d="M-2.8,-1.1h1.7v-1.3h2.2v1.3h1.7v2.2h-1.7v1.3h-2.2v-1.3h-1.7z"/>
<path transform="translate(273.9,821.2)" d="M-2.8,-1.1h1.7v-1.3h2.2v1.3h1.7v2.2h-1.7v1.3h-2.2v-1.3h-1.7z"/>
<path transform="translate(272.8,838.4)" d="M-2.8,-1.1h1.7v-1.3h2.2v1.3h1.7v2.2h-1.7v1.3h-2.2v-1.3h-1.7z"/>
<path transform="translate(276.3,838.1)" d="M-2.8,-1.1h1.7v-1.3h2.2v1.3h1.7v2.2h-1.7v1.3h-2.2v-1.3h-1.7z"/>
<path transform="translate(284.1,829.7)" d="M-2.8,-1.1h1.7v-1.3h2.2v1.3h1.7v2.2h-1.7v1.3h-2.2v-1.3h-1.7z"/>
<path transform="translate(286.2,824.0)" d="M-2.8,-1.1h1.7v-1.3h2.2v1.3h1.7v2.2h-1.7v1.3h-2.2v-1.3h-1.7z"/>
<path transform="translate(290.5,823.3)" d="M-2.8,-1.1h1.7v-1.3h2.2v1.3h1.7v2.2h-1.7v1.3h-2.2v-1.3h-1.7z"/>
<path transform="translate(250.1,832.7)" d="M-2.8,-1.1h1.7v-1.3h2.2v1.3h1.7v2.2h-1.7v1.3h-2.2v-1.3h-1.7z"/>
<path transform="translate(254.4,832.0)" d="M-2.8,-1.1h1.7v-1.3h2.2v1.3h1.7v2.2h-1.7v1.3h-2.2v-1.3h-1.7z"/>
<path transform="translate(257.9,833.4)" d="M-2.8,-1.1h1.7v-1.3h2.2v1.3h1.7v2.2h-1.7v1.3h-2.2v-1.3h-1.7z"/>
<path transform="translate(252.3,834.8)" d="M-2.8,-1.1h1.7v-1.3h2.2v1.3h1.7v2.2h-1.7v1.3h-2.2v-1.3h-1.7z"/>
<path transform="translate(255.8,835.5)" d="M-2.8,-1.1h1.7v-1.3h2.2v1.3h1.7v2.2h-1.7v1.3h-2.2v-1.3h-1.7z"/>
<path transform="translate(214.1,846.1)" d="M-2.8,-1.1h1.7v-1.3h2.2v1.3h1.7v2.2h-1.7v1.3h-2.2v-1.3h-1.7z"/>
</g>
<g fill="#000">
<path transform="translate(523.5,845.7)" d="M-2.8,-1.1h1.7v-1.3h2.2v1.3h1.7v2.2h-1.7v1.3h-2.2v-1.3h-1.7z"/>
<path transform="translate(532.9,858.6)" d="M-2.8,-1.1h1.7v-1.3h2.2v1.3h1.7v2.2h-1.7v1.3h-2.2v-1.3h-1.7z"/>
<path transform="translate(531.4,910.5)" d="M-2.8,-1.1h1.7v-1.3h2.2v1.3h1.7v2.2h-1.7v1.3h-2.2v-1.3h-1.7z"/>
<path transform="translate(543.3,836.3)" d="M-2.8,-1.1h1.7v-1.3h2.2v1.3h1.7v2.2h-1.7v1.3h-2.2v-1.3h-1.7z"/>
<path transform="translate(545.0,834.4)" d="M-2.8,-1.1h1.7v-1.3h2.2v1.3h1.7v2.2h-1.7v1.3h-2.2v-1.3h-1.7z"/>
<path transform="translate(552.8,843.0)" d="M-2.8,-1.1h1.7v-1.3h2.2v1.3h1.7v2.2h-1.7v1.3h-2.2v-1.3h-1.7z"/>
<path transform="translate(564.0,880.1)" d="M-2.8,-1.1h1.7v-1.3h2.2v1.3h1.7v2.2h-1.7v1.3h-2.2v-1.3h-1.7z"/>
<path transform="translate(574.7,842.7)" d="M-2.8,-1.1h1.7v-1.3h2.2v1.3h1.7v2.2h-1.7v1.3h-2.2v-1.3h-1.7z"/>
<path transform="translate(580.9,857.1)" d="M-2.8,-1.1h1.7v-1.3h2.2v1.3h1.7v2.2h-1.7v1.3h-2.2v-1.3h-1.7z"/>
<path transform="translate(581.8,845.2)" d="M-2.8,-1.1h1.7v-1.3h2.2v1.3h1.7v2.2h-1.7v1.3h-2.2v-1.3h-1.7z"/>
<path transform="translate(577.7,833.4)" d="M-2.8,-1.1h1.7v-1.3h2.2v1.3h1.7v2.2h-1.7v1.3h-2.2v-1.3h-1.7z"/>
<path transform="translate(580.6,831.1)" d="M-2.8,-1.1h1.7v-1.3h2.2v1.3h1.7v2.2h-1.7v1.3h-2.2v-1.3h-1.7z"/>
<path transform="translate(579.2,835.6)" d="M-2.8,-1.1h1.7v-1.3h2.2v1.3h1.7v2.2h-1.7v1.3h-2.2v-1.3h-1.7z"/>
<path transform="translate(582.9,835.6)" d="M-2.8,-1.1h1.7v-1.3h2.2v1.3h1.7v2.2h-1.7v1.3h-2.2v-1.3h-1.7z"/>
<path transform="translate(585.1,828.2)" d="M-2.8,-1.1h1.7v-1.3h2.2v1.3h1.7v2.2h-1.7v1.3h-2.2v-1.3h-1.7z"/>
<path transform="translate(586.6,823.4)" d="M-2.8,-1.1h1.7v-1.3h2.2v1.3h1.7v2.2h-1.7v1.3h-2.2v-1.3h-1.7z"/>
<path transform="translate(585.8,836.8)" d="M-2.8,-1.1h1.7v-1.3h2.2v1.3h1.7v2.2h-1.7v1.3h-2.2v-1.3h-1.7z"/>
<path transform="translate(588.8,837.8)" d="M-2.8,-1.1h1.7v-1.3h2.2v1.3h1.7v2.2h-1.7v1.3h-2.2v-1.3h-1.7z"/>
<path transform="translate(587.3,848.9)" d="M-2.8,-1.1h1.7v-1.3h2.2v1.3h1.7v2.2h-1.7v1.3h-2.2v-1.3h-1.7z"/>
<path transform="translate(590.3,846.7)" d="M-2.8,-1.1h1.7v-1.3h2.2v1.3h1.7v2.2h-1.7v1.3h-2.2v-1.3h-1.7z"/>
<path transform="translate(594.0,846.7)" d="M-2.8,-1.1h1.7v-1.3h2.2v1.3h1.7v2.2h-1.7v1.3h-2.2v-1.3h-1.7z"/>
<path transform="translate(601.1,821.9)" d="M-2.8,-1.1h1.7v-1.3h2.2v1.3h1.7v2.2h-1.7v1.3h-2.2v-1.3h-1.7z"/>
<path transform="translate(599.9,832.9)" d="M-2.8,-1.1h1.7v-1.3h2.2v1.3h1.7v2.2h-1.7v1.3h-2.2v-1.3h-1.7z"/>
<path transform="translate(604.7,831.9)" d="M-2.8,-1.1h1.7v-1.3h2.2v1.3h1.7v2.2h-1.7v1.3h-2.2v-1.3h-1.7z"/>
<path transform="translate(601.4,838.9)" d="M-2.8,-1.1h1.7v-1.3h2.2v1.3h1.7v2.2h-1.7v1.3h-2.2v-1.3h-1.7z"/>
<path transform="translate(605.8,841.8)" d="M-2.8,-1.1h1.7v-1.3h2.2v1.3h1.7v2.2h-1.7v1.3h-2.2v-1.3h-1.7z"/>
<path transform="translate(602.1,847.8)" d="M-2.8,-1.1h1.7v-1.3h2.2v1.3h1.7v2.2h-1.7v1.3h-2.2v-1.3h-1.7z"/>
<path transform="translate(605.8,848.9)" d="M-2.8,-1.1h1.7v-1.3h2.2v1.3h1.7v2.2h-1.7v1.3h-2.2v-1.3h-1.7z"/>
<path transform="translate(609.6,847.8)" d="M-2.8,-1.1h1.7v-1.3h2.2v1.3h1.7v2.2h-1.7v1.3h-2.2v-1.3h-1.7z"/>
<path transform="translate(626.2,821.4)" d="M-2.8,-1.1h1.7v-1.3h2.2v1.3h1.7v2.2h-1.7v1.3h-2.2v-1.3h-1.7z"/>
<path transform="translate(627.5,825.6)" d="M-2.8,-1.1h1.7v-1.3h2.2v1.3h1.7v2.2h-1.7v1.3h-2.2v-1.3h-1.7z"/>
<path transform="translate(638.1,827.8)" d="M-2.8,-1.1h1.7v-1.3h2.2v1.3h1.7v2.2h-1.7v1.3h-2.2v-1.3h-1.7z"/>
<path transform="translate(648.5,825.2)" d="M-2.8,-1.1h1.7v-1.3h2.2v1.3h1.7v2.2h-1.7v1.3h-2.2v-1.3h-1.7z"/>
<path transform="translate(655.7,821.7)" d="M-2.8,-1.1h1.7v-1.3h2.2v1.3h1.7v2.2h-1.7v1.3h-2.2v-1.3h-1.7z"/>
<path transform="translate(658.7,823.6)" d="M-2.8,-1.1h1.7v-1.3h2.2v1.3h1.7v2.2h-1.7v1.3h-2.2v-1.3h-1.7z"/>
<path transform="translate(666.4,821.0)" d="M-2.8,-1.1h1.7v-1.3h2.2v1.3h1.7v2.2h-1.7v1.3h-2.2v-1.3h-1.7z"/>
<path transform="translate(692.3,827.8)" d="M-2.8,-1.1h1.7v-1.3h2.2v1.3h1.7v2.2h-1.7v1.3h-2.2v-1.3h-1.7z"/>
<path transform="translate(663.8,829.3)" d="M-2.8,-1.1h1.7v-1.3h2.2v1.3h1.7v2.2h-1.7v1.3h-2.2v-1.3h-1.7z"/>
<path transform="translate(659.5,834.3)" d="M-2.8,-1.1h1.7v-1.3h2.2v1.3h1.7v2.2h-1.7v1.3h-2.2v-1.3h-1.7z"/>
<path transform="translate(658.0,838.1)" d="M-2.8,-1.1h1.7v-1.3h2.2v1.3h1.7v2.2h-1.7v1.3h-2.2v-1.3h-1.7z"/>
<path transform="translate(665.9,842.4)" d="M-2.8,-1.1h1.7v-1.3h2.2v1.3h1.7v2.2h-1.7v1.3h-2.2v-1.3h-1.7z"/>
<path transform="translate(651.9,842.4)" d="M-2.8,-1.1h1.7v-1.3h2.2v1.3h1.7v2.2h-1.7v1.3h-2.2v-1.3h-1.7z"/>
<path transform="translate(645.0,833.9)" d="M-2.8,-1.1h1.7v-1.3h2.2v1.3h1.7v2.2h-1.7v1.3h-2.2v-1.3h-1.7z"/>
<path transform="translate(648.5,832.3)" d="M-2.8,-1.1h1.7v-1.3h2.2v1.3h1.7v2.2h-1.7v1.3h-2.2v-1.3h-1.7z"/>
<path transform="translate(640.0,838.9)" d="M-2.8,-1.1h1.7v-1.3h2.2v1.3h1.7v2.2h-1.7v1.3h-2.2v-1.3h-1.7z"/>
<path transform="translate(630.5,835.1)" d="M-2.8,-1.1h1.7v-1.3h2.2v1.3h1.7v2.2h-1.7v1.3h-2.2v-1.3h-1.7z"/>
<path transform="translate(632.0,838.1)" d="M-2.8,-1.1h1.7v-1.3h2.2v1.3h1.7v2.2h-1.7v1.3h-2.2v-1.3h-1.7z"/>
<path transform="translate(625.9,832.0)" d="M-2.8,-1.1h1.7v-1.3h2.2v1.3h1.7v2.2h-1.7v1.3h-2.2v-1.3h-1.7z"/>
<path transform="translate(622.9,835.8)" d="M-2.8,-1.1h1.7v-1.3h2.2v1.3h1.7v2.2h-1.7v1.3h-2.2v-1.3h-1.7z"/>
<path transform="translate(621.4,838.1)" d="M-2.8,-1.1h1.7v-1.3h2.2v1.3h1.7v2.2h-1.7v1.3h-2.2v-1.3h-1.7z"/>
<path transform="translate(614.5,830.5)" d="M-2.8,-1.1h1.7v-1.3h2.2v1.3h1.7v2.2h-1.7v1.3h-2.2v-1.3h-1.7z"/>
<path transform="translate(617.5,829.7)" d="M-2.8,-1.1h1.7v-1.3h2.2v1.3h1.7v2.2h-1.7v1.3h-2.2v-1.3h-1.7z"/>
<path transform="translate(613.4,834.3)" d="M-2.8,-1.1h1.7v-1.3h2.2v1.3h1.7v2.2h-1.7v1.3h-2.2v-1.3h-1.7z"/>
<path transform="translate(615.3,836.6)" d="M-2.8,-1.1h1.7v-1.3h2.2v1.3h1.7v2.2h-1.7v1.3h-2.2v-1.3h-1.7z"/>
<path transform="translate(612.2,837.4)" d="M-2.8,-1.1h1.7v-1.3h2.2v1.3h1.7v2.2h-1.7v1.3h-2.2v-1.3h-1.7z"/>
<path transform="translate(604.6,832.0)" d="M-2.8,-1.1h1.7v-1.3h2.2v1.3h1.7v2.2h-1.7v1.3h-2.2v-1.3h-1.7z"/>
<path transform="translate(601.8,838.1)" d="M-2.8,-1.1h1.7v-1.3h2.2v1.3h1.7v2.2h-1.7v1.3h-2.2v-1.3h-1.7z"/>
<path transform="translate(606.1,842.0)" d="M-2.8,-1.1h1.7v-1.3h2.2v1.3h1.7v2.2h-1.7v1.3h-2.2v-1.3h-1.7z"/>
<path transform="translate(618.3,842.7)" d="M-2.8,-1.1h1.7v-1.3h2.2v1.3h1.7v2.2h-1.7v1.3h-2.2v-1.3h-1.7z"/>
<path transform="translate(622.9,845.0)" d="M-2.8,-1.1h1.7v-1.3h2.2v1.3h1.7v2.2h-1.7v1.3h-2.2v-1.3h-1.7z"/>
<path transform="translate(622.1,849.1)" d="M-2.8,-1.1h1.7v-1.3h2.2v1.3h1.7v2.2h-1.7v1.3h-2.2v-1.3h-1.7z"/>
<path transform="translate(632.0,848.5)" d="M-2.8,-1.1h1.7v-1.3h2.2v1.3h1.7v2.2h-1.7v1.3h-2.2v-1.3h-1.7z"/>
<path transform="translate(633.6,853.4)" d="M-2.8,-1.1h1.7v-1.3h2.2v1.3h1.7v2.2h-1.7v1.3h-2.2v-1.3h-1.7z"/>
<path transform="translate(619.1,858.3)" d="M-2.8,-1.1h1.7v-1.3h2.2v1.3h1.7v2.2h-1.7v1.3h-2.2v-1.3h-1.7z"/>
<path transform="translate(606.1,849.1)" d="M-2.8,-1.1h1.7v-1.3h2.2v1.3h1.7v2.2h-1.7v1.3h-2.2v-1.3h-1.7z"/>
<path transform="translate(609.2,848.5)" d="M-2.8,-1.1h1.7v-1.3h2.2v1.3h1.7v2.2h-1.7v1.3h-2.2v-1.3h-1.7z"/>
<path transform="translate(612.2,848.5)" d="M-2.8,-1.1h1.7v-1.3h2.2v1.3h1.7v2.2h-1.7v1.3h-2.2v-1.3h-1.7z"/>
<path transform="translate(614.5,847.3)" d="M-2.8,-1.1h1.7v-1.3h2.2v1.3h1.7v2.2h-1.7v1.3h-2.2v-1.3h-1.7z"/>
<path transform="translate(613.0,831.0)" d="M-2.8,-1.1h1.7v-1.3h2.2v1.3h1.7v2.2h-1.7v1.3h-2.2v-1.3h-1.7z"/>
<path transform="translate(615.5,833.5)" d="M-2.8,-1.1h1.7v-1.3h2.2v1.3h1.7v2.2h-1.7v1.3h-2.2v-1.3h-1.7z"/>
<path transform="translate(617.0,831.5)" d="M-2.8,-1.1h1.7v-1.3h2.2v1.3h1.7v2.2h-1.7v1.3h-2.2v-1.3h-1.7z"/>
<path transform="translate(612.0,836.0)" d="M-2.8,-1.1h1.7v-1.3h2.2v1.3h1.7v2.2h-1.7v1.3h-2.2v-1.3h-1.7z"/>
<path transform="translate(614.5,838.5)" d="M-2.8,-1.1h1.7v-1.3h2.2v1.3h1.7v2.2h-1.7v1.3h-2.2v-1.3h-1.7z"/>
<path transform="translate(618.5,837.0)" d="M-2.8,-1.1h1.7v-1.3h2.2v1.3h1.7v2.2h-1.7v1.3h-2.2v-1.3h-1.7z"/>
<path transform="translate(616.0,829.0)" d="M-2.8,-1.1h1.7v-1.3h2.2v1.3h1.7v2.2h-1.7v1.3h-2.2v-1.3h-1.7z"/>
<path transform="translate(654.0,823.0)" d="M-2.8,-1.1h1.7v-1.3h2.2v1.3h1.7v2.2h-1.7v1.3h-2.2v-1.3h-1.7z"/>
<path transform="translate(657.0,826.0)" d="M-2.8,-1.1h1.7v-1.3h2.2v1.3h1.7v2.2h-1.7v1.3h-2.2v-1.3h-1.7z"/>
<path transform="translate(659.5,821.0)" d="M-2.8,-1.1h1.7v-1.3h2.2v1.3h1.7v2.2h-1.7v1.3h-2.2v-1.3h-1.7z"/>
<path transform="translate(651.0,831.0)" d="M-2.8,-1.1h1.7v-1.3h2.2v1.3h1.7v2.2h-1.7v1.3h-2.2v-1.3h-1.7z"/>
<path transform="translate(647.0,835.0)" d="M-2.8,-1.1h1.7v-1.3h2.2v1.3h1.7v2.2h-1.7v1.3h-2.2v-1.3h-1.7z"/>
</g>
<g fill="#000">
<path transform="translate(523.5,974.6)" d="M-2.8,-1.1h1.7v-1.3h2.2v1.3h1.7v2.2h-1.7v1.3h-2.2v-1.3h-1.7z"/>
<path transform="translate(532.4,996.8)" d="M-2.8,-1.1h1.7v-1.3h2.2v1.3h1.7v2.2h-1.7v1.3h-2.2v-1.3h-1.7z"/>
<path transform="translate(531.0,1021.3)" d="M-2.8,-1.1h1.7v-1.3h2.2v1.3h1.7v2.2h-1.7v1.3h-2.2v-1.3h-1.7z"/>
<path transform="translate(543.3,975.0)" d="M-2.8,-1.1h1.7v-1.3h2.2v1.3h1.7v2.2h-1.7v1.3h-2.2v-1.3h-1.7z"/>
<path transform="translate(544.7,988.4)" d="M-2.8,-1.1h1.7v-1.3h2.2v1.3h1.7v2.2h-1.7v1.3h-2.2v-1.3h-1.7z"/>
<path transform="translate(552.8,979.5)" d="M-2.8,-1.1h1.7v-1.3h2.2v1.3h1.7v2.2h-1.7v1.3h-2.2v-1.3h-1.7z"/>
<path transform="translate(564.0,978.6)" d="M-2.8,-1.1h1.7v-1.3h2.2v1.3h1.7v2.2h-1.7v1.3h-2.2v-1.3h-1.7z"/>
<path transform="translate(574.7,995.3)" d="M-2.8,-1.1h1.7v-1.3h2.2v1.3h1.7v2.2h-1.7v1.3h-2.2v-1.3h-1.7z"/>
<path transform="translate(579.4,1005.7)" d="M-2.8,-1.1h1.7v-1.3h2.2v1.3h1.7v2.2h-1.7v1.3h-2.2v-1.3h-1.7z"/>
<path transform="translate(577.7,979.0)" d="M-2.8,-1.1h1.7v-1.3h2.2v1.3h1.7v2.2h-1.7v1.3h-2.2v-1.3h-1.7z"/>
<path transform="translate(580.9,978.3)" d="M-2.8,-1.1h1.7v-1.3h2.2v1.3h1.7v2.2h-1.7v1.3h-2.2v-1.3h-1.7z"/>
<path transform="translate(585.1,978.0)" d="M-2.8,-1.1h1.7v-1.3h2.2v1.3h1.7v2.2h-1.7v1.3h-2.2v-1.3h-1.7z"/>
<path transform="translate(588.8,975.0)" d="M-2.8,-1.1h1.7v-1.3h2.2v1.3h1.7v2.2h-1.7v1.3h-2.2v-1.3h-1.7z"/>
<path transform="translate(580.3,954.9)" d="M-2.8,-1.1h1.7v-1.3h2.2v1.3h1.7v2.2h-1.7v1.3h-2.2v-1.3h-1.7z"/>
<path transform="translate(586.3,950.9)" d="M-2.8,-1.1h1.7v-1.3h2.2v1.3h1.7v2.2h-1.7v1.3h-2.2v-1.3h-1.7z"/>
<path transform="translate(586.3,954.9)" d="M-2.8,-1.1h1.7v-1.3h2.2v1.3h1.7v2.2h-1.7v1.3h-2.2v-1.3h-1.7z"/>
<path transform="translate(588.8,960.2)" d="M-2.8,-1.1h1.7v-1.3h2.2v1.3h1.7v2.2h-1.7v1.3h-2.2v-1.3h-1.7z"/>
<path transform="translate(579.9,963.5)" d="M-2.8,-1.1h1.7v-1.3h2.2v1.3h1.7v2.2h-1.7v1.3h-2.2v-1.3h-1.7z"/>
<path transform="translate(582.1,967.9)" d="M-2.8,-1.1h1.7v-1.3h2.2v1.3h1.7v2.2h-1.7v1.3h-2.2v-1.3h-1.7z"/>
<path transform="translate(584.3,969.4)" d="M-2.8,-1.1h1.7v-1.3h2.2v1.3h1.7v2.2h-1.7v1.3h-2.2v-1.3h-1.7z"/>
<path transform="translate(590.7,969.4)" d="M-2.8,-1.1h1.7v-1.3h2.2v1.3h1.7v2.2h-1.7v1.3h-2.2v-1.3h-1.7z"/>
<path transform="translate(586.9,986.4)" d="M-2.8,-1.1h1.7v-1.3h2.2v1.3h1.7v2.2h-1.7v1.3h-2.2v-1.3h-1.7z"/>
<path transform="translate(594.7,956.8)" d="M-2.8,-1.1h1.7v-1.3h2.2v1.3h1.7v2.2h-1.7v1.3h-2.2v-1.3h-1.7z"/>
<path transform="translate(599.9,957.5)" d="M-2.8,-1.1h1.7v-1.3h2.2v1.3h1.7v2.2h-1.7v1.3h-2.2v-1.3h-1.7z"/>
<path transform="translate(604.4,959.0)" d="M-2.8,-1.1h1.7v-1.3h2.2v1.3h1.7v2.2h-1.7v1.3h-2.2v-1.3h-1.7z"/>
<path transform="translate(601.4,973.1)" d="M-2.8,-1.1h1.7v-1.3h2.2v1.3h1.7v2.2h-1.7v1.3h-2.2v-1.3h-1.7z"/>
<path transform="translate(601.1,982.4)" d="M-2.8,-1.1h1.7v-1.3h2.2v1.3h1.7v2.2h-1.7v1.3h-2.2v-1.3h-1.7z"/>
<path transform="translate(602.1,991.6)" d="M-2.8,-1.1h1.7v-1.3h2.2v1.3h1.7v2.2h-1.7v1.3h-2.2v-1.3h-1.7z"/>
<path transform="translate(605.8,978.3)" d="M-2.8,-1.1h1.7v-1.3h2.2v1.3h1.7v2.2h-1.7v1.3h-2.2v-1.3h-1.7z"/>
<path transform="translate(608.8,973.8)" d="M-2.8,-1.1h1.7v-1.3h2.2v1.3h1.7v2.2h-1.7v1.3h-2.2v-1.3h-1.7z"/>
<path transform="translate(655.7,935.1)" d="M-2.8,-1.1h1.7v-1.3h2.2v1.3h1.7v2.2h-1.7v1.3h-2.2v-1.3h-1.7z"/>
<path transform="translate(658.0,936.6)" d="M-2.8,-1.1h1.7v-1.3h2.2v1.3h1.7v2.2h-1.7v1.3h-2.2v-1.3h-1.7z"/>
<path transform="translate(664.1,938.1)" d="M-2.8,-1.1h1.7v-1.3h2.2v1.3h1.7v2.2h-1.7v1.3h-2.2v-1.3h-1.7z"/>
<path transform="translate(658.7,942.2)" d="M-2.8,-1.1h1.7v-1.3h2.2v1.3h1.7v2.2h-1.7v1.3h-2.2v-1.3h-1.7z"/>
<path transform="translate(666.4,943.8)" d="M-2.8,-1.1h1.7v-1.3h2.2v1.3h1.7v2.2h-1.7v1.3h-2.2v-1.3h-1.7z"/>
<path transform="translate(665.9,949.6)" d="M-2.8,-1.1h1.7v-1.3h2.2v1.3h1.7v2.2h-1.7v1.3h-2.2v-1.3h-1.7z"/>
<path transform="translate(692.3,952.6)" d="M-2.8,-1.1h1.7v-1.3h2.2v1.3h1.7v2.2h-1.7v1.3h-2.2v-1.3h-1.7z"/>
<path transform="translate(631.7,943.8)" d="M-2.8,-1.1h1.7v-1.3h2.2v1.3h1.7v2.2h-1.7v1.3h-2.2v-1.3h-1.7z"/>
<path transform="translate(613.4,951.4)" d="M-2.8,-1.1h1.7v-1.3h2.2v1.3h1.7v2.2h-1.7v1.3h-2.2v-1.3h-1.7z"/>
<path transform="translate(624.4,950.3)" d="M-2.8,-1.1h1.7v-1.3h2.2v1.3h1.7v2.2h-1.7v1.3h-2.2v-1.3h-1.7z"/>
<path transform="translate(626.7,949.3)" d="M-2.8,-1.1h1.7v-1.3h2.2v1.3h1.7v2.2h-1.7v1.3h-2.2v-1.3h-1.7z"/>
<path transform="translate(622.9,952.9)" d="M-2.8,-1.1h1.7v-1.3h2.2v1.3h1.7v2.2h-1.7v1.3h-2.2v-1.3h-1.7z"/>
<path transform="translate(629.7,956.0)" d="M-2.8,-1.1h1.7v-1.3h2.2v1.3h1.7v2.2h-1.7v1.3h-2.2v-1.3h-1.7z"/>
<path transform="translate(627.5,958.7)" d="M-2.8,-1.1h1.7v-1.3h2.2v1.3h1.7v2.2h-1.7v1.3h-2.2v-1.3h-1.7z"/>
<path transform="translate(638.1,954.9)" d="M-2.8,-1.1h1.7v-1.3h2.2v1.3h1.7v2.2h-1.7v1.3h-2.2v-1.3h-1.7z"/>
<path transform="translate(640.0,956.0)" d="M-2.8,-1.1h1.7v-1.3h2.2v1.3h1.7v2.2h-1.7v1.3h-2.2v-1.3h-1.7z"/>
<path transform="translate(644.5,952.9)" d="M-2.8,-1.1h1.7v-1.3h2.2v1.3h1.7v2.2h-1.7v1.3h-2.2v-1.3h-1.7z"/>
<path transform="translate(648.8,952.6)" d="M-2.8,-1.1h1.7v-1.3h2.2v1.3h1.7v2.2h-1.7v1.3h-2.2v-1.3h-1.7z"/>
<path transform="translate(648.0,956.9)" d="M-2.8,-1.1h1.7v-1.3h2.2v1.3h1.7v2.2h-1.7v1.3h-2.2v-1.3h-1.7z"/>
<path transform="translate(651.9,953.8)" d="M-2.8,-1.1h1.7v-1.3h2.2v1.3h1.7v2.2h-1.7v1.3h-2.2v-1.3h-1.7z"/>
<path transform="translate(655.7,949.9)" d="M-2.8,-1.1h1.7v-1.3h2.2v1.3h1.7v2.2h-1.7v1.3h-2.2v-1.3h-1.7z"/>
<path transform="translate(659.5,951.4)" d="M-2.8,-1.1h1.7v-1.3h2.2v1.3h1.7v2.2h-1.7v1.3h-2.2v-1.3h-1.7z"/>
<path transform="translate(616.8,956.9)" d="M-2.8,-1.1h1.7v-1.3h2.2v1.3h1.7v2.2h-1.7v1.3h-2.2v-1.3h-1.7z"/>
<path transform="translate(620.6,957.9)" d="M-2.8,-1.1h1.7v-1.3h2.2v1.3h1.7v2.2h-1.7v1.3h-2.2v-1.3h-1.7z"/>
<path transform="translate(615.3,960.2)" d="M-2.8,-1.1h1.7v-1.3h2.2v1.3h1.7v2.2h-1.7v1.3h-2.2v-1.3h-1.7z"/>
<path transform="translate(619.1,960.2)" d="M-2.8,-1.1h1.7v-1.3h2.2v1.3h1.7v2.2h-1.7v1.3h-2.2v-1.3h-1.7z"/>
<path transform="translate(613.0,962.5)" d="M-2.8,-1.1h1.7v-1.3h2.2v1.3h1.7v2.2h-1.7v1.3h-2.2v-1.3h-1.7z"/>
<path transform="translate(621.4,961.8)" d="M-2.8,-1.1h1.7v-1.3h2.2v1.3h1.7v2.2h-1.7v1.3h-2.2v-1.3h-1.7z"/>
<path transform="translate(619.1,966.3)" d="M-2.8,-1.1h1.7v-1.3h2.2v1.3h1.7v2.2h-1.7v1.3h-2.2v-1.3h-1.7z"/>
<path transform="translate(625.2,970.1)" d="M-2.8,-1.1h1.7v-1.3h2.2v1.3h1.7v2.2h-1.7v1.3h-2.2v-1.3h-1.7z"/>
<path transform="translate(632.0,967.1)" d="M-2.8,-1.1h1.7v-1.3h2.2v1.3h1.7v2.2h-1.7v1.3h-2.2v-1.3h-1.7z"/>
<path transform="translate(633.9,972.4)" d="M-2.8,-1.1h1.7v-1.3h2.2v1.3h1.7v2.2h-1.7v1.3h-2.2v-1.3h-1.7z"/>
<path transform="translate(619.8,972.1)" d="M-2.8,-1.1h1.7v-1.3h2.2v1.3h1.7v2.2h-1.7v1.3h-2.2v-1.3h-1.7z"/>
<path transform="translate(601.5,957.2)" d="M-2.8,-1.1h1.7v-1.3h2.2v1.3h1.7v2.2h-1.7v1.3h-2.2v-1.3h-1.7z"/>
<path transform="translate(604.6,959.0)" d="M-2.8,-1.1h1.7v-1.3h2.2v1.3h1.7v2.2h-1.7v1.3h-2.2v-1.3h-1.7z"/>
<path transform="translate(601.5,973.2)" d="M-2.8,-1.1h1.7v-1.3h2.2v1.3h1.7v2.2h-1.7v1.3h-2.2v-1.3h-1.7z"/>
<path transform="translate(611.4,971.7)" d="M-2.8,-1.1h1.7v-1.3h2.2v1.3h1.7v2.2h-1.7v1.3h-2.2v-1.3h-1.7z"/>
<path transform="translate(609.2,973.7)" d="M-2.8,-1.1h1.7v-1.3h2.2v1.3h1.7v2.2h-1.7v1.3h-2.2v-1.3h-1.7z"/>
<path transform="translate(613.0,973.7)" d="M-2.8,-1.1h1.7v-1.3h2.2v1.3h1.7v2.2h-1.7v1.3h-2.2v-1.3h-1.7z"/>
<path transform="translate(606.9,977.0)" d="M-2.8,-1.1h1.7v-1.3h2.2v1.3h1.7v2.2h-1.7v1.3h-2.2v-1.3h-1.7z"/>
<path transform="translate(605.3,978.5)" d="M-2.8,-1.1h1.7v-1.3h2.2v1.3h1.7v2.2h-1.7v1.3h-2.2v-1.3h-1.7z"/>
<path transform="translate(600.8,981.9)" d="M-2.8,-1.1h1.7v-1.3h2.2v1.3h1.7v2.2h-1.7v1.3h-2.2v-1.3h-1.7z"/>
<path transform="translate(613.7,981.6)" d="M-2.8,-1.1h1.7v-1.3h2.2v1.3h1.7v2.2h-1.7v1.3h-2.2v-1.3h-1.7z"/>
<path transform="translate(602.3,991.5)" d="M-2.8,-1.1h1.7v-1.3h2.2v1.3h1.7v2.2h-1.7v1.3h-2.2v-1.3h-1.7z"/>
</g>
<line x1="61.40" y1="1055.90" x2="285.60" y2="1055.90" stroke="#2a2a2a" stroke-width="1.2"/>
<line x1="61.40" y1="1080.40" x2="285.60" y2="1080.40" stroke="#2a2a2a" stroke-width="1.2"/>
<line x1="61.40" y1="1104.20" x2="285.60" y2="1104.20" stroke="#2a2a2a" stroke-width="1.2"/>
<rect x="200.0" y="1072.9" width="4.9" height="1.8" fill="#6a6a6a"/>
<rect x="200.0" y="1096.2" width="4.9" height="1.8" fill="#6a6a6a"/>
<rect x="249.9" y="1119.7" width="4.9" height="1.8" fill="#6a6a6a"/>
<text id="A" transform="translate(-0.62,17.46) scale(0.9903,1.0000)" font-size="25.5" font-weight="bold" stroke="#000" stroke-width="0.45">A</text>
<text id="A_RISK" transform="translate(29.58,74.10) scale(1.0711,1.0000)" font-size="16.8" font-weight="bold" stroke="#000" stroke-width="0.35">RISK</text>
<text id="A_RS" transform="translate(198.09,198.90) scale(1.0054,1.0000)" font-size="16.8" font-weight="bold" stroke="#000" stroke-width="0.35">RS</text>
<text id="A_RORP" transform="translate(383.02,313.90) scale(1.0213,1.0000)" font-size="16.8" font-weight="bold" stroke="#000" stroke-width="0.35">ROR-P</text>
<text id="A_EP" transform="translate(594.32,389.46) scale(1.0431,1.0000)" font-size="16.8" font-weight="bold" stroke="#000" stroke-width="0.35">EP</text>
<text id="TA_h1" transform="translate(117.92,267.92) scale(0.9868,1.0000)" font-size="14.2" font-weight="bold" stroke="#000" stroke-width="0.35">RS</text>
<text id="TA_h2" transform="translate(145.86,267.52) scale(1.0012,1.0000)" font-size="14.2" font-weight="bold" stroke="#000" stroke-width="0.35">ROR-P</text>
<text id="TA_h3" transform="translate(201.14,267.66) scale(1.0107,1.0000)" font-size="14.2" font-weight="bold" stroke="#000" stroke-width="0.35">EP</text>
<text id="TA_RISK" transform="translate(61.68,293.72) scale(1.0050,1.0000)" font-size="14.2" font-weight="bold" stroke="#000" stroke-width="0.35">RISK</text>
<text id="TA_v11" transform="translate(114.00,285.86) scale(0.9801,1.0000)" font-size="14.2" font-weight="normal" stroke="#000" stroke-width="0.22">0.82</text>
<text id="TA_v12" transform="translate(154.69,285.94) scale(1.0175,1.0000)" font-size="14.2" font-weight="normal" stroke="#000" stroke-width="0.22">0.65</text>
<text id="TA_v13" transform="translate(197.06,285.93) scale(1.0189,1.0000)" font-size="14.2" font-weight="normal" stroke="#000" stroke-width="0.22">0.75</text>
<text id="TA_r1" transform="translate(230.31,286.06) scale(1.0048,1.0000)" font-size="14.2" font-weight="bold" stroke="#000" stroke-width="0.35">ρ</text>
<text id="TA_v21" transform="translate(114.08,304.10) scale(0.9751,1.0000)" font-size="14.2" font-weight="normal" stroke="#000" stroke-width="0.22">0.54</text>
<text id="TA_v22" transform="translate(154.74,304.11) scale(1.0218,1.0000)" font-size="14.2" font-weight="normal" stroke="#000" stroke-width="0.22">0.48</text>
<text id="TA_v23" transform="translate(197.04,304.06) scale(1.0220,1.0000)" font-size="14.2" font-weight="normal" stroke="#000" stroke-width="0.22">0.61</text>
<text id="TA_k1" transform="translate(230.92,304.12) scale(0.9484,0.8569)" font-size="14.2" font-weight="bold" stroke="#000" stroke-width="0.35">k</text>
<text id="TA_RS" transform="translate(61.61,330.52) scale(1.0223,1.0000)" font-size="14.2" font-weight="bold" stroke="#000" stroke-width="0.35">RS</text>
<text id="TA_v31" transform="translate(154.77,322.66) scale(1.0176,1.0000)" font-size="14.2" font-weight="normal" stroke="#000" stroke-width="0.22">0.82</text>
<text id="TA_v32" transform="translate(197.28,322.70) scale(1.0117,1.0000)" font-size="14.2" font-weight="normal" stroke="#000" stroke-width="0.22">0.84</text>
<text id="TA_r2" transform="translate(230.31,323.66) scale(1.0048,1.0000)" font-size="14.2" font-weight="bold" stroke="#000" stroke-width="0.35">ρ</text>
<text id="TA_v41" transform="translate(154.71,340.86) scale(1.0229,1.0000)" font-size="14.2" font-weight="normal" stroke="#000" stroke-width="0.22">0.61</text>
<text id="TA_v42" transform="translate(197.24,340.88) scale(1.0216,1.0000)" font-size="14.2" font-weight="normal" stroke="#000" stroke-width="0.22">0.67</text>
<text id="TA_k2" transform="translate(231.02,339.93) scale(0.9531,0.8378)" font-size="14.2" font-weight="bold" stroke="#000" stroke-width="0.35">k</text>
<text id="TA_RORP" transform="translate(61.68,367.52) scale(1.0091,1.0000)" font-size="14.2" font-weight="bold" stroke="#000" stroke-width="0.35">ROR-P</text>
<text id="TA_v51" transform="translate(197.06,359.93) scale(1.0189,1.0000)" font-size="14.2" font-weight="normal" stroke="#000" stroke-width="0.22">0.75</text>
<text id="TA_r3" transform="translate(230.31,360.66) scale(1.0048,1.0000)" font-size="14.2" font-weight="bold" stroke="#000" stroke-width="0.35">ρ</text>
<text id="TA_v61" transform="translate(197.24,377.28) scale(1.0216,1.0000)" font-size="14.2" font-weight="normal" stroke="#000" stroke-width="0.22">0.67</text>
<text id="TA_k3" transform="translate(230.93,377.92) scale(0.9555,0.9391)" font-size="14.2" font-weight="bold" stroke="#000" stroke-width="0.35">k</text>
<text id="B" transform="translate(0.47,410.06) scale(0.9508,1.0000)" font-size="24.5" font-weight="bold" stroke="#000" stroke-width="0.45">B</text>
<text id="B_RISK" transform="translate(27.95,469.70) scale(1.0325,1.0000)" font-size="16.8" font-weight="bold" stroke="#000" stroke-width="0.35">RISK</text>
<text id="B_RISKs" transform="translate(69.13,473.75) scale(0.9995,1.0000)" font-size="11.5" font-weight="bold" stroke="#000" stroke-width="0.35">PRO</text>
<text id="B_RS" transform="translate(198.69,590.30) scale(1.0069,1.0000)" font-size="16.8" font-weight="bold" stroke="#000" stroke-width="0.35">RS</text>
<text id="B_RSs" transform="translate(222.24,594.35) scale(1.0186,1.0000)" font-size="11.5" font-weight="bold" stroke="#000" stroke-width="0.35">PRO</text>
<text id="B_RORP" transform="translate(383.48,710.50) scale(1.0285,1.0000)" font-size="16.8" font-weight="bold" stroke="#000" stroke-width="0.35">ROR-P</text>
<text id="B_RORPs" transform="translate(438.99,715.15) scale(1.0238,1.0000)" font-size="11.5" font-weight="bold" stroke="#000" stroke-width="0.35">PRO</text>
<text id="B_EP" transform="translate(594.99,787.66) scale(1.0480,1.0000)" font-size="16.8" font-weight="bold" stroke="#000" stroke-width="0.35">EP</text>
<text id="B_EPs" transform="translate(618.33,791.75) scale(1.0068,1.0000)" font-size="11.5" font-weight="bold" stroke="#000" stroke-width="0.35">PRO</text>
<text id="TB_h1" transform="translate(131.78,662.72) scale(1.0299,1.0000)" font-size="14.0" font-weight="bold" stroke="#000" stroke-width="0.35">RS</text>
<text id="TB_h1s" transform="translate(151.52,666.37) scale(1.0274,1.0000)" font-size="9.3" font-weight="bold" stroke="#000" stroke-width="0.35">PRO</text>
<text id="TB_h2" transform="translate(176.83,662.52) scale(1.0321,1.0000)" font-size="14.0" font-weight="bold" stroke="#000" stroke-width="0.35">ROR-P</text>
<text id="TB_h2s" transform="translate(223.00,666.17) scale(1.0145,1.0000)" font-size="9.3" font-weight="bold" stroke="#000" stroke-width="0.35">PRO</text>
<text id="TB_h3" transform="translate(249.10,662.66) scale(1.0392,1.0000)" font-size="14.0" font-weight="bold" stroke="#000" stroke-width="0.35">EP</text>
<text id="TB_h3s" transform="translate(268.31,666.17) scale(1.0641,1.0000)" font-size="9.3" font-weight="bold" stroke="#000" stroke-width="0.35">PRO</text>
<text id="TB_RISK" transform="translate(60.84,686.52) scale(1.0141,1.0000)" font-size="14.0" font-weight="bold" stroke="#000" stroke-width="0.35">RISK</text>
<text id="TB_RISKs" transform="translate(94.78,690.18) scale(1.0313,1.0000)" font-size="9.3" font-weight="bold" stroke="#000" stroke-width="0.35">PRO</text>
<text id="TB_v11" transform="translate(132.82,686.86) scale(1.0231,1.0000)" font-size="14.0" font-weight="normal" stroke="#000" stroke-width="0.22">0.92</text>
<text id="TB_v12" transform="translate(177.55,686.86) scale(1.0395,1.0000)" font-size="14.0" font-weight="normal" stroke="#000" stroke-width="0.22">0.95</text>
<text id="TB_v13" transform="translate(248.60,686.86) scale(1.0407,1.0000)" font-size="14.0" font-weight="normal" stroke="#000" stroke-width="0.22">0.82</text>
<text id="TB_r1" transform="translate(294.45,685.96) scale(1.0906,0.9323)" font-size="14.0" font-weight="bold" stroke="#000" stroke-width="0.35">ρ</text>
<text id="TB_RS" transform="translate(60.77,709.72) scale(1.0445,1.0000)" font-size="14.0" font-weight="bold" stroke="#000" stroke-width="0.35">RS</text>
<text id="TB_RSs" transform="translate(80.46,714.57) scale(1.0270,1.0000)" font-size="9.3" font-weight="bold" stroke="#000" stroke-width="0.35">PRO</text>
<text id="TB_v22" transform="translate(177.42,710.06) scale(1.0361,1.0000)" font-size="14.0" font-weight="normal" stroke="#000" stroke-width="0.22">0.97</text>
<text id="TB_v23" transform="translate(248.60,710.09) scale(1.0280,1.0000)" font-size="14.0" font-weight="normal" stroke="#000" stroke-width="0.22">0.84</text>
<text id="TB_r2" transform="translate(294.15,710.53) scale(1.0652,0.9691)" font-size="14.0" font-weight="bold" stroke="#000" stroke-width="0.35">ρ</text>
<text id="TB_RORP" transform="translate(60.66,733.72) scale(1.0271,1.0000)" font-size="14.0" font-weight="bold" stroke="#000" stroke-width="0.35">ROR-P</text>
<text id="TB_RORPs" transform="translate(107.23,738.17) scale(0.9999,1.0000)" font-size="9.3" font-weight="bold" stroke="#000" stroke-width="0.35">PRO</text>
<text id="TB_v33" transform="translate(248.60,734.49) scale(1.0280,1.0000)" font-size="14.0" font-weight="normal" stroke="#000" stroke-width="0.22">0.84</text>
<text id="TB_r3" transform="translate(294.15,734.33) scale(1.0652,0.9691)" font-size="14.0" font-weight="bold" stroke="#000" stroke-width="0.35">ρ</text>
<text id="C" transform="translate(0.15,804.35) scale(0.9745,1.0000)" font-size="24.5" font-weight="bold" stroke="#000" stroke-width="0.45">C</text>
<text id="C_RISK" transform="translate(28.10,865.70) scale(1.0312,1.0000)" font-size="16.8" font-weight="bold" stroke="#000" stroke-width="0.35">RISK</text>
<text id="C_RISKs" transform="translate(69.29,869.86) scale(1.0211,1.0000)" font-size="11.5" font-weight="bold" stroke="#000" stroke-width="0.35">ER</text>
<text id="C_RS" transform="translate(198.13,980.90) scale(1.0517,1.0000)" font-size="16.8" font-weight="bold" stroke="#000" stroke-width="0.35">RS</text>
<text id="C_RSs" transform="translate(222.07,984.66) scale(1.0017,1.0000)" font-size="11.5" font-weight="bold" stroke="#000" stroke-width="0.35">ER</text>
<text id="C_RORP" transform="translate(383.91,1090.50) scale(1.0144,1.0000)" font-size="16.8" font-weight="bold" stroke="#000" stroke-width="0.35">ROR-P</text>
<text id="C_RORPs" transform="translate(439.43,1094.26) scale(1.0379,1.0000)" font-size="11.5" font-weight="bold" stroke="#000" stroke-width="0.35">ER</text>
<text id="C_EP" transform="translate(580.37,1178.86) scale(1.0166,1.0000)" font-size="16.8" font-weight="bold" stroke="#000" stroke-width="0.35">EP</text>
<text id="C_EPs" transform="translate(603.30,1183.00) scale(1.0275,1.0000)" font-size="11.5" font-weight="bold" stroke="#000" stroke-width="0.35">ER</text>
<text id="TC_h1" transform="translate(132.50,1049.72) scale(1.0847,1.0000)" font-size="14.0" font-weight="bold" stroke="#000" stroke-width="0.35">RS</text>
<text id="TC_h1s" transform="translate(152.84,1053.46) scale(1.0393,1.0000)" font-size="9.3" font-weight="bold" stroke="#000" stroke-width="0.35">ER</text>
<text id="TC_h2" transform="translate(170.16,1050.72) scale(0.9946,1.0000)" font-size="14.0" font-weight="bold" stroke="#000" stroke-width="0.35">ROR-P</text>
<text id="TC_h2s" transform="translate(216.84,1054.06) scale(0.9938,1.0000)" font-size="9.3" font-weight="bold" stroke="#000" stroke-width="0.35">ER</text>
<text id="TC_h3" transform="translate(236.14,1050.86) scale(1.0153,1.0000)" font-size="14.0" font-weight="bold" stroke="#000" stroke-width="0.35">EP</text>
<text id="TC_h3s" transform="translate(254.89,1054.06) scale(1.0747,1.0000)" font-size="9.3" font-weight="bold" stroke="#000" stroke-width="0.35">ER</text>
<text id="TC_RISK" transform="translate(61.40,1073.32) scale(1.0255,1.0000)" font-size="14.0" font-weight="bold" stroke="#000" stroke-width="0.35">RISK</text>
<text id="TC_RISKs" transform="translate(95.48,1077.86) scale(1.0442,1.0000)" font-size="9.3" font-weight="bold" stroke="#000" stroke-width="0.35">ER</text>
<text id="TC_v11" transform="translate(137.51,1077.92) scale(1.0134,1.0000)" font-size="14.0" font-weight="normal" stroke="#000" stroke-width="0.22">0.54</text>
<text id="TC_v13" transform="translate(238.31,1077.97) scale(1.0115,1.0000)" font-size="14.0" font-weight="normal" stroke="#000" stroke-width="0.22">0.37</text>
<text id="TC_r1" transform="translate(273.05,1073.56) scale(1.0740,0.9337)" font-size="14.0" font-weight="bold" stroke="#000" stroke-width="0.35">ρ</text>
<text id="TC_RS" transform="translate(61.22,1097.72) scale(1.0580,1.0000)" font-size="14.0" font-weight="bold" stroke="#000" stroke-width="0.35">RS</text>
<text id="TC_RSs" transform="translate(81.37,1101.66) scale(1.0629,1.0000)" font-size="9.3" font-weight="bold" stroke="#000" stroke-width="0.35">ER</text>
<text id="TC_v23" transform="translate(238.30,1101.11) scale(1.0047,1.0000)" font-size="14.0" font-weight="normal" stroke="#000" stroke-width="0.22">0.75</text>
<text id="TC_r2" transform="translate(273.39,1097.73) scale(1.0587,0.9682)" font-size="14.0" font-weight="bold" stroke="#000" stroke-width="0.35">ρ</text>
<text id="TC_RORP" transform="translate(61.37,1121.52) scale(1.0287,1.0000)" font-size="14.0" font-weight="bold" stroke="#000" stroke-width="0.35">ROR-P</text>
<text id="TC_RORPs" transform="translate(107.40,1124.86) scale(1.0882,1.0000)" font-size="9.3" font-weight="bold" stroke="#000" stroke-width="0.35">ER</text>
<text id="TC_r3" transform="translate(273.39,1121.53) scale(1.0587,0.9682)" font-size="14.0" font-weight="bold" stroke="#000" stroke-width="0.35">ρ</text>
</svg>
</body></html>
